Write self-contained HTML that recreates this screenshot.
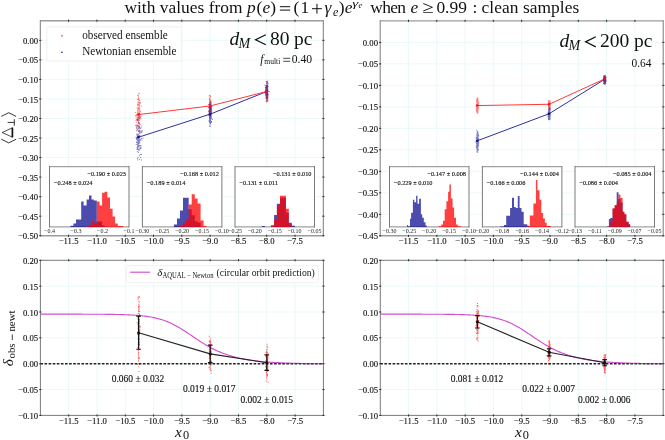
<!DOCTYPE html>
<html><head><meta charset="utf-8"><style>
html,body{margin:0;padding:0;background:#fff;}
body{width:665px;height:440px;overflow:hidden;font-family:"Liberation Serif", serif;}
svg{display:block;will-change:transform;}
</style></head><body>
<svg width="665" height="440" viewBox="0 0 665 440" font-family='"Liberation Serif", serif' fill="#111">
<style>text.s{stroke:#111;stroke-width:0.14px;}</style>
<rect width="665" height="440" fill="#fff"/>
<line x1="68.6" y1="20.8" x2="68.6" y2="235.7" stroke="#e9f8f8" stroke-width="0.9"/>
<line x1="96.9" y1="20.8" x2="96.9" y2="235.7" stroke="#e9f8f8" stroke-width="0.9"/>
<line x1="125.2" y1="20.8" x2="125.2" y2="235.7" stroke="#e9f8f8" stroke-width="0.9"/>
<line x1="153.5" y1="20.8" x2="153.5" y2="235.7" stroke="#e9f8f8" stroke-width="0.9"/>
<line x1="181.8" y1="20.8" x2="181.8" y2="235.7" stroke="#e9f8f8" stroke-width="0.9"/>
<line x1="210.1" y1="20.8" x2="210.1" y2="235.7" stroke="#e9f8f8" stroke-width="0.9"/>
<line x1="238.4" y1="20.8" x2="238.4" y2="235.7" stroke="#e9f8f8" stroke-width="0.9"/>
<line x1="266.7" y1="20.8" x2="266.7" y2="235.7" stroke="#e9f8f8" stroke-width="0.9"/>
<line x1="295" y1="20.8" x2="295" y2="235.7" stroke="#e9f8f8" stroke-width="0.9"/>
<line x1="40.3" y1="40.34" x2="323.3" y2="40.34" stroke="#e9f8f8" stroke-width="0.9"/>
<line x1="40.3" y1="59.87" x2="323.3" y2="59.87" stroke="#e9f8f8" stroke-width="0.9"/>
<line x1="40.3" y1="79.41" x2="323.3" y2="79.41" stroke="#e9f8f8" stroke-width="0.9"/>
<line x1="40.3" y1="98.95" x2="323.3" y2="98.95" stroke="#e9f8f8" stroke-width="0.9"/>
<line x1="40.3" y1="118.48" x2="323.3" y2="118.48" stroke="#e9f8f8" stroke-width="0.9"/>
<line x1="40.3" y1="138.02" x2="323.3" y2="138.02" stroke="#e9f8f8" stroke-width="0.9"/>
<line x1="40.3" y1="157.55" x2="323.3" y2="157.55" stroke="#e9f8f8" stroke-width="0.9"/>
<line x1="40.3" y1="177.09" x2="323.3" y2="177.09" stroke="#e9f8f8" stroke-width="0.9"/>
<line x1="40.3" y1="196.63" x2="323.3" y2="196.63" stroke="#e9f8f8" stroke-width="0.9"/>
<line x1="40.3" y1="216.16" x2="323.3" y2="216.16" stroke="#e9f8f8" stroke-width="0.9"/>
<line x1="40.3" y1="235.7" x2="323.3" y2="235.7" stroke="#e9f8f8" stroke-width="0.9"/>
<text x="68.6" y="244.2" font-size="9.13" text-anchor="middle" class="s" textLength="19.81" lengthAdjust="spacingAndGlyphs">−11.5</text>
<text x="96.9" y="244.2" font-size="9.13" text-anchor="middle" class="s" textLength="19.81" lengthAdjust="spacingAndGlyphs">−11.0</text>
<text x="125.2" y="244.2" font-size="9.13" text-anchor="middle" class="s" textLength="20.13" lengthAdjust="spacingAndGlyphs">−10.5</text>
<text x="153.5" y="244.2" font-size="9.13" text-anchor="middle" class="s" textLength="20.13" lengthAdjust="spacingAndGlyphs">−10.0</text>
<text x="181.8" y="244.2" font-size="9.13" text-anchor="middle" class="s" textLength="15.78" lengthAdjust="spacingAndGlyphs">−9.5</text>
<text x="210.1" y="244.2" font-size="9.13" text-anchor="middle" class="s" textLength="15.78" lengthAdjust="spacingAndGlyphs">−9.0</text>
<text x="238.4" y="244.2" font-size="9.13" text-anchor="middle" class="s" textLength="15.78" lengthAdjust="spacingAndGlyphs">−8.5</text>
<text x="266.7" y="244.2" font-size="9.13" text-anchor="middle" class="s" textLength="15.78" lengthAdjust="spacingAndGlyphs">−8.0</text>
<text x="295" y="244.2" font-size="9.13" text-anchor="middle" class="s" textLength="15.78" lengthAdjust="spacingAndGlyphs">−7.5</text>
<text x="38.1" y="43.89" font-size="9.13" text-anchor="end" class="s" textLength="15.22" lengthAdjust="spacingAndGlyphs">0.00</text>
<text x="38.1" y="63.42" font-size="9.13" text-anchor="end" class="s" textLength="20.13" lengthAdjust="spacingAndGlyphs">−0.05</text>
<text x="38.1" y="82.96" font-size="9.13" text-anchor="end" class="s" textLength="20.13" lengthAdjust="spacingAndGlyphs">−0.10</text>
<text x="38.1" y="102.5" font-size="9.13" text-anchor="end" class="s" textLength="20.13" lengthAdjust="spacingAndGlyphs">−0.15</text>
<text x="38.1" y="122.03" font-size="9.13" text-anchor="end" class="s" textLength="20.13" lengthAdjust="spacingAndGlyphs">−0.20</text>
<text x="38.1" y="141.57" font-size="9.13" text-anchor="end" class="s" textLength="20.13" lengthAdjust="spacingAndGlyphs">−0.25</text>
<text x="38.1" y="161.1" font-size="9.13" text-anchor="end" class="s" textLength="20.13" lengthAdjust="spacingAndGlyphs">−0.30</text>
<text x="38.1" y="180.64" font-size="9.13" text-anchor="end" class="s" textLength="20.13" lengthAdjust="spacingAndGlyphs">−0.35</text>
<text x="38.1" y="200.18" font-size="9.13" text-anchor="end" class="s" textLength="20.13" lengthAdjust="spacingAndGlyphs">−0.40</text>
<text x="38.1" y="219.71" font-size="9.13" text-anchor="end" class="s" textLength="20.13" lengthAdjust="spacingAndGlyphs">−0.45</text>
<text x="38.1" y="239.25" font-size="9.13" text-anchor="end" class="s" textLength="20.13" lengthAdjust="spacingAndGlyphs">−0.50</text>
<line x1="408.5" y1="20.9" x2="408.5" y2="235.8" stroke="#e9f8f8" stroke-width="0.9"/>
<line x1="436.8" y1="20.9" x2="436.8" y2="235.8" stroke="#e9f8f8" stroke-width="0.9"/>
<line x1="465.1" y1="20.9" x2="465.1" y2="235.8" stroke="#e9f8f8" stroke-width="0.9"/>
<line x1="493.4" y1="20.9" x2="493.4" y2="235.8" stroke="#e9f8f8" stroke-width="0.9"/>
<line x1="521.7" y1="20.9" x2="521.7" y2="235.8" stroke="#e9f8f8" stroke-width="0.9"/>
<line x1="550" y1="20.9" x2="550" y2="235.8" stroke="#e9f8f8" stroke-width="0.9"/>
<line x1="578.3" y1="20.9" x2="578.3" y2="235.8" stroke="#e9f8f8" stroke-width="0.9"/>
<line x1="606.6" y1="20.9" x2="606.6" y2="235.8" stroke="#e9f8f8" stroke-width="0.9"/>
<line x1="634.9" y1="20.9" x2="634.9" y2="235.8" stroke="#e9f8f8" stroke-width="0.9"/>
<line x1="380.2" y1="42.39" x2="663.2" y2="42.39" stroke="#e9f8f8" stroke-width="0.9"/>
<line x1="380.2" y1="63.88" x2="663.2" y2="63.88" stroke="#e9f8f8" stroke-width="0.9"/>
<line x1="380.2" y1="85.37" x2="663.2" y2="85.37" stroke="#e9f8f8" stroke-width="0.9"/>
<line x1="380.2" y1="106.86" x2="663.2" y2="106.86" stroke="#e9f8f8" stroke-width="0.9"/>
<line x1="380.2" y1="128.35" x2="663.2" y2="128.35" stroke="#e9f8f8" stroke-width="0.9"/>
<line x1="380.2" y1="149.84" x2="663.2" y2="149.84" stroke="#e9f8f8" stroke-width="0.9"/>
<line x1="380.2" y1="171.33" x2="663.2" y2="171.33" stroke="#e9f8f8" stroke-width="0.9"/>
<line x1="380.2" y1="192.82" x2="663.2" y2="192.82" stroke="#e9f8f8" stroke-width="0.9"/>
<line x1="380.2" y1="214.31" x2="663.2" y2="214.31" stroke="#e9f8f8" stroke-width="0.9"/>
<line x1="380.2" y1="235.8" x2="663.2" y2="235.8" stroke="#e9f8f8" stroke-width="0.9"/>
<text x="408.5" y="244.4" font-size="9.13" text-anchor="middle" class="s" textLength="19.81" lengthAdjust="spacingAndGlyphs">−11.5</text>
<text x="436.8" y="244.4" font-size="9.13" text-anchor="middle" class="s" textLength="19.81" lengthAdjust="spacingAndGlyphs">−11.0</text>
<text x="465.1" y="244.4" font-size="9.13" text-anchor="middle" class="s" textLength="20.13" lengthAdjust="spacingAndGlyphs">−10.5</text>
<text x="493.4" y="244.4" font-size="9.13" text-anchor="middle" class="s" textLength="20.13" lengthAdjust="spacingAndGlyphs">−10.0</text>
<text x="521.7" y="244.4" font-size="9.13" text-anchor="middle" class="s" textLength="15.78" lengthAdjust="spacingAndGlyphs">−9.5</text>
<text x="550" y="244.4" font-size="9.13" text-anchor="middle" class="s" textLength="15.78" lengthAdjust="spacingAndGlyphs">−9.0</text>
<text x="578.3" y="244.4" font-size="9.13" text-anchor="middle" class="s" textLength="15.78" lengthAdjust="spacingAndGlyphs">−8.5</text>
<text x="606.6" y="244.4" font-size="9.13" text-anchor="middle" class="s" textLength="15.78" lengthAdjust="spacingAndGlyphs">−8.0</text>
<text x="634.9" y="244.4" font-size="9.13" text-anchor="middle" class="s" textLength="15.78" lengthAdjust="spacingAndGlyphs">−7.5</text>
<text x="378" y="45.94" font-size="9.13" text-anchor="end" class="s" textLength="15.22" lengthAdjust="spacingAndGlyphs">0.00</text>
<text x="378" y="67.43" font-size="9.13" text-anchor="end" class="s" textLength="20.13" lengthAdjust="spacingAndGlyphs">−0.05</text>
<text x="378" y="88.92" font-size="9.13" text-anchor="end" class="s" textLength="20.13" lengthAdjust="spacingAndGlyphs">−0.10</text>
<text x="378" y="110.41" font-size="9.13" text-anchor="end" class="s" textLength="20.13" lengthAdjust="spacingAndGlyphs">−0.15</text>
<text x="378" y="131.9" font-size="9.13" text-anchor="end" class="s" textLength="20.13" lengthAdjust="spacingAndGlyphs">−0.20</text>
<text x="378" y="153.39" font-size="9.13" text-anchor="end" class="s" textLength="20.13" lengthAdjust="spacingAndGlyphs">−0.25</text>
<text x="378" y="174.88" font-size="9.13" text-anchor="end" class="s" textLength="20.13" lengthAdjust="spacingAndGlyphs">−0.30</text>
<text x="378" y="196.37" font-size="9.13" text-anchor="end" class="s" textLength="20.13" lengthAdjust="spacingAndGlyphs">−0.35</text>
<text x="378" y="217.86" font-size="9.13" text-anchor="end" class="s" textLength="20.13" lengthAdjust="spacingAndGlyphs">−0.40</text>
<text x="378" y="239.35" font-size="9.13" text-anchor="end" class="s" textLength="20.13" lengthAdjust="spacingAndGlyphs">−0.45</text>
<line x1="68.7" y1="260.3" x2="68.7" y2="415.4" stroke="#e9f8f8" stroke-width="0.9"/>
<line x1="97" y1="260.3" x2="97" y2="415.4" stroke="#e9f8f8" stroke-width="0.9"/>
<line x1="125.3" y1="260.3" x2="125.3" y2="415.4" stroke="#e9f8f8" stroke-width="0.9"/>
<line x1="153.6" y1="260.3" x2="153.6" y2="415.4" stroke="#e9f8f8" stroke-width="0.9"/>
<line x1="181.9" y1="260.3" x2="181.9" y2="415.4" stroke="#e9f8f8" stroke-width="0.9"/>
<line x1="210.2" y1="260.3" x2="210.2" y2="415.4" stroke="#e9f8f8" stroke-width="0.9"/>
<line x1="238.5" y1="260.3" x2="238.5" y2="415.4" stroke="#e9f8f8" stroke-width="0.9"/>
<line x1="266.8" y1="260.3" x2="266.8" y2="415.4" stroke="#e9f8f8" stroke-width="0.9"/>
<line x1="295.1" y1="260.3" x2="295.1" y2="415.4" stroke="#e9f8f8" stroke-width="0.9"/>
<line x1="40.4" y1="260.3" x2="323.4" y2="260.3" stroke="#e9f8f8" stroke-width="0.9"/>
<line x1="40.4" y1="286.15" x2="323.4" y2="286.15" stroke="#e9f8f8" stroke-width="0.9"/>
<line x1="40.4" y1="312" x2="323.4" y2="312" stroke="#e9f8f8" stroke-width="0.9"/>
<line x1="40.4" y1="337.85" x2="323.4" y2="337.85" stroke="#e9f8f8" stroke-width="0.9"/>
<line x1="40.4" y1="363.7" x2="323.4" y2="363.7" stroke="#e9f8f8" stroke-width="0.9"/>
<line x1="40.4" y1="389.55" x2="323.4" y2="389.55" stroke="#e9f8f8" stroke-width="0.9"/>
<line x1="40.4" y1="415.4" x2="323.4" y2="415.4" stroke="#e9f8f8" stroke-width="0.9"/>
<text x="68.7" y="424.2" font-size="9.13" text-anchor="middle" class="s" textLength="19.81" lengthAdjust="spacingAndGlyphs">−11.5</text>
<text x="97" y="424.2" font-size="9.13" text-anchor="middle" class="s" textLength="19.81" lengthAdjust="spacingAndGlyphs">−11.0</text>
<text x="125.3" y="424.2" font-size="9.13" text-anchor="middle" class="s" textLength="20.13" lengthAdjust="spacingAndGlyphs">−10.5</text>
<text x="153.6" y="424.2" font-size="9.13" text-anchor="middle" class="s" textLength="20.13" lengthAdjust="spacingAndGlyphs">−10.0</text>
<text x="181.9" y="424.2" font-size="9.13" text-anchor="middle" class="s" textLength="15.78" lengthAdjust="spacingAndGlyphs">−9.5</text>
<text x="210.2" y="424.2" font-size="9.13" text-anchor="middle" class="s" textLength="15.78" lengthAdjust="spacingAndGlyphs">−9.0</text>
<text x="238.5" y="424.2" font-size="9.13" text-anchor="middle" class="s" textLength="15.78" lengthAdjust="spacingAndGlyphs">−8.5</text>
<text x="266.8" y="424.2" font-size="9.13" text-anchor="middle" class="s" textLength="15.78" lengthAdjust="spacingAndGlyphs">−8.0</text>
<text x="295.1" y="424.2" font-size="9.13" text-anchor="middle" class="s" textLength="15.78" lengthAdjust="spacingAndGlyphs">−7.5</text>
<text x="38.2" y="263.85" font-size="9.13" text-anchor="end" class="s" textLength="15.22" lengthAdjust="spacingAndGlyphs">0.20</text>
<text x="38.2" y="289.7" font-size="9.13" text-anchor="end" class="s" textLength="15.22" lengthAdjust="spacingAndGlyphs">0.15</text>
<text x="38.2" y="315.55" font-size="9.13" text-anchor="end" class="s" textLength="15.22" lengthAdjust="spacingAndGlyphs">0.10</text>
<text x="38.2" y="341.4" font-size="9.13" text-anchor="end" class="s" textLength="15.22" lengthAdjust="spacingAndGlyphs">0.05</text>
<text x="38.2" y="367.25" font-size="9.13" text-anchor="end" class="s" textLength="15.22" lengthAdjust="spacingAndGlyphs">0.00</text>
<text x="38.2" y="393.1" font-size="9.13" text-anchor="end" class="s" textLength="20.13" lengthAdjust="spacingAndGlyphs">−0.05</text>
<text x="38.2" y="418.95" font-size="9.13" text-anchor="end" class="s" textLength="20.13" lengthAdjust="spacingAndGlyphs">−0.10</text>
<line x1="408.59" y1="260.3" x2="408.59" y2="415.4" stroke="#e9f8f8" stroke-width="0.9"/>
<line x1="436.88" y1="260.3" x2="436.88" y2="415.4" stroke="#e9f8f8" stroke-width="0.9"/>
<line x1="465.17" y1="260.3" x2="465.17" y2="415.4" stroke="#e9f8f8" stroke-width="0.9"/>
<line x1="493.46" y1="260.3" x2="493.46" y2="415.4" stroke="#e9f8f8" stroke-width="0.9"/>
<line x1="521.75" y1="260.3" x2="521.75" y2="415.4" stroke="#e9f8f8" stroke-width="0.9"/>
<line x1="550.04" y1="260.3" x2="550.04" y2="415.4" stroke="#e9f8f8" stroke-width="0.9"/>
<line x1="578.33" y1="260.3" x2="578.33" y2="415.4" stroke="#e9f8f8" stroke-width="0.9"/>
<line x1="606.62" y1="260.3" x2="606.62" y2="415.4" stroke="#e9f8f8" stroke-width="0.9"/>
<line x1="634.91" y1="260.3" x2="634.91" y2="415.4" stroke="#e9f8f8" stroke-width="0.9"/>
<line x1="380.3" y1="260.3" x2="663.2" y2="260.3" stroke="#e9f8f8" stroke-width="0.9"/>
<line x1="380.3" y1="286.15" x2="663.2" y2="286.15" stroke="#e9f8f8" stroke-width="0.9"/>
<line x1="380.3" y1="312" x2="663.2" y2="312" stroke="#e9f8f8" stroke-width="0.9"/>
<line x1="380.3" y1="337.85" x2="663.2" y2="337.85" stroke="#e9f8f8" stroke-width="0.9"/>
<line x1="380.3" y1="363.7" x2="663.2" y2="363.7" stroke="#e9f8f8" stroke-width="0.9"/>
<line x1="380.3" y1="389.55" x2="663.2" y2="389.55" stroke="#e9f8f8" stroke-width="0.9"/>
<line x1="380.3" y1="415.4" x2="663.2" y2="415.4" stroke="#e9f8f8" stroke-width="0.9"/>
<text x="408.59" y="424.2" font-size="9.13" text-anchor="middle" class="s" textLength="19.81" lengthAdjust="spacingAndGlyphs">−11.5</text>
<text x="436.88" y="424.2" font-size="9.13" text-anchor="middle" class="s" textLength="19.81" lengthAdjust="spacingAndGlyphs">−11.0</text>
<text x="465.17" y="424.2" font-size="9.13" text-anchor="middle" class="s" textLength="20.13" lengthAdjust="spacingAndGlyphs">−10.5</text>
<text x="493.46" y="424.2" font-size="9.13" text-anchor="middle" class="s" textLength="20.13" lengthAdjust="spacingAndGlyphs">−10.0</text>
<text x="521.75" y="424.2" font-size="9.13" text-anchor="middle" class="s" textLength="15.78" lengthAdjust="spacingAndGlyphs">−9.5</text>
<text x="550.04" y="424.2" font-size="9.13" text-anchor="middle" class="s" textLength="15.78" lengthAdjust="spacingAndGlyphs">−9.0</text>
<text x="578.33" y="424.2" font-size="9.13" text-anchor="middle" class="s" textLength="15.78" lengthAdjust="spacingAndGlyphs">−8.5</text>
<text x="606.62" y="424.2" font-size="9.13" text-anchor="middle" class="s" textLength="15.78" lengthAdjust="spacingAndGlyphs">−8.0</text>
<text x="634.91" y="424.2" font-size="9.13" text-anchor="middle" class="s" textLength="15.78" lengthAdjust="spacingAndGlyphs">−7.5</text>
<text x="378.1" y="263.85" font-size="9.13" text-anchor="end" class="s" textLength="15.22" lengthAdjust="spacingAndGlyphs">0.20</text>
<text x="378.1" y="289.7" font-size="9.13" text-anchor="end" class="s" textLength="15.22" lengthAdjust="spacingAndGlyphs">0.15</text>
<text x="378.1" y="315.55" font-size="9.13" text-anchor="end" class="s" textLength="15.22" lengthAdjust="spacingAndGlyphs">0.10</text>
<text x="378.1" y="341.4" font-size="9.13" text-anchor="end" class="s" textLength="15.22" lengthAdjust="spacingAndGlyphs">0.05</text>
<text x="378.1" y="367.25" font-size="9.13" text-anchor="end" class="s" textLength="15.22" lengthAdjust="spacingAndGlyphs">0.00</text>
<text x="378.1" y="393.1" font-size="9.13" text-anchor="end" class="s" textLength="20.13" lengthAdjust="spacingAndGlyphs">−0.05</text>
<text x="378.1" y="418.95" font-size="9.13" text-anchor="end" class="s" textLength="20.13" lengthAdjust="spacingAndGlyphs">−0.10</text>
<path d="M139.62 101.55h1.0v1.0h-1.0zM138.11 104.07h1.0v1.0h-1.0zM136.99 136.53h1.0v1.0h-1.0zM140.28 111.55h1.0v1.0h-1.0zM138.16 115.16h1.0v1.0h-1.0zM138 120.95h1.0v1.0h-1.0zM138.38 116.79h1.0v1.0h-1.0zM135.54 120.05h1.0v1.0h-1.0zM138.4 98.93h1.0v1.0h-1.0zM138.37 105.08h1.0v1.0h-1.0zM138.24 108.1h1.0v1.0h-1.0zM137.24 111.4h1.0v1.0h-1.0zM138.91 124.34h1.0v1.0h-1.0zM138.89 109.01h1.0v1.0h-1.0zM137.5 135.05h1.0v1.0h-1.0zM138.97 126.3h1.0v1.0h-1.0zM136.14 124.3h1.0v1.0h-1.0zM136.63 115.25h1.0v1.0h-1.0zM138.24 98.53h1.0v1.0h-1.0zM138.82 104.54h1.0v1.0h-1.0zM137.65 122.32h1.0v1.0h-1.0zM136.17 115.4h1.0v1.0h-1.0zM137.12 103.56h1.0v1.0h-1.0zM139.86 110.79h1.0v1.0h-1.0zM137.2 119.54h1.0v1.0h-1.0zM134.92 114.93h1.0v1.0h-1.0zM135.96 118.97h1.0v1.0h-1.0zM135.35 116.49h1.0v1.0h-1.0zM137.28 112.77h1.0v1.0h-1.0zM138.27 114.83h1.0v1.0h-1.0zM139.17 131.5h1.0v1.0h-1.0zM138.65 124.7h1.0v1.0h-1.0zM137.8 113.21h1.0v1.0h-1.0zM137.46 117.13h1.0v1.0h-1.0zM137.08 113.78h1.0v1.0h-1.0zM136.6 117.58h1.0v1.0h-1.0zM137.89 114.02h1.0v1.0h-1.0zM138.82 103.89h1.0v1.0h-1.0zM138.76 129.89h1.0v1.0h-1.0zM138.08 97.33h1.0v1.0h-1.0zM138.33 113.17h1.0v1.0h-1.0zM138.18 126.14h1.0v1.0h-1.0zM137.41 124.49h1.0v1.0h-1.0zM138.9 105.3h1.0v1.0h-1.0zM137.89 100.55h1.0v1.0h-1.0zM137.59 99h1.0v1.0h-1.0zM137.25 108.43h1.0v1.0h-1.0zM140.05 102.4h1.0v1.0h-1.0zM138.55 102.72h1.0v1.0h-1.0zM138.37 114.2h1.0v1.0h-1.0zM138.02 119.78h1.0v1.0h-1.0zM137.53 124.72h1.0v1.0h-1.0zM140.17 117.03h1.0v1.0h-1.0zM138.43 101.76h1.0v1.0h-1.0zM137.26 118.2h1.0v1.0h-1.0zM139.05 111.84h1.0v1.0h-1.0zM138.84 119.99h1.0v1.0h-1.0zM137.15 94.81h1.0v1.0h-1.0zM137.4 108.72h1.0v1.0h-1.0zM138.38 116.3h1.0v1.0h-1.0zM139.59 117.32h1.0v1.0h-1.0zM140.23 132.48h1.0v1.0h-1.0zM137.04 115.06h1.0v1.0h-1.0zM138.62 101.63h1.0v1.0h-1.0zM138.34 110.61h1.0v1.0h-1.0zM137.77 104.44h1.0v1.0h-1.0zM138.46 106.94h1.0v1.0h-1.0zM138.36 122.58h1.0v1.0h-1.0zM137.16 129.82h1.0v1.0h-1.0zM136.84 99.12h1.0v1.0h-1.0zM134.85 112.03h1.0v1.0h-1.0zM138.08 118.31h1.0v1.0h-1.0zM138.82 117.87h1.0v1.0h-1.0zM136.38 124.73h1.0v1.0h-1.0zM137.64 108.29h1.0v1.0h-1.0zM135.9 128.14h1.0v1.0h-1.0zM139.1 100.04h1.0v1.0h-1.0zM138.58 113.72h1.0v1.0h-1.0zM138.66 130.97h1.0v1.0h-1.0zM136.66 124.96h1.0v1.0h-1.0zM137.42 119.25h1.0v1.0h-1.0zM137.9 95.77h1.0v1.0h-1.0zM139.28 119.08h1.0v1.0h-1.0zM137.91 120.45h1.0v1.0h-1.0zM138.4 116.27h1.0v1.0h-1.0zM139.34 115.76h1.0v1.0h-1.0zM138.57 108.77h1.0v1.0h-1.0zM140.15 102.68h1.0v1.0h-1.0zM140.6 118.23h1.0v1.0h-1.0zM138.12 97.18h1.0v1.0h-1.0zM137.96 118.12h1.0v1.0h-1.0zM139.1 115.4h1.0v1.0h-1.0zM137.21 110.47h1.0v1.0h-1.0zM140.73 126.88h1.0v1.0h-1.0zM138.76 110.55h1.0v1.0h-1.0zM139.57 115.99h1.0v1.0h-1.0zM137.69 120.49h1.0v1.0h-1.0zM137.85 103.82h1.0v1.0h-1.0zM137.21 125.11h1.0v1.0h-1.0zM137.4 109.69h1.0v1.0h-1.0zM137.25 98.67h1.0v1.0h-1.0zM137.82 106.91h1.0v1.0h-1.0zM136.8 120.34h1.0v1.0h-1.0zM139 113.12h1.0v1.0h-1.0zM137.74 116.43h1.0v1.0h-1.0zM137.53 120.17h1.0v1.0h-1.0zM135.88 113.82h1.0v1.0h-1.0zM136.12 114.82h1.0v1.0h-1.0zM138.82 116.31h1.0v1.0h-1.0zM140.26 116.16h1.0v1.0h-1.0zM139.22 107.85h1.0v1.0h-1.0zM138.4 115.79h1.0v1.0h-1.0zM139.84 123.85h1.0v1.0h-1.0zM139.17 127.1h1.0v1.0h-1.0zM138.68 105.97h1.0v1.0h-1.0zM137.78 127.59h1.0v1.0h-1.0zM140.85 105.47h1.0v1.0h-1.0zM136.8 117.99h1.0v1.0h-1.0zM137.06 111.97h1.0v1.0h-1.0zM138.14 112.58h1.0v1.0h-1.0zM136.87 104.64h1.0v1.0h-1.0zM137.77 107.99h1.0v1.0h-1.0zM138.03 97.71h1.0v1.0h-1.0zM136.87 107.37h1.0v1.0h-1.0zM139.55 114.06h1.0v1.0h-1.0zM137.42 122.34h1.0v1.0h-1.0zM138.05 121.16h1.0v1.0h-1.0zM137.34 113.72h1.0v1.0h-1.0zM135.84 121.83h1.0v1.0h-1.0zM137.89 92.82h1.0v1.0h-1.0zM139.38 109.9h1.0v1.0h-1.0zM139.2 101.67h1.0v1.0h-1.0zM137.49 101.8h1.0v1.0h-1.0zM136.92 104.49h1.0v1.0h-1.0zM136.29 124.49h1.0v1.0h-1.0zM139.59 117.48h1.0v1.0h-1.0zM138.15 108.28h1.0v1.0h-1.0zM138.17 117.51h1.0v1.0h-1.0zM137.93 122.71h1.0v1.0h-1.0zM139.09 93.31h1.0v1.0h-1.0zM140.21 116.5h1.0v1.0h-1.0zM137.87 94.84h1.0v1.0h-1.0zM139.42 102.66h1.0v1.0h-1.0zM137.2 126.34h1.0v1.0h-1.0zM140.85 125.53h1.0v1.0h-1.0z" fill="#ff0000" fill-opacity="0.5"/>
<path d="M136.52 133.7h1.0v1.0h-1.0zM136.6 134.85h1.0v1.0h-1.0zM138.79 126.94h1.0v1.0h-1.0zM138.31 141.26h1.0v1.0h-1.0zM140.19 128.02h1.0v1.0h-1.0zM141.8 130.31h1.0v1.0h-1.0zM137.11 147.91h1.0v1.0h-1.0zM139.77 135.4h1.0v1.0h-1.0zM138.51 126.2h1.0v1.0h-1.0zM136.75 134.97h1.0v1.0h-1.0zM136.26 138.84h1.0v1.0h-1.0zM137.38 146.08h1.0v1.0h-1.0zM142.54 137.69h1.0v1.0h-1.0zM137.85 145.11h1.0v1.0h-1.0zM138.03 133.77h1.0v1.0h-1.0zM136.06 126.6h1.0v1.0h-1.0zM140.64 145.29h1.0v1.0h-1.0zM138.88 117.3h1.0v1.0h-1.0zM139.48 139.21h1.0v1.0h-1.0zM136.56 149.07h1.0v1.0h-1.0zM139.17 132.85h1.0v1.0h-1.0zM138.18 141.93h1.0v1.0h-1.0zM138.53 135.28h1.0v1.0h-1.0zM138.9 126.45h1.0v1.0h-1.0zM138.94 113.15h1.0v1.0h-1.0zM137.74 140.9h1.0v1.0h-1.0zM138.39 130h1.0v1.0h-1.0zM138.52 144.78h1.0v1.0h-1.0zM138.48 128.13h1.0v1.0h-1.0zM137.77 140.59h1.0v1.0h-1.0zM138.39 130.18h1.0v1.0h-1.0zM137.62 125.48h1.0v1.0h-1.0zM139.64 130.59h1.0v1.0h-1.0zM137.12 142.61h1.0v1.0h-1.0zM139.63 139.98h1.0v1.0h-1.0zM138.72 141.67h1.0v1.0h-1.0zM140.21 146.65h1.0v1.0h-1.0zM138.96 122.94h1.0v1.0h-1.0zM139.22 115.55h1.0v1.0h-1.0zM137.04 147.34h1.0v1.0h-1.0zM141.46 131.45h1.0v1.0h-1.0zM137.86 144.17h1.0v1.0h-1.0zM137.24 141.69h1.0v1.0h-1.0zM138.06 140.72h1.0v1.0h-1.0zM135.73 143.92h1.0v1.0h-1.0zM137.59 116.67h1.0v1.0h-1.0zM139.2 136.46h1.0v1.0h-1.0zM138.92 135.07h1.0v1.0h-1.0zM137.52 139.42h1.0v1.0h-1.0zM141.04 153.89h1.0v1.0h-1.0zM137.51 156.94h1.0v1.0h-1.0zM138.4 136.85h1.0v1.0h-1.0zM137.15 145.36h1.0v1.0h-1.0zM136.07 141.61h1.0v1.0h-1.0zM137.98 151.81h1.0v1.0h-1.0zM139.22 141.68h1.0v1.0h-1.0zM140.34 148.31h1.0v1.0h-1.0zM138.82 155.35h1.0v1.0h-1.0zM137.23 143.74h1.0v1.0h-1.0zM137.73 139.66h1.0v1.0h-1.0zM140.89 138.05h1.0v1.0h-1.0zM136.49 127.38h1.0v1.0h-1.0zM135.79 126.13h1.0v1.0h-1.0zM138.15 139.54h1.0v1.0h-1.0zM137.2 136.43h1.0v1.0h-1.0zM136.31 137.01h1.0v1.0h-1.0zM138.14 135.82h1.0v1.0h-1.0zM137.76 142.91h1.0v1.0h-1.0zM139.77 144.93h1.0v1.0h-1.0zM139.07 142.49h1.0v1.0h-1.0zM138.6 127.8h1.0v1.0h-1.0zM140.5 147.15h1.0v1.0h-1.0zM137.15 144.17h1.0v1.0h-1.0zM135.62 136.84h1.0v1.0h-1.0zM137.37 159.51h1.0v1.0h-1.0zM138.86 128.27h1.0v1.0h-1.0zM138.46 127.79h1.0v1.0h-1.0zM136.99 136.92h1.0v1.0h-1.0zM139.6 139.21h1.0v1.0h-1.0zM140.8 130.87h1.0v1.0h-1.0zM137.71 149.02h1.0v1.0h-1.0zM138.22 140.26h1.0v1.0h-1.0zM137.87 136.65h1.0v1.0h-1.0zM138.21 128.48h1.0v1.0h-1.0zM137.16 144.64h1.0v1.0h-1.0zM136.79 151.32h1.0v1.0h-1.0zM137.8 142.97h1.0v1.0h-1.0zM138.24 135.99h1.0v1.0h-1.0zM137.96 142.98h1.0v1.0h-1.0zM136.99 125.28h1.0v1.0h-1.0zM136.47 147.61h1.0v1.0h-1.0zM140.09 147.72h1.0v1.0h-1.0zM136.37 133.45h1.0v1.0h-1.0zM136.92 128.73h1.0v1.0h-1.0zM139.08 158.8h1.0v1.0h-1.0zM137.63 142.4h1.0v1.0h-1.0zM138.94 149.45h1.0v1.0h-1.0zM138.8 117.65h1.0v1.0h-1.0zM139.78 138.89h1.0v1.0h-1.0zM136.9 118.64h1.0v1.0h-1.0zM137.83 134.06h1.0v1.0h-1.0zM135.99 142.22h1.0v1.0h-1.0zM140.53 132.08h1.0v1.0h-1.0zM138.4 142.73h1.0v1.0h-1.0zM138.32 145.76h1.0v1.0h-1.0zM136.03 138.8h1.0v1.0h-1.0zM136.96 158.25h1.0v1.0h-1.0zM138.69 138.49h1.0v1.0h-1.0zM137.07 138.53h1.0v1.0h-1.0zM137.11 145.97h1.0v1.0h-1.0zM137.08 140.22h1.0v1.0h-1.0zM139.76 153.88h1.0v1.0h-1.0zM140.22 157.11h1.0v1.0h-1.0zM137.35 140.02h1.0v1.0h-1.0zM136.34 137.67h1.0v1.0h-1.0zM139.72 139.4h1.0v1.0h-1.0zM138.69 148.68h1.0v1.0h-1.0zM137.97 140.46h1.0v1.0h-1.0zM135.29 125.11h1.0v1.0h-1.0zM137.97 119.32h1.0v1.0h-1.0zM135.91 130.26h1.0v1.0h-1.0zM137 136.03h1.0v1.0h-1.0zM138.2 139.22h1.0v1.0h-1.0zM138.44 123.09h1.0v1.0h-1.0zM137.01 119.75h1.0v1.0h-1.0zM138.07 142h1.0v1.0h-1.0zM138.15 131.01h1.0v1.0h-1.0zM136.96 133.71h1.0v1.0h-1.0zM137.38 138.25h1.0v1.0h-1.0zM136.86 147.06h1.0v1.0h-1.0zM139.24 147.61h1.0v1.0h-1.0zM138.39 121.92h1.0v1.0h-1.0zM139.1 141.93h1.0v1.0h-1.0zM138.98 140.31h1.0v1.0h-1.0zM138.69 140.5h1.0v1.0h-1.0zM138 149.46h1.0v1.0h-1.0zM138.84 145.77h1.0v1.0h-1.0zM139.1 130.46h1.0v1.0h-1.0zM139.04 136.54h1.0v1.0h-1.0zM141.12 159.38h1.0v1.0h-1.0zM135.91 137.8h1.0v1.0h-1.0zM137.81 146.72h1.0v1.0h-1.0zM138.44 135.63h1.0v1.0h-1.0zM136.43 139.16h1.0v1.0h-1.0zM138.51 131.43h1.0v1.0h-1.0zM141.19 139.46h1.0v1.0h-1.0z" fill="#00008b" fill-opacity="0.5"/>
<path d="M211.15 111.26h1.0v1.0h-1.0zM210.73 101.45h1.0v1.0h-1.0zM209.5 109.5h1.0v1.0h-1.0zM209.13 109.83h1.0v1.0h-1.0zM209.21 104h1.0v1.0h-1.0zM211.21 106.35h1.0v1.0h-1.0zM209.3 103.84h1.0v1.0h-1.0zM210.41 105.08h1.0v1.0h-1.0zM208.83 99.21h1.0v1.0h-1.0zM209.34 108.15h1.0v1.0h-1.0zM209.6 103.71h1.0v1.0h-1.0zM210.65 106.04h1.0v1.0h-1.0zM210.59 111.17h1.0v1.0h-1.0zM210.6 110.38h1.0v1.0h-1.0zM208.73 95.49h1.0v1.0h-1.0zM210.28 99.32h1.0v1.0h-1.0zM209.03 104.59h1.0v1.0h-1.0zM210.38 108.49h1.0v1.0h-1.0zM209 98.27h1.0v1.0h-1.0zM209 104.51h1.0v1.0h-1.0zM209.64 111.32h1.0v1.0h-1.0zM209.33 99.49h1.0v1.0h-1.0zM210.15 108h1.0v1.0h-1.0zM209.2 95.02h1.0v1.0h-1.0zM209.03 106.13h1.0v1.0h-1.0zM209.31 108.11h1.0v1.0h-1.0zM208.35 106.79h1.0v1.0h-1.0zM210.74 102.02h1.0v1.0h-1.0zM210.08 107.65h1.0v1.0h-1.0zM210.56 103.52h1.0v1.0h-1.0zM208.58 107.27h1.0v1.0h-1.0zM210.05 96.61h1.0v1.0h-1.0zM209.72 107.15h1.0v1.0h-1.0zM210.17 95.47h1.0v1.0h-1.0zM209.88 106.28h1.0v1.0h-1.0zM210.21 105.5h1.0v1.0h-1.0zM209.96 103.49h1.0v1.0h-1.0zM209.62 105.06h1.0v1.0h-1.0zM209.84 104.94h1.0v1.0h-1.0zM209.01 114.68h1.0v1.0h-1.0zM209.67 104.98h1.0v1.0h-1.0zM209.85 113.64h1.0v1.0h-1.0zM209.79 115.31h1.0v1.0h-1.0zM209.33 105.41h1.0v1.0h-1.0zM209.64 103.99h1.0v1.0h-1.0zM209.97 107.71h1.0v1.0h-1.0zM209.19 100.01h1.0v1.0h-1.0zM210.2 106.89h1.0v1.0h-1.0zM209.65 105.55h1.0v1.0h-1.0zM209.88 103.87h1.0v1.0h-1.0zM209.89 104.19h1.0v1.0h-1.0zM208.03 106.68h1.0v1.0h-1.0zM210.19 106.1h1.0v1.0h-1.0zM209.75 99.71h1.0v1.0h-1.0zM210.04 112.99h1.0v1.0h-1.0zM209.1 101.45h1.0v1.0h-1.0zM210.35 104.17h1.0v1.0h-1.0zM209.68 111.82h1.0v1.0h-1.0zM209.93 102.88h1.0v1.0h-1.0zM209.09 106.66h1.0v1.0h-1.0zM209.49 108.5h1.0v1.0h-1.0zM210.69 107.72h1.0v1.0h-1.0zM208.96 106.74h1.0v1.0h-1.0zM209.11 103.16h1.0v1.0h-1.0zM210.65 101.28h1.0v1.0h-1.0zM208.41 107.25h1.0v1.0h-1.0zM210.66 104.53h1.0v1.0h-1.0zM209.35 97.54h1.0v1.0h-1.0zM210.4 105.47h1.0v1.0h-1.0zM209.34 105.69h1.0v1.0h-1.0zM210.19 104.26h1.0v1.0h-1.0zM209.97 106.72h1.0v1.0h-1.0zM210.03 100.27h1.0v1.0h-1.0zM208.77 104.18h1.0v1.0h-1.0zM209.97 103.17h1.0v1.0h-1.0zM210.26 111.41h1.0v1.0h-1.0zM209.7 106.96h1.0v1.0h-1.0zM209.91 113.39h1.0v1.0h-1.0zM209.34 101.94h1.0v1.0h-1.0zM209.66 100.29h1.0v1.0h-1.0zM210.79 108.36h1.0v1.0h-1.0zM210.01 109.35h1.0v1.0h-1.0zM209.29 105.72h1.0v1.0h-1.0zM209.17 115.46h1.0v1.0h-1.0zM209.86 107.9h1.0v1.0h-1.0zM210.09 106.02h1.0v1.0h-1.0zM209.98 105.17h1.0v1.0h-1.0zM210.61 106.8h1.0v1.0h-1.0zM209.62 102.72h1.0v1.0h-1.0zM209.48 110.55h1.0v1.0h-1.0zM210.32 102.19h1.0v1.0h-1.0zM209.76 108.09h1.0v1.0h-1.0zM209.65 109.51h1.0v1.0h-1.0zM208.84 104.2h1.0v1.0h-1.0zM210.8 106.23h1.0v1.0h-1.0zM210.15 99.19h1.0v1.0h-1.0zM208.73 111.43h1.0v1.0h-1.0zM209.06 106.32h1.0v1.0h-1.0zM209.4 116.66h1.0v1.0h-1.0zM208.24 103.92h1.0v1.0h-1.0zM209.73 112.85h1.0v1.0h-1.0zM210.01 108.66h1.0v1.0h-1.0zM209.02 101.99h1.0v1.0h-1.0zM209.69 106.52h1.0v1.0h-1.0zM209.45 115.41h1.0v1.0h-1.0zM209.79 106.78h1.0v1.0h-1.0zM209.64 112.33h1.0v1.0h-1.0zM209.96 107.41h1.0v1.0h-1.0zM209.79 109.09h1.0v1.0h-1.0zM209.41 107.56h1.0v1.0h-1.0zM210.28 101.06h1.0v1.0h-1.0zM209.73 99.92h1.0v1.0h-1.0zM210.44 105.88h1.0v1.0h-1.0zM209.2 112.57h1.0v1.0h-1.0zM209.5 109.75h1.0v1.0h-1.0zM209.61 106.01h1.0v1.0h-1.0zM209.76 108.87h1.0v1.0h-1.0zM209.88 110.64h1.0v1.0h-1.0zM210.06 102.06h1.0v1.0h-1.0zM209.73 105.33h1.0v1.0h-1.0zM210.31 106.9h1.0v1.0h-1.0zM209.27 102.56h1.0v1.0h-1.0zM209.44 99.65h1.0v1.0h-1.0zM208.46 110.22h1.0v1.0h-1.0zM209.98 109.54h1.0v1.0h-1.0zM210 112.52h1.0v1.0h-1.0zM209.89 107.72h1.0v1.0h-1.0zM209.18 102.34h1.0v1.0h-1.0zM210 112.28h1.0v1.0h-1.0zM209.82 100.82h1.0v1.0h-1.0zM209.99 110.14h1.0v1.0h-1.0zM209.65 104.27h1.0v1.0h-1.0zM210.07 101.6h1.0v1.0h-1.0zM210.82 112.49h1.0v1.0h-1.0zM208.87 114.29h1.0v1.0h-1.0zM210.11 103.96h1.0v1.0h-1.0zM209.5 110.06h1.0v1.0h-1.0zM209.87 109.26h1.0v1.0h-1.0zM209.34 109.49h1.0v1.0h-1.0zM209.08 97.92h1.0v1.0h-1.0zM208.83 106.1h1.0v1.0h-1.0zM209.7 113.79h1.0v1.0h-1.0zM210.67 109.07h1.0v1.0h-1.0zM209.53 99.66h1.0v1.0h-1.0zM209.35 102.5h1.0v1.0h-1.0z" fill="#ff0000" fill-opacity="0.55"/>
<path d="M208.74 112.91h1.0v1.0h-1.0zM209.81 113.55h1.0v1.0h-1.0zM209.56 104.32h1.0v1.0h-1.0zM209.03 118.35h1.0v1.0h-1.0zM210.21 109.52h1.0v1.0h-1.0zM209.95 115.24h1.0v1.0h-1.0zM210.7 110.42h1.0v1.0h-1.0zM208.64 104.1h1.0v1.0h-1.0zM211.19 109.66h1.0v1.0h-1.0zM211.49 105.45h1.0v1.0h-1.0zM210.31 107.85h1.0v1.0h-1.0zM209.38 107.14h1.0v1.0h-1.0zM209.68 115.86h1.0v1.0h-1.0zM210.03 119.25h1.0v1.0h-1.0zM209.09 117.71h1.0v1.0h-1.0zM210.86 112.51h1.0v1.0h-1.0zM210.77 115.38h1.0v1.0h-1.0zM209.05 107.84h1.0v1.0h-1.0zM210.14 111.56h1.0v1.0h-1.0zM208.48 114.89h1.0v1.0h-1.0zM211.03 112.39h1.0v1.0h-1.0zM209.26 114.65h1.0v1.0h-1.0zM208.83 103.86h1.0v1.0h-1.0zM209.33 115.24h1.0v1.0h-1.0zM210.3 113.17h1.0v1.0h-1.0zM209.6 115.54h1.0v1.0h-1.0zM209.9 109.88h1.0v1.0h-1.0zM210.52 115.79h1.0v1.0h-1.0zM210.54 103.39h1.0v1.0h-1.0zM210.18 105.75h1.0v1.0h-1.0zM210.3 114h1.0v1.0h-1.0zM209.47 108.39h1.0v1.0h-1.0zM210.69 112.29h1.0v1.0h-1.0zM210.58 114.29h1.0v1.0h-1.0zM209.21 105.54h1.0v1.0h-1.0zM209.43 117.22h1.0v1.0h-1.0zM208.78 113.1h1.0v1.0h-1.0zM211.15 118h1.0v1.0h-1.0zM209.38 103.44h1.0v1.0h-1.0zM210.54 116.46h1.0v1.0h-1.0zM209.61 117.83h1.0v1.0h-1.0zM209.72 105.89h1.0v1.0h-1.0zM210.74 105.78h1.0v1.0h-1.0zM209.79 108.34h1.0v1.0h-1.0zM208.84 117h1.0v1.0h-1.0zM210.9 116.37h1.0v1.0h-1.0zM208.47 120.39h1.0v1.0h-1.0zM209.18 116.62h1.0v1.0h-1.0zM209.67 126.11h1.0v1.0h-1.0zM209.37 125.65h1.0v1.0h-1.0zM210.98 121.4h1.0v1.0h-1.0zM209.92 123h1.0v1.0h-1.0zM209.38 110.41h1.0v1.0h-1.0zM209.42 120.52h1.0v1.0h-1.0zM210.36 109.41h1.0v1.0h-1.0zM209.34 111.65h1.0v1.0h-1.0zM209.28 101.53h1.0v1.0h-1.0zM210.26 111.63h1.0v1.0h-1.0zM209.81 122.2h1.0v1.0h-1.0zM209.64 113.18h1.0v1.0h-1.0zM209.34 112.99h1.0v1.0h-1.0zM209.47 110.79h1.0v1.0h-1.0zM209.83 114.42h1.0v1.0h-1.0zM209.66 110.58h1.0v1.0h-1.0zM210.04 102.14h1.0v1.0h-1.0zM209.62 117.27h1.0v1.0h-1.0zM208.69 120.71h1.0v1.0h-1.0zM208.42 111.49h1.0v1.0h-1.0zM209.87 107.45h1.0v1.0h-1.0zM208.92 109.18h1.0v1.0h-1.0zM210.63 115.38h1.0v1.0h-1.0zM209.08 107.01h1.0v1.0h-1.0zM209.09 114.18h1.0v1.0h-1.0zM210.08 111.23h1.0v1.0h-1.0zM209.75 112.51h1.0v1.0h-1.0zM209.39 101.67h1.0v1.0h-1.0zM208.66 107.05h1.0v1.0h-1.0zM209.59 111.62h1.0v1.0h-1.0zM210.28 120.44h1.0v1.0h-1.0zM208.92 110.22h1.0v1.0h-1.0zM209.18 111.23h1.0v1.0h-1.0zM208.72 108.33h1.0v1.0h-1.0zM209.9 110.16h1.0v1.0h-1.0zM209.52 114.44h1.0v1.0h-1.0zM210.66 121.43h1.0v1.0h-1.0zM209.69 122.09h1.0v1.0h-1.0zM210.63 121.94h1.0v1.0h-1.0zM209.86 115.02h1.0v1.0h-1.0zM210.18 113.91h1.0v1.0h-1.0zM209.62 118.67h1.0v1.0h-1.0zM209.99 109.85h1.0v1.0h-1.0zM209.5 115.77h1.0v1.0h-1.0zM209.01 115.53h1.0v1.0h-1.0zM209.02 122.19h1.0v1.0h-1.0zM209.23 118.8h1.0v1.0h-1.0zM209.2 110.53h1.0v1.0h-1.0zM209.63 118.5h1.0v1.0h-1.0zM208.38 113.61h1.0v1.0h-1.0zM210.77 116.43h1.0v1.0h-1.0zM208.96 110.01h1.0v1.0h-1.0zM209.95 118.33h1.0v1.0h-1.0zM209.98 111.73h1.0v1.0h-1.0zM210.28 113.81h1.0v1.0h-1.0zM209.37 121.13h1.0v1.0h-1.0zM210.87 116.41h1.0v1.0h-1.0zM210.25 113.49h1.0v1.0h-1.0zM209.28 113.61h1.0v1.0h-1.0zM208.97 111.02h1.0v1.0h-1.0zM209.77 111.85h1.0v1.0h-1.0zM211.72 118.89h1.0v1.0h-1.0zM210.36 116.29h1.0v1.0h-1.0zM210.59 117.61h1.0v1.0h-1.0zM210.25 113.87h1.0v1.0h-1.0zM209.59 124.34h1.0v1.0h-1.0zM209.38 109.65h1.0v1.0h-1.0zM210.55 114.6h1.0v1.0h-1.0zM209.13 118.96h1.0v1.0h-1.0zM209.83 108.83h1.0v1.0h-1.0zM210.36 109.3h1.0v1.0h-1.0zM209.73 118.35h1.0v1.0h-1.0zM210.67 108.82h1.0v1.0h-1.0zM210.16 108.08h1.0v1.0h-1.0zM209.15 116.67h1.0v1.0h-1.0zM208.97 114.28h1.0v1.0h-1.0zM209.37 112h1.0v1.0h-1.0zM209.31 110.42h1.0v1.0h-1.0zM209.57 109.48h1.0v1.0h-1.0zM209.08 110.22h1.0v1.0h-1.0zM210.68 107.99h1.0v1.0h-1.0zM209.75 104.22h1.0v1.0h-1.0zM209.55 117.16h1.0v1.0h-1.0zM209.48 103.91h1.0v1.0h-1.0zM210.08 106.83h1.0v1.0h-1.0zM209.07 117.52h1.0v1.0h-1.0zM208.16 110.86h1.0v1.0h-1.0zM209.1 113.07h1.0v1.0h-1.0zM209.75 118.23h1.0v1.0h-1.0zM209.63 120.57h1.0v1.0h-1.0zM208.92 119.96h1.0v1.0h-1.0zM209.7 113.04h1.0v1.0h-1.0zM209.92 119.46h1.0v1.0h-1.0zM210.08 115.99h1.0v1.0h-1.0zM209.22 111.92h1.0v1.0h-1.0zM209.55 112.62h1.0v1.0h-1.0zM210.2 111.04h1.0v1.0h-1.0zM210.7 107.03h1.0v1.0h-1.0zM208.8 113.73h1.0v1.0h-1.0zM210.06 111.06h1.0v1.0h-1.0zM211.12 121h1.0v1.0h-1.0z" fill="#00008b" fill-opacity="0.55"/>
<path d="M266.41 86.64h1.0v1.0h-1.0zM265.68 97.18h1.0v1.0h-1.0zM267.49 90.91h1.0v1.0h-1.0zM266.7 95.33h1.0v1.0h-1.0zM266.85 87.02h1.0v1.0h-1.0zM265.37 92.45h1.0v1.0h-1.0zM267.28 88.94h1.0v1.0h-1.0zM266.3 90.59h1.0v1.0h-1.0zM265.41 90.46h1.0v1.0h-1.0zM266.05 100.1h1.0v1.0h-1.0zM266.55 95.54h1.0v1.0h-1.0zM266.55 93.6h1.0v1.0h-1.0zM266.67 81.6h1.0v1.0h-1.0zM265.99 93.88h1.0v1.0h-1.0zM265.93 89.13h1.0v1.0h-1.0zM265.23 95.8h1.0v1.0h-1.0zM267.42 94.85h1.0v1.0h-1.0zM266.18 93.57h1.0v1.0h-1.0zM267.62 93.39h1.0v1.0h-1.0zM266.26 94.14h1.0v1.0h-1.0zM265.91 93.95h1.0v1.0h-1.0zM266.54 95.34h1.0v1.0h-1.0zM266.07 85.09h1.0v1.0h-1.0zM267.15 89.01h1.0v1.0h-1.0zM266.24 94.96h1.0v1.0h-1.0zM267.06 92.08h1.0v1.0h-1.0zM266.26 90.07h1.0v1.0h-1.0zM266.74 91.01h1.0v1.0h-1.0zM266.08 94h1.0v1.0h-1.0zM266.7 94.03h1.0v1.0h-1.0zM266.82 93.82h1.0v1.0h-1.0zM265.49 92.23h1.0v1.0h-1.0zM265.57 93.5h1.0v1.0h-1.0zM265.71 91.7h1.0v1.0h-1.0zM266.39 88.22h1.0v1.0h-1.0zM265.6 92.63h1.0v1.0h-1.0zM265.67 87.08h1.0v1.0h-1.0zM265.72 97.77h1.0v1.0h-1.0zM265.88 94.66h1.0v1.0h-1.0zM265.79 86.63h1.0v1.0h-1.0zM266.56 91.33h1.0v1.0h-1.0zM266.79 92.2h1.0v1.0h-1.0zM265.91 93.41h1.0v1.0h-1.0zM266.13 88.06h1.0v1.0h-1.0zM266.17 87.91h1.0v1.0h-1.0zM267.12 90.67h1.0v1.0h-1.0zM266.19 88.94h1.0v1.0h-1.0zM266.38 89.01h1.0v1.0h-1.0zM266.26 93.24h1.0v1.0h-1.0zM265.78 85.12h1.0v1.0h-1.0zM266.57 93.4h1.0v1.0h-1.0zM265.62 98.1h1.0v1.0h-1.0zM266.4 89.56h1.0v1.0h-1.0zM266.75 84.92h1.0v1.0h-1.0zM266.55 88.63h1.0v1.0h-1.0zM265.67 97.03h1.0v1.0h-1.0zM266.69 89.16h1.0v1.0h-1.0zM266.28 87.95h1.0v1.0h-1.0zM265.81 89.58h1.0v1.0h-1.0zM266.38 91.21h1.0v1.0h-1.0zM267.64 99.4h1.0v1.0h-1.0zM267.66 94.28h1.0v1.0h-1.0zM266.32 98.96h1.0v1.0h-1.0zM265.86 91.91h1.0v1.0h-1.0zM266.38 90.07h1.0v1.0h-1.0zM267.11 94.94h1.0v1.0h-1.0zM267.37 96.59h1.0v1.0h-1.0zM267.34 90.99h1.0v1.0h-1.0zM266.08 86.04h1.0v1.0h-1.0zM265.13 86.75h1.0v1.0h-1.0zM266.1 89.02h1.0v1.0h-1.0zM265.31 90.55h1.0v1.0h-1.0zM266.59 86.95h1.0v1.0h-1.0zM266.85 85.43h1.0v1.0h-1.0zM265.52 101.09h1.0v1.0h-1.0zM266.29 88.46h1.0v1.0h-1.0zM265.75 89.46h1.0v1.0h-1.0zM266.55 91.5h1.0v1.0h-1.0zM266.51 90.48h1.0v1.0h-1.0zM266.51 92.84h1.0v1.0h-1.0zM266.14 88.41h1.0v1.0h-1.0zM265.87 95.66h1.0v1.0h-1.0zM266.54 85.99h1.0v1.0h-1.0zM265.46 93.64h1.0v1.0h-1.0zM266.68 90.34h1.0v1.0h-1.0zM265.52 95.69h1.0v1.0h-1.0zM266.61 96.7h1.0v1.0h-1.0zM265.86 88.23h1.0v1.0h-1.0zM265.54 88.64h1.0v1.0h-1.0zM266.37 86.68h1.0v1.0h-1.0zM266.92 89.73h1.0v1.0h-1.0zM267.37 97.82h1.0v1.0h-1.0zM267.2 95.66h1.0v1.0h-1.0zM266.05 91.07h1.0v1.0h-1.0zM265.69 98.48h1.0v1.0h-1.0zM265.87 97.04h1.0v1.0h-1.0zM266.99 86.18h1.0v1.0h-1.0zM266.99 82.53h1.0v1.0h-1.0zM266.58 90.55h1.0v1.0h-1.0zM266.41 90.75h1.0v1.0h-1.0zM267.19 86.32h1.0v1.0h-1.0zM267.11 99.78h1.0v1.0h-1.0zM266.4 92.53h1.0v1.0h-1.0zM265.4 92.27h1.0v1.0h-1.0zM266 87.03h1.0v1.0h-1.0zM266.37 89.06h1.0v1.0h-1.0zM265.6 95.88h1.0v1.0h-1.0zM265.94 88.62h1.0v1.0h-1.0zM266.13 90.72h1.0v1.0h-1.0zM266.96 92.2h1.0v1.0h-1.0zM266.84 86.45h1.0v1.0h-1.0zM266.02 95.71h1.0v1.0h-1.0zM267.17 87.85h1.0v1.0h-1.0zM265.7 91.98h1.0v1.0h-1.0zM266.53 88.68h1.0v1.0h-1.0zM265.9 93.26h1.0v1.0h-1.0zM265.81 100.54h1.0v1.0h-1.0zM266.18 95.4h1.0v1.0h-1.0zM265.94 93.08h1.0v1.0h-1.0zM267.03 90.88h1.0v1.0h-1.0zM266.62 88.26h1.0v1.0h-1.0zM266.4 93.67h1.0v1.0h-1.0zM265.55 90.85h1.0v1.0h-1.0zM266.91 97.78h1.0v1.0h-1.0zM265.4 90.79h1.0v1.0h-1.0zM265.56 87.79h1.0v1.0h-1.0zM265.93 90.95h1.0v1.0h-1.0zM266.17 97.26h1.0v1.0h-1.0zM266.62 93.83h1.0v1.0h-1.0zM266.33 89.01h1.0v1.0h-1.0zM267.16 98.03h1.0v1.0h-1.0zM266.69 94.06h1.0v1.0h-1.0zM266.32 94.31h1.0v1.0h-1.0zM266.6 94.33h1.0v1.0h-1.0zM265.56 96.34h1.0v1.0h-1.0zM266.02 87.92h1.0v1.0h-1.0zM266.55 86.5h1.0v1.0h-1.0zM265.77 86.25h1.0v1.0h-1.0zM266.21 81.81h1.0v1.0h-1.0zM267.35 100.98h1.0v1.0h-1.0zM266.89 92.89h1.0v1.0h-1.0zM266.37 94.79h1.0v1.0h-1.0zM265.73 97.35h1.0v1.0h-1.0zM266.39 101.48h1.0v1.0h-1.0z" fill="#ff0000" fill-opacity="0.55"/>
<path d="M266.29 85h1.0v1.0h-1.0zM266.61 93.76h1.0v1.0h-1.0zM266.65 89.07h1.0v1.0h-1.0zM266.94 87.66h1.0v1.0h-1.0zM266.14 87.13h1.0v1.0h-1.0zM266.26 91.98h1.0v1.0h-1.0zM267.21 84.59h1.0v1.0h-1.0zM266.8 99.07h1.0v1.0h-1.0zM267.53 93.91h1.0v1.0h-1.0zM266.82 95.54h1.0v1.0h-1.0zM265.67 93.31h1.0v1.0h-1.0zM265.8 88.82h1.0v1.0h-1.0zM266.88 98.49h1.0v1.0h-1.0zM266.03 96.61h1.0v1.0h-1.0zM267.05 86.68h1.0v1.0h-1.0zM266.56 88.93h1.0v1.0h-1.0zM266.33 86.76h1.0v1.0h-1.0zM266.06 90.14h1.0v1.0h-1.0zM266.4 88.38h1.0v1.0h-1.0zM266.17 90.27h1.0v1.0h-1.0zM267.02 92.75h1.0v1.0h-1.0zM266.54 92.41h1.0v1.0h-1.0zM266.81 99.22h1.0v1.0h-1.0zM266.74 87.78h1.0v1.0h-1.0zM267.3 96.6h1.0v1.0h-1.0zM266.76 94.83h1.0v1.0h-1.0zM267.57 82.84h1.0v1.0h-1.0zM266.27 94.44h1.0v1.0h-1.0zM265.53 94.32h1.0v1.0h-1.0zM266.26 95.41h1.0v1.0h-1.0zM266.89 81.99h1.0v1.0h-1.0zM266.39 89.91h1.0v1.0h-1.0zM265.53 94.68h1.0v1.0h-1.0zM265.75 89.04h1.0v1.0h-1.0zM268.81 91.04h1.0v1.0h-1.0zM266.17 88.3h1.0v1.0h-1.0zM267.05 89.26h1.0v1.0h-1.0zM266.39 91.92h1.0v1.0h-1.0zM264.5 91.28h1.0v1.0h-1.0zM265.32 90.49h1.0v1.0h-1.0zM267.16 90.52h1.0v1.0h-1.0zM266.31 94.84h1.0v1.0h-1.0zM266.67 94.22h1.0v1.0h-1.0zM266.03 88.99h1.0v1.0h-1.0zM266.54 85.01h1.0v1.0h-1.0zM266.11 90.42h1.0v1.0h-1.0zM266.3 91.75h1.0v1.0h-1.0zM266.64 86.94h1.0v1.0h-1.0zM266.06 88.44h1.0v1.0h-1.0zM267.26 80.46h1.0v1.0h-1.0zM266.57 94.22h1.0v1.0h-1.0zM266.21 90.29h1.0v1.0h-1.0zM265.86 87.96h1.0v1.0h-1.0zM266.56 91.6h1.0v1.0h-1.0zM267.22 85.89h1.0v1.0h-1.0zM267.04 97.24h1.0v1.0h-1.0zM266.88 91.42h1.0v1.0h-1.0zM266.82 87.56h1.0v1.0h-1.0zM265.64 85.13h1.0v1.0h-1.0zM266.15 97.77h1.0v1.0h-1.0zM264.79 92.73h1.0v1.0h-1.0zM265.48 94.18h1.0v1.0h-1.0zM266.63 93.69h1.0v1.0h-1.0zM265.1 93.18h1.0v1.0h-1.0zM265.8 81.06h1.0v1.0h-1.0zM266.55 90.28h1.0v1.0h-1.0zM266.3 93.55h1.0v1.0h-1.0zM265.48 88.78h1.0v1.0h-1.0zM266.23 95h1.0v1.0h-1.0zM266.81 89.18h1.0v1.0h-1.0zM265.81 90.91h1.0v1.0h-1.0zM266.29 91.33h1.0v1.0h-1.0zM266.31 87.67h1.0v1.0h-1.0zM266.37 83.15h1.0v1.0h-1.0zM264.44 84.69h1.0v1.0h-1.0zM265.81 91.19h1.0v1.0h-1.0zM267.06 94.6h1.0v1.0h-1.0zM265.79 88.08h1.0v1.0h-1.0zM266.18 92.02h1.0v1.0h-1.0zM266.49 89.72h1.0v1.0h-1.0zM265.84 83.15h1.0v1.0h-1.0zM265.03 92.61h1.0v1.0h-1.0zM266.32 97.74h1.0v1.0h-1.0zM266.49 91.75h1.0v1.0h-1.0zM267.18 85.07h1.0v1.0h-1.0zM267.13 89.85h1.0v1.0h-1.0zM266.31 86.56h1.0v1.0h-1.0zM266.38 82.55h1.0v1.0h-1.0zM265.23 89.25h1.0v1.0h-1.0zM266.39 90.16h1.0v1.0h-1.0zM264.96 87.32h1.0v1.0h-1.0zM267.6 85.9h1.0v1.0h-1.0zM266.89 98.92h1.0v1.0h-1.0zM266.16 97.79h1.0v1.0h-1.0zM266.33 89.22h1.0v1.0h-1.0zM266.15 92.36h1.0v1.0h-1.0zM265.7 94.8h1.0v1.0h-1.0zM266.84 94.47h1.0v1.0h-1.0zM265.44 91.5h1.0v1.0h-1.0zM267.04 93.43h1.0v1.0h-1.0zM265.8 86.06h1.0v1.0h-1.0zM266.08 98h1.0v1.0h-1.0zM265.63 90.92h1.0v1.0h-1.0zM265.59 88.57h1.0v1.0h-1.0zM266.78 89.07h1.0v1.0h-1.0zM266.08 88.28h1.0v1.0h-1.0zM266.78 81.87h1.0v1.0h-1.0zM266.63 89.03h1.0v1.0h-1.0zM265.98 89.58h1.0v1.0h-1.0zM267.43 90.41h1.0v1.0h-1.0zM266.46 86.01h1.0v1.0h-1.0zM265.76 97.21h1.0v1.0h-1.0zM266.75 99.57h1.0v1.0h-1.0zM267.27 89.53h1.0v1.0h-1.0zM265.14 92.51h1.0v1.0h-1.0zM266.15 95.88h1.0v1.0h-1.0zM266.37 88.03h1.0v1.0h-1.0zM264.91 94.64h1.0v1.0h-1.0zM266.28 93.42h1.0v1.0h-1.0zM267.09 84.34h1.0v1.0h-1.0zM266.31 83.71h1.0v1.0h-1.0zM266.24 89.64h1.0v1.0h-1.0zM267.22 87.43h1.0v1.0h-1.0zM265.38 88.27h1.0v1.0h-1.0zM266.02 85.47h1.0v1.0h-1.0zM266.58 93.57h1.0v1.0h-1.0zM266.73 99.1h1.0v1.0h-1.0zM266.01 89.62h1.0v1.0h-1.0zM265.83 91.93h1.0v1.0h-1.0zM266.46 92h1.0v1.0h-1.0zM266.31 97.05h1.0v1.0h-1.0zM267.52 94.2h1.0v1.0h-1.0zM266.45 96.48h1.0v1.0h-1.0zM266.75 96.97h1.0v1.0h-1.0zM267.58 90.55h1.0v1.0h-1.0zM265.83 90h1.0v1.0h-1.0zM265.27 86.77h1.0v1.0h-1.0zM265.21 94.22h1.0v1.0h-1.0zM265.21 93.15h1.0v1.0h-1.0zM266.29 100.56h1.0v1.0h-1.0zM265.92 92.47h1.0v1.0h-1.0zM265.6 89.5h1.0v1.0h-1.0zM266.98 90.47h1.0v1.0h-1.0zM265.04 89.39h1.0v1.0h-1.0zM266.45 96.05h1.0v1.0h-1.0zM267.02 89.99h1.0v1.0h-1.0z" fill="#00008b" fill-opacity="0.55"/>
<polyline points="138.5,137.24 210.1,114.18 266.7,91.52" fill="none" stroke="#30309a" stroke-width="1.0"/>
<polyline points="138.5,114.57 210.1,105.98 266.7,91.52" fill="none" stroke="#ff3838" stroke-width="1.0"/>
<circle cx="138.5" cy="137.24" r="1.25" fill="#141488"/>
<circle cx="210.1" cy="114.18" r="1.25" fill="#141488"/>
<circle cx="266.7" cy="91.52" r="1.25" fill="#141488"/>
<circle cx="138.5" cy="114.57" r="1.25" fill="#ff1010"/>
<circle cx="210.1" cy="105.98" r="1.25" fill="#ff1010"/>
<circle cx="266.7" cy="91.52" r="1.25" fill="#ff1010"/>
<path d="M477.22 102.57h1.0v1.0h-1.0zM476.72 110.93h1.0v1.0h-1.0zM477.09 112.43h1.0v1.0h-1.0zM476.78 105.28h1.0v1.0h-1.0zM477.3 106.59h1.0v1.0h-1.0zM476.95 107.88h1.0v1.0h-1.0zM477.08 102.63h1.0v1.0h-1.0zM477.22 106.11h1.0v1.0h-1.0zM476.01 108.09h1.0v1.0h-1.0zM477.27 98.42h1.0v1.0h-1.0zM477.37 105.45h1.0v1.0h-1.0zM476.65 106.48h1.0v1.0h-1.0zM477.2 106.88h1.0v1.0h-1.0zM475.8 108.58h1.0v1.0h-1.0zM476.76 111.38h1.0v1.0h-1.0zM476.77 101.12h1.0v1.0h-1.0zM476.43 99.95h1.0v1.0h-1.0zM476.16 104.97h1.0v1.0h-1.0zM477.42 108.74h1.0v1.0h-1.0zM477.49 111.74h1.0v1.0h-1.0zM476.98 109.68h1.0v1.0h-1.0zM476.7 106.53h1.0v1.0h-1.0zM477.09 107.15h1.0v1.0h-1.0zM476.86 108.43h1.0v1.0h-1.0zM476.66 106.93h1.0v1.0h-1.0zM476.45 109.01h1.0v1.0h-1.0zM476.55 107.76h1.0v1.0h-1.0zM477.14 104.09h1.0v1.0h-1.0zM476.86 107.88h1.0v1.0h-1.0zM477.34 106.92h1.0v1.0h-1.0zM476.43 108.99h1.0v1.0h-1.0zM476.25 107.06h1.0v1.0h-1.0zM477.03 101.38h1.0v1.0h-1.0zM477.33 99.12h1.0v1.0h-1.0zM477.91 102.19h1.0v1.0h-1.0zM476.43 106.55h1.0v1.0h-1.0zM476.64 104.93h1.0v1.0h-1.0zM476.92 103.64h1.0v1.0h-1.0zM476.03 101.43h1.0v1.0h-1.0zM477.37 105.99h1.0v1.0h-1.0zM476.85 107.74h1.0v1.0h-1.0zM476.64 103.83h1.0v1.0h-1.0zM476.56 97.96h1.0v1.0h-1.0zM476.61 107.09h1.0v1.0h-1.0zM477.25 104.18h1.0v1.0h-1.0zM476.3 110.38h1.0v1.0h-1.0zM476.51 101.46h1.0v1.0h-1.0zM476.88 107.74h1.0v1.0h-1.0zM477.54 104.89h1.0v1.0h-1.0zM477 107.39h1.0v1.0h-1.0zM477.65 105.46h1.0v1.0h-1.0zM476.64 105.67h1.0v1.0h-1.0zM476.63 104.79h1.0v1.0h-1.0zM477.23 109.2h1.0v1.0h-1.0zM476.47 111.44h1.0v1.0h-1.0zM476.4 109.5h1.0v1.0h-1.0zM476.64 99.06h1.0v1.0h-1.0zM476.99 102.18h1.0v1.0h-1.0zM477.38 103.75h1.0v1.0h-1.0zM477.04 103.29h1.0v1.0h-1.0zM476.78 106.66h1.0v1.0h-1.0zM477.16 105.97h1.0v1.0h-1.0zM476.68 106.63h1.0v1.0h-1.0zM476.88 108.92h1.0v1.0h-1.0zM477.6 101.61h1.0v1.0h-1.0zM477.66 100.48h1.0v1.0h-1.0zM477.23 107h1.0v1.0h-1.0zM477 110.89h1.0v1.0h-1.0zM477.45 105.21h1.0v1.0h-1.0zM477.37 99.73h1.0v1.0h-1.0zM476.39 105.01h1.0v1.0h-1.0zM477.85 103.39h1.0v1.0h-1.0zM476.83 106.01h1.0v1.0h-1.0zM477.67 106.92h1.0v1.0h-1.0zM477.49 104.46h1.0v1.0h-1.0zM476.99 105.61h1.0v1.0h-1.0zM477.08 106.76h1.0v1.0h-1.0zM476.6 98.91h1.0v1.0h-1.0zM477.19 107.11h1.0v1.0h-1.0zM476.49 100.69h1.0v1.0h-1.0zM477.57 109.23h1.0v1.0h-1.0zM476.8 103.44h1.0v1.0h-1.0zM476.67 108.79h1.0v1.0h-1.0zM477.9 104.82h1.0v1.0h-1.0zM475.74 109.75h1.0v1.0h-1.0zM476.45 105.51h1.0v1.0h-1.0zM477.02 103.53h1.0v1.0h-1.0zM477 102.76h1.0v1.0h-1.0zM477.25 107h1.0v1.0h-1.0zM476.83 98.83h1.0v1.0h-1.0zM476.81 106.86h1.0v1.0h-1.0zM477.22 101.41h1.0v1.0h-1.0zM477 109.68h1.0v1.0h-1.0zM477.77 104.07h1.0v1.0h-1.0zM475.58 105.5h1.0v1.0h-1.0zM476.28 99.32h1.0v1.0h-1.0zM476.41 107.78h1.0v1.0h-1.0zM476.81 102.21h1.0v1.0h-1.0zM477.56 108.32h1.0v1.0h-1.0zM477.01 110.29h1.0v1.0h-1.0zM476.72 105.56h1.0v1.0h-1.0zM477.08 104.91h1.0v1.0h-1.0zM477.33 111.29h1.0v1.0h-1.0zM477.3 106.57h1.0v1.0h-1.0zM476.5 107.78h1.0v1.0h-1.0zM477.46 108.93h1.0v1.0h-1.0zM477.4 109.92h1.0v1.0h-1.0zM477.37 106.35h1.0v1.0h-1.0zM477.97 107.43h1.0v1.0h-1.0zM477.1 110.21h1.0v1.0h-1.0zM476.56 105.21h1.0v1.0h-1.0zM476.06 109.45h1.0v1.0h-1.0zM476.52 112.48h1.0v1.0h-1.0zM477.36 103.41h1.0v1.0h-1.0zM476.54 108.67h1.0v1.0h-1.0zM475.98 100.04h1.0v1.0h-1.0zM476.12 108.09h1.0v1.0h-1.0zM476.91 110.77h1.0v1.0h-1.0zM476.94 105.61h1.0v1.0h-1.0zM476.24 103.9h1.0v1.0h-1.0zM477.08 102.02h1.0v1.0h-1.0zM476.02 106.83h1.0v1.0h-1.0zM477.1 100.84h1.0v1.0h-1.0zM477.37 104.64h1.0v1.0h-1.0zM476.3 111.28h1.0v1.0h-1.0zM477.16 106.08h1.0v1.0h-1.0zM476.95 108.11h1.0v1.0h-1.0zM477.1 102.95h1.0v1.0h-1.0zM476.58 103.37h1.0v1.0h-1.0zM476.82 107.1h1.0v1.0h-1.0zM476.94 106.44h1.0v1.0h-1.0zM477.39 105.11h1.0v1.0h-1.0zM477.09 105.4h1.0v1.0h-1.0zM476.86 101.43h1.0v1.0h-1.0zM476.13 110.91h1.0v1.0h-1.0zM476.16 99.14h1.0v1.0h-1.0zM476.84 102.03h1.0v1.0h-1.0zM476.64 103.71h1.0v1.0h-1.0zM476.42 109.95h1.0v1.0h-1.0zM476.7 108.7h1.0v1.0h-1.0zM477.44 106.04h1.0v1.0h-1.0zM476.88 105.17h1.0v1.0h-1.0zM476.47 106.05h1.0v1.0h-1.0zM476.99 104.64h1.0v1.0h-1.0zM476.1 106.66h1.0v1.0h-1.0zM476.93 111.68h1.0v1.0h-1.0zM477.63 108.85h1.0v1.0h-1.0zM477.26 111.75h1.0v1.0h-1.0zM476.43 107.44h1.0v1.0h-1.0zM476.77 100.76h1.0v1.0h-1.0zM476.89 103.57h1.0v1.0h-1.0zM476.42 104.11h1.0v1.0h-1.0zM476.93 103.64h1.0v1.0h-1.0zM477.18 103.08h1.0v1.0h-1.0zM476.5 109.12h1.0v1.0h-1.0zM477.29 105.58h1.0v1.0h-1.0zM476.74 101.37h1.0v1.0h-1.0zM476.56 107.05h1.0v1.0h-1.0zM476.51 108.65h1.0v1.0h-1.0zM476.82 102.13h1.0v1.0h-1.0zM477.32 105.73h1.0v1.0h-1.0zM477.39 105.64h1.0v1.0h-1.0zM477.08 107.79h1.0v1.0h-1.0zM476.62 104.76h1.0v1.0h-1.0zM476.79 109.8h1.0v1.0h-1.0zM476.67 107.82h1.0v1.0h-1.0zM476.59 101.32h1.0v1.0h-1.0zM476.42 107.62h1.0v1.0h-1.0zM477.67 103.89h1.0v1.0h-1.0zM477.59 103.17h1.0v1.0h-1.0zM476.91 106.62h1.0v1.0h-1.0zM476.37 107.64h1.0v1.0h-1.0zM476.95 107.11h1.0v1.0h-1.0zM477.13 110.85h1.0v1.0h-1.0zM476.76 97.81h1.0v1.0h-1.0zM476.92 109.27h1.0v1.0h-1.0zM476.93 106.79h1.0v1.0h-1.0zM477.46 106.64h1.0v1.0h-1.0zM476.97 111.23h1.0v1.0h-1.0zM478.15 102.39h1.0v1.0h-1.0zM476.26 104.87h1.0v1.0h-1.0zM476.93 104.61h1.0v1.0h-1.0zM476.73 106.21h1.0v1.0h-1.0zM476.91 105.52h1.0v1.0h-1.0zM477.44 99.21h1.0v1.0h-1.0zM476.85 104.34h1.0v1.0h-1.0zM477.3 104.45h1.0v1.0h-1.0zM477.26 110.33h1.0v1.0h-1.0zM476.37 109.43h1.0v1.0h-1.0zM477.7 101.34h1.0v1.0h-1.0zM476.57 108.18h1.0v1.0h-1.0zM476.85 104.8h1.0v1.0h-1.0zM476.32 108.7h1.0v1.0h-1.0zM476.62 100.32h1.0v1.0h-1.0zM476.77 106.01h1.0v1.0h-1.0zM476.44 106.77h1.0v1.0h-1.0zM477.01 104.97h1.0v1.0h-1.0zM476.8 109.7h1.0v1.0h-1.0zM477.03 111.93h1.0v1.0h-1.0zM476.86 109.65h1.0v1.0h-1.0zM476.96 106.59h1.0v1.0h-1.0zM476.53 106.99h1.0v1.0h-1.0zM476.76 101.77h1.0v1.0h-1.0zM477.15 108.29h1.0v1.0h-1.0zM476.87 111.93h1.0v1.0h-1.0zM477.04 105.78h1.0v1.0h-1.0zM477.18 102.52h1.0v1.0h-1.0zM476.38 103.49h1.0v1.0h-1.0zM476.85 106.71h1.0v1.0h-1.0zM477.36 97.19h1.0v1.0h-1.0zM477.23 105.72h1.0v1.0h-1.0zM476.52 105.97h1.0v1.0h-1.0z" fill="#ff0000" fill-opacity="0.5"/>
<path d="M477.37 142.52h1.0v1.0h-1.0zM476.93 135.88h1.0v1.0h-1.0zM476.73 141.26h1.0v1.0h-1.0zM476.86 139.69h1.0v1.0h-1.0zM477.16 142.1h1.0v1.0h-1.0zM476.4 141.62h1.0v1.0h-1.0zM476.71 143.75h1.0v1.0h-1.0zM475.33 141.44h1.0v1.0h-1.0zM477.01 145.5h1.0v1.0h-1.0zM477.95 141.99h1.0v1.0h-1.0zM476.61 139.17h1.0v1.0h-1.0zM477.28 144.8h1.0v1.0h-1.0zM477.06 138.78h1.0v1.0h-1.0zM477.92 145.37h1.0v1.0h-1.0zM476.89 138.46h1.0v1.0h-1.0zM477.09 136.07h1.0v1.0h-1.0zM476.51 144.61h1.0v1.0h-1.0zM478.07 137.95h1.0v1.0h-1.0zM477.22 145.52h1.0v1.0h-1.0zM477.5 141.09h1.0v1.0h-1.0zM478.04 144.64h1.0v1.0h-1.0zM477.17 141.99h1.0v1.0h-1.0zM477.53 133.75h1.0v1.0h-1.0zM476.19 143.1h1.0v1.0h-1.0zM477.11 140.16h1.0v1.0h-1.0zM476.75 142.28h1.0v1.0h-1.0zM476.94 139.79h1.0v1.0h-1.0zM477.08 139.17h1.0v1.0h-1.0zM477.36 149.59h1.0v1.0h-1.0zM477.33 139.14h1.0v1.0h-1.0zM476.32 139.3h1.0v1.0h-1.0zM476.67 143.25h1.0v1.0h-1.0zM477.53 141.04h1.0v1.0h-1.0zM477.74 144.23h1.0v1.0h-1.0zM476.89 144.36h1.0v1.0h-1.0zM476.67 139.05h1.0v1.0h-1.0zM477.16 137.88h1.0v1.0h-1.0zM477.45 131.83h1.0v1.0h-1.0zM476.71 147.31h1.0v1.0h-1.0zM476.25 139.98h1.0v1.0h-1.0zM476.71 143.34h1.0v1.0h-1.0zM477.04 138.73h1.0v1.0h-1.0zM477.05 142.5h1.0v1.0h-1.0zM477.21 142.55h1.0v1.0h-1.0zM476.97 136.32h1.0v1.0h-1.0zM477.1 135.96h1.0v1.0h-1.0zM477.78 148.89h1.0v1.0h-1.0zM476.54 138.52h1.0v1.0h-1.0zM477.5 146.78h1.0v1.0h-1.0zM477.18 141.44h1.0v1.0h-1.0zM476.95 144.24h1.0v1.0h-1.0zM476.32 143.72h1.0v1.0h-1.0zM477.54 142.94h1.0v1.0h-1.0zM476.67 136.08h1.0v1.0h-1.0zM475.99 147.53h1.0v1.0h-1.0zM477.43 139.21h1.0v1.0h-1.0zM475.97 142.92h1.0v1.0h-1.0zM477.39 145.95h1.0v1.0h-1.0zM476.71 141.66h1.0v1.0h-1.0zM476.97 136.77h1.0v1.0h-1.0zM476.43 150.68h1.0v1.0h-1.0zM477.04 143.08h1.0v1.0h-1.0zM476.52 135.52h1.0v1.0h-1.0zM475.69 137.89h1.0v1.0h-1.0zM477.03 142.52h1.0v1.0h-1.0zM476.54 138.58h1.0v1.0h-1.0zM476.75 137.84h1.0v1.0h-1.0zM476.44 143.28h1.0v1.0h-1.0zM477.12 139.42h1.0v1.0h-1.0zM476.65 132.33h1.0v1.0h-1.0zM475.85 141.22h1.0v1.0h-1.0zM476.59 138.53h1.0v1.0h-1.0zM476.22 129.81h1.0v1.0h-1.0zM475.83 137.04h1.0v1.0h-1.0zM476.98 132.07h1.0v1.0h-1.0zM476.95 140.91h1.0v1.0h-1.0zM477.26 140.22h1.0v1.0h-1.0zM477.41 134.71h1.0v1.0h-1.0zM478.13 134.96h1.0v1.0h-1.0zM477.52 150.18h1.0v1.0h-1.0zM476.56 137.93h1.0v1.0h-1.0zM476.72 143.95h1.0v1.0h-1.0zM477.03 138.33h1.0v1.0h-1.0zM476.65 140.72h1.0v1.0h-1.0zM476.52 144.08h1.0v1.0h-1.0zM477.23 140.33h1.0v1.0h-1.0zM476.46 139.39h1.0v1.0h-1.0zM475.79 146.6h1.0v1.0h-1.0zM477.6 143.64h1.0v1.0h-1.0zM476.45 144.52h1.0v1.0h-1.0zM477.13 151.8h1.0v1.0h-1.0zM476.14 138.09h1.0v1.0h-1.0zM476.74 141.71h1.0v1.0h-1.0zM477.01 140.33h1.0v1.0h-1.0zM476.63 139.26h1.0v1.0h-1.0zM477.54 137.92h1.0v1.0h-1.0zM477.23 149.15h1.0v1.0h-1.0zM477.42 142.85h1.0v1.0h-1.0zM476.95 140.27h1.0v1.0h-1.0zM477.14 139.12h1.0v1.0h-1.0zM476.6 136.18h1.0v1.0h-1.0zM476.96 144.1h1.0v1.0h-1.0zM476.98 140.41h1.0v1.0h-1.0zM475.95 140.12h1.0v1.0h-1.0zM476.81 144.02h1.0v1.0h-1.0zM477.8 135.12h1.0v1.0h-1.0zM476.75 142.4h1.0v1.0h-1.0zM476.67 140.21h1.0v1.0h-1.0zM477.43 143.05h1.0v1.0h-1.0zM475.38 141.4h1.0v1.0h-1.0zM476.89 148.84h1.0v1.0h-1.0zM476.75 136.52h1.0v1.0h-1.0zM476.65 137.44h1.0v1.0h-1.0zM477.8 144.05h1.0v1.0h-1.0zM476.92 145.25h1.0v1.0h-1.0zM477.54 136.12h1.0v1.0h-1.0zM477.15 142.26h1.0v1.0h-1.0zM476.33 136.83h1.0v1.0h-1.0zM477.16 133.73h1.0v1.0h-1.0zM476.48 142.27h1.0v1.0h-1.0zM478.2 142.14h1.0v1.0h-1.0zM476.41 142.13h1.0v1.0h-1.0zM477.14 144.6h1.0v1.0h-1.0zM477.63 140.61h1.0v1.0h-1.0zM477.75 133.29h1.0v1.0h-1.0zM475.98 140.77h1.0v1.0h-1.0zM476.83 140.86h1.0v1.0h-1.0zM476.31 140.42h1.0v1.0h-1.0zM476.86 147.47h1.0v1.0h-1.0zM477.43 140.88h1.0v1.0h-1.0zM477.74 136.2h1.0v1.0h-1.0zM476.54 140.34h1.0v1.0h-1.0zM476.5 135.1h1.0v1.0h-1.0zM476.62 149.13h1.0v1.0h-1.0zM476.85 142.81h1.0v1.0h-1.0zM478.3 139.02h1.0v1.0h-1.0zM476.57 139.91h1.0v1.0h-1.0zM476.95 143.65h1.0v1.0h-1.0zM477.18 146.95h1.0v1.0h-1.0zM476.5 133.81h1.0v1.0h-1.0zM478.04 140.9h1.0v1.0h-1.0zM477.05 141.37h1.0v1.0h-1.0zM477.23 141.35h1.0v1.0h-1.0zM476.81 140.12h1.0v1.0h-1.0zM477.15 147.79h1.0v1.0h-1.0zM476.84 136h1.0v1.0h-1.0zM477.47 137.39h1.0v1.0h-1.0zM475.69 141.47h1.0v1.0h-1.0zM477.69 138.44h1.0v1.0h-1.0zM475.73 140.44h1.0v1.0h-1.0zM477.58 138.6h1.0v1.0h-1.0zM477.17 133.14h1.0v1.0h-1.0zM476.92 144.01h1.0v1.0h-1.0zM475.98 141.55h1.0v1.0h-1.0zM477.41 139.3h1.0v1.0h-1.0zM476.65 140.51h1.0v1.0h-1.0zM477.02 136.04h1.0v1.0h-1.0zM477.74 140.96h1.0v1.0h-1.0zM476.35 134.53h1.0v1.0h-1.0zM476.22 139.79h1.0v1.0h-1.0zM477.55 140.68h1.0v1.0h-1.0zM476.65 133.49h1.0v1.0h-1.0zM476.41 138.19h1.0v1.0h-1.0zM476.57 139.84h1.0v1.0h-1.0zM476.8 143.64h1.0v1.0h-1.0zM477.28 140.92h1.0v1.0h-1.0zM476.43 138.78h1.0v1.0h-1.0zM477.1 138.25h1.0v1.0h-1.0zM476.35 144.38h1.0v1.0h-1.0zM476.85 146.32h1.0v1.0h-1.0zM476.55 151.49h1.0v1.0h-1.0zM476.74 138.96h1.0v1.0h-1.0zM477.35 144.22h1.0v1.0h-1.0zM477.49 137.79h1.0v1.0h-1.0zM477.45 142.86h1.0v1.0h-1.0zM477.33 138.71h1.0v1.0h-1.0zM476.99 130.97h1.0v1.0h-1.0zM477.21 140.35h1.0v1.0h-1.0zM477.42 134.86h1.0v1.0h-1.0zM476.62 145.79h1.0v1.0h-1.0zM477.56 145.39h1.0v1.0h-1.0zM477.42 146.32h1.0v1.0h-1.0zM477.3 148.78h1.0v1.0h-1.0zM475.78 145.15h1.0v1.0h-1.0zM477.3 138.74h1.0v1.0h-1.0zM476.86 137.06h1.0v1.0h-1.0zM477.1 135.84h1.0v1.0h-1.0zM476.77 135.72h1.0v1.0h-1.0zM476.86 140.31h1.0v1.0h-1.0zM476.84 143.82h1.0v1.0h-1.0zM476.98 131h1.0v1.0h-1.0zM476.51 137.83h1.0v1.0h-1.0zM477.32 137.57h1.0v1.0h-1.0zM477.02 145.25h1.0v1.0h-1.0zM476.2 143.12h1.0v1.0h-1.0zM477.62 135.5h1.0v1.0h-1.0zM476.6 141.31h1.0v1.0h-1.0zM476.9 140.59h1.0v1.0h-1.0zM477.32 134.51h1.0v1.0h-1.0zM476.93 146.31h1.0v1.0h-1.0zM478.05 138.78h1.0v1.0h-1.0zM476.26 146.45h1.0v1.0h-1.0zM476.96 138.7h1.0v1.0h-1.0zM476.05 141.13h1.0v1.0h-1.0zM477.06 131.44h1.0v1.0h-1.0zM476.7 144.56h1.0v1.0h-1.0zM478.11 142.83h1.0v1.0h-1.0zM476.33 140.67h1.0v1.0h-1.0zM477.22 150.27h1.0v1.0h-1.0zM476.74 139.46h1.0v1.0h-1.0zM476.58 138.34h1.0v1.0h-1.0zM476.63 148.41h1.0v1.0h-1.0zM476.92 144.64h1.0v1.0h-1.0zM477.58 146.68h1.0v1.0h-1.0zM476.48 141.57h1.0v1.0h-1.0z" fill="#00008b" fill-opacity="0.5"/>
<path d="M548.49 104.83h1.0v1.0h-1.0zM549.19 105.17h1.0v1.0h-1.0zM548.81 103.09h1.0v1.0h-1.0zM548.63 105.39h1.0v1.0h-1.0zM549.01 103.46h1.0v1.0h-1.0zM548.8 105.91h1.0v1.0h-1.0zM548.45 102.11h1.0v1.0h-1.0zM548.87 102.52h1.0v1.0h-1.0zM549.39 102.23h1.0v1.0h-1.0zM548.27 107.34h1.0v1.0h-1.0zM548.4 103.04h1.0v1.0h-1.0zM548.72 104.45h1.0v1.0h-1.0zM548.34 104.87h1.0v1.0h-1.0zM548.73 104.51h1.0v1.0h-1.0zM548.81 103.91h1.0v1.0h-1.0zM548.98 103.89h1.0v1.0h-1.0zM548.69 105.9h1.0v1.0h-1.0zM548.22 103.97h1.0v1.0h-1.0zM548.4 101.06h1.0v1.0h-1.0zM548.72 104.57h1.0v1.0h-1.0zM549.15 103.96h1.0v1.0h-1.0zM549.35 108.21h1.0v1.0h-1.0zM548.53 107.13h1.0v1.0h-1.0zM548.81 105.19h1.0v1.0h-1.0zM548.94 107h1.0v1.0h-1.0zM547.85 102.26h1.0v1.0h-1.0zM549.65 105.23h1.0v1.0h-1.0zM549.26 103.39h1.0v1.0h-1.0zM548.65 103.8h1.0v1.0h-1.0zM548.83 104.95h1.0v1.0h-1.0zM548.74 102.3h1.0v1.0h-1.0zM549.71 104.72h1.0v1.0h-1.0zM549.28 102.87h1.0v1.0h-1.0zM549.38 104.1h1.0v1.0h-1.0zM548.18 103.71h1.0v1.0h-1.0zM548.77 102.91h1.0v1.0h-1.0zM548.22 104.97h1.0v1.0h-1.0zM549.09 104.83h1.0v1.0h-1.0zM549.1 106.11h1.0v1.0h-1.0zM548.78 103.22h1.0v1.0h-1.0zM549.04 103.2h1.0v1.0h-1.0zM548.11 103.46h1.0v1.0h-1.0zM548.58 105.79h1.0v1.0h-1.0zM548.52 104.56h1.0v1.0h-1.0zM548.46 101.93h1.0v1.0h-1.0zM548.77 102.45h1.0v1.0h-1.0zM548.71 103.48h1.0v1.0h-1.0zM549.48 104.41h1.0v1.0h-1.0zM548.57 105.46h1.0v1.0h-1.0zM549.48 105.18h1.0v1.0h-1.0zM549.76 104.96h1.0v1.0h-1.0zM548.32 103.29h1.0v1.0h-1.0zM548.56 104.92h1.0v1.0h-1.0zM548.84 104.76h1.0v1.0h-1.0zM548.68 101.84h1.0v1.0h-1.0zM549.54 104.73h1.0v1.0h-1.0zM548.71 105.24h1.0v1.0h-1.0zM548.44 103.61h1.0v1.0h-1.0zM548.78 103.16h1.0v1.0h-1.0zM548.67 106.55h1.0v1.0h-1.0zM549.14 106.15h1.0v1.0h-1.0zM548.95 102.36h1.0v1.0h-1.0zM549.21 105.29h1.0v1.0h-1.0zM547.87 106.49h1.0v1.0h-1.0zM549.63 105.84h1.0v1.0h-1.0zM548.51 104.1h1.0v1.0h-1.0zM549.34 103.68h1.0v1.0h-1.0zM549.36 104.38h1.0v1.0h-1.0zM548.55 103.38h1.0v1.0h-1.0zM548.61 102.23h1.0v1.0h-1.0zM548.65 103.08h1.0v1.0h-1.0zM548.3 102.86h1.0v1.0h-1.0zM549.35 107.36h1.0v1.0h-1.0zM549.12 105.31h1.0v1.0h-1.0zM548.42 100.83h1.0v1.0h-1.0zM548.82 103.34h1.0v1.0h-1.0zM547.79 102.82h1.0v1.0h-1.0zM548.78 107.17h1.0v1.0h-1.0zM548.8 105.49h1.0v1.0h-1.0zM549.67 102.99h1.0v1.0h-1.0zM548.19 105.67h1.0v1.0h-1.0zM548.57 105.78h1.0v1.0h-1.0zM549.32 105.18h1.0v1.0h-1.0zM548.83 104.75h1.0v1.0h-1.0zM549.3 102.91h1.0v1.0h-1.0zM548.83 104.69h1.0v1.0h-1.0zM548.89 104.01h1.0v1.0h-1.0zM549.67 100.71h1.0v1.0h-1.0zM548.99 104.83h1.0v1.0h-1.0zM548.95 106.94h1.0v1.0h-1.0zM549.46 104.79h1.0v1.0h-1.0zM548.65 102.59h1.0v1.0h-1.0zM548.23 104.48h1.0v1.0h-1.0zM547.96 101.51h1.0v1.0h-1.0zM548.05 105.16h1.0v1.0h-1.0zM548.62 105.61h1.0v1.0h-1.0zM548.57 104.93h1.0v1.0h-1.0zM548.76 103.35h1.0v1.0h-1.0zM548.94 103.97h1.0v1.0h-1.0zM549.2 103.05h1.0v1.0h-1.0zM547.95 103.38h1.0v1.0h-1.0zM548.84 103.69h1.0v1.0h-1.0zM549.33 106.79h1.0v1.0h-1.0zM547.61 104.55h1.0v1.0h-1.0zM548.71 108.15h1.0v1.0h-1.0zM548.72 101.55h1.0v1.0h-1.0zM548.4 104.82h1.0v1.0h-1.0zM549.66 107.6h1.0v1.0h-1.0zM548.72 105.52h1.0v1.0h-1.0zM547.96 106.28h1.0v1.0h-1.0zM549.06 102.66h1.0v1.0h-1.0zM548.91 103.5h1.0v1.0h-1.0zM548.82 105.3h1.0v1.0h-1.0zM549.05 103.69h1.0v1.0h-1.0zM549.14 104.21h1.0v1.0h-1.0zM548.86 100.72h1.0v1.0h-1.0zM548.56 107.99h1.0v1.0h-1.0zM549 105.43h1.0v1.0h-1.0zM548.38 105.06h1.0v1.0h-1.0zM548.61 105.7h1.0v1.0h-1.0zM548.64 102.93h1.0v1.0h-1.0zM549.01 104.44h1.0v1.0h-1.0zM548.73 104.71h1.0v1.0h-1.0zM547.88 102.87h1.0v1.0h-1.0zM548.74 102.41h1.0v1.0h-1.0zM548.8 103.5h1.0v1.0h-1.0zM548.36 107.45h1.0v1.0h-1.0zM549.02 104.15h1.0v1.0h-1.0zM548.37 105.27h1.0v1.0h-1.0zM548.28 105.86h1.0v1.0h-1.0zM549.01 100.78h1.0v1.0h-1.0zM549.09 106.98h1.0v1.0h-1.0zM549.15 103.74h1.0v1.0h-1.0zM549.02 100.98h1.0v1.0h-1.0zM548.57 106.15h1.0v1.0h-1.0zM548.85 105.27h1.0v1.0h-1.0zM548.78 106.72h1.0v1.0h-1.0zM549.03 105.32h1.0v1.0h-1.0zM548.1 102.57h1.0v1.0h-1.0zM548.41 105.8h1.0v1.0h-1.0zM548.35 102.61h1.0v1.0h-1.0zM549.49 103.19h1.0v1.0h-1.0zM548.63 102.97h1.0v1.0h-1.0zM548.91 105.24h1.0v1.0h-1.0zM548.38 104.43h1.0v1.0h-1.0zM547.93 107.25h1.0v1.0h-1.0zM548.71 104.66h1.0v1.0h-1.0zM548.41 103.52h1.0v1.0h-1.0zM548.07 105.48h1.0v1.0h-1.0zM547.96 104.44h1.0v1.0h-1.0zM548.84 104.29h1.0v1.0h-1.0zM548.89 105.4h1.0v1.0h-1.0zM549.33 100.19h1.0v1.0h-1.0zM549.23 103.24h1.0v1.0h-1.0zM549.06 104.14h1.0v1.0h-1.0zM548.38 104.53h1.0v1.0h-1.0zM549.1 102.96h1.0v1.0h-1.0zM548.94 105.79h1.0v1.0h-1.0zM548.51 102.75h1.0v1.0h-1.0zM548.71 102.12h1.0v1.0h-1.0zM549.01 103.41h1.0v1.0h-1.0zM548.53 104.22h1.0v1.0h-1.0zM549.04 102.5h1.0v1.0h-1.0zM548.74 107.44h1.0v1.0h-1.0zM547.82 103.46h1.0v1.0h-1.0zM548.1 100.15h1.0v1.0h-1.0zM549.16 101.88h1.0v1.0h-1.0zM548.22 106.09h1.0v1.0h-1.0zM549.11 106.66h1.0v1.0h-1.0zM549.46 105.29h1.0v1.0h-1.0zM549.01 104.07h1.0v1.0h-1.0zM548.57 108.2h1.0v1.0h-1.0zM548.83 102.44h1.0v1.0h-1.0zM548.38 103.13h1.0v1.0h-1.0zM549.01 106.42h1.0v1.0h-1.0zM549.24 106.51h1.0v1.0h-1.0zM548.27 103.13h1.0v1.0h-1.0zM548.31 107.21h1.0v1.0h-1.0zM548.73 102.07h1.0v1.0h-1.0zM548.9 103.71h1.0v1.0h-1.0zM549.4 105.93h1.0v1.0h-1.0zM549.37 105.66h1.0v1.0h-1.0zM549.13 104.22h1.0v1.0h-1.0zM548.52 104.18h1.0v1.0h-1.0zM548.25 105.87h1.0v1.0h-1.0zM548.54 104.58h1.0v1.0h-1.0zM549.34 106.75h1.0v1.0h-1.0zM548.76 101.85h1.0v1.0h-1.0zM548.94 107.6h1.0v1.0h-1.0zM548.09 106.1h1.0v1.0h-1.0zM548.87 103.84h1.0v1.0h-1.0zM549.45 104.78h1.0v1.0h-1.0zM548.04 102.21h1.0v1.0h-1.0zM549.51 102.52h1.0v1.0h-1.0zM548.61 108.42h1.0v1.0h-1.0zM548.41 103.75h1.0v1.0h-1.0zM548.81 105.8h1.0v1.0h-1.0zM548.48 102.73h1.0v1.0h-1.0zM549.12 105.11h1.0v1.0h-1.0zM548.41 105.57h1.0v1.0h-1.0zM548.45 106.12h1.0v1.0h-1.0zM549.01 101.45h1.0v1.0h-1.0zM548.18 104h1.0v1.0h-1.0zM549.12 103.05h1.0v1.0h-1.0zM548.67 102.51h1.0v1.0h-1.0zM548.93 101.76h1.0v1.0h-1.0zM549.01 104.63h1.0v1.0h-1.0zM548.24 103.01h1.0v1.0h-1.0zM548.3 105.35h1.0v1.0h-1.0zM549.53 105.03h1.0v1.0h-1.0zM548.76 104.74h1.0v1.0h-1.0zM548.44 108.02h1.0v1.0h-1.0zM548.66 105.55h1.0v1.0h-1.0zM548.77 104.07h1.0v1.0h-1.0zM548.46 106.12h1.0v1.0h-1.0zM548.43 107.02h1.0v1.0h-1.0zM548.94 103.95h1.0v1.0h-1.0zM549.12 102.66h1.0v1.0h-1.0z" fill="#ff0000" fill-opacity="0.55"/>
<path d="M548.91 115.31h1.0v1.0h-1.0zM548.24 113.64h1.0v1.0h-1.0zM548.9 112.26h1.0v1.0h-1.0zM548.84 109.93h1.0v1.0h-1.0zM548.44 112.35h1.0v1.0h-1.0zM548.52 119.18h1.0v1.0h-1.0zM548.89 115.84h1.0v1.0h-1.0zM548.79 110.4h1.0v1.0h-1.0zM549.33 119.12h1.0v1.0h-1.0zM549.19 112.06h1.0v1.0h-1.0zM548.84 107.42h1.0v1.0h-1.0zM548.85 113.68h1.0v1.0h-1.0zM549.74 115.48h1.0v1.0h-1.0zM548.71 116.69h1.0v1.0h-1.0zM548.89 114.7h1.0v1.0h-1.0zM548.69 115.21h1.0v1.0h-1.0zM549.39 107.84h1.0v1.0h-1.0zM548.11 112.8h1.0v1.0h-1.0zM548.52 112.44h1.0v1.0h-1.0zM548.98 114.6h1.0v1.0h-1.0zM548.16 111.21h1.0v1.0h-1.0zM549.37 114.77h1.0v1.0h-1.0zM549 114.05h1.0v1.0h-1.0zM548.76 115.17h1.0v1.0h-1.0zM548.72 112.38h1.0v1.0h-1.0zM547.87 116.43h1.0v1.0h-1.0zM548.61 117.13h1.0v1.0h-1.0zM547.34 112.9h1.0v1.0h-1.0zM548.8 112.46h1.0v1.0h-1.0zM549.21 117.46h1.0v1.0h-1.0zM549.06 113.19h1.0v1.0h-1.0zM548 109.8h1.0v1.0h-1.0zM549.2 113.02h1.0v1.0h-1.0zM548.94 110.19h1.0v1.0h-1.0zM548.34 114.56h1.0v1.0h-1.0zM548.67 110.49h1.0v1.0h-1.0zM547.99 119.11h1.0v1.0h-1.0zM548.56 114.37h1.0v1.0h-1.0zM548.09 114.43h1.0v1.0h-1.0zM549.51 107.78h1.0v1.0h-1.0zM548.95 110.96h1.0v1.0h-1.0zM548.41 119.02h1.0v1.0h-1.0zM548.1 114.84h1.0v1.0h-1.0zM549.12 111.52h1.0v1.0h-1.0zM549.06 113.66h1.0v1.0h-1.0zM548.12 116.55h1.0v1.0h-1.0zM547.7 113.13h1.0v1.0h-1.0zM548.72 110.12h1.0v1.0h-1.0zM549.14 113.51h1.0v1.0h-1.0zM548.93 110.97h1.0v1.0h-1.0zM548.75 115.64h1.0v1.0h-1.0zM548.73 117.85h1.0v1.0h-1.0zM549.3 113.46h1.0v1.0h-1.0zM549.04 114.97h1.0v1.0h-1.0zM547.89 114.21h1.0v1.0h-1.0zM549.42 117.86h1.0v1.0h-1.0zM548.23 118.86h1.0v1.0h-1.0zM547.87 112.02h1.0v1.0h-1.0zM548.24 112.76h1.0v1.0h-1.0zM549.08 114.45h1.0v1.0h-1.0zM549 112.24h1.0v1.0h-1.0zM548.63 115.86h1.0v1.0h-1.0zM547.97 115.49h1.0v1.0h-1.0zM548.22 113.22h1.0v1.0h-1.0zM549.32 115.8h1.0v1.0h-1.0zM548.28 112.5h1.0v1.0h-1.0zM548.47 110.5h1.0v1.0h-1.0zM547.48 115.52h1.0v1.0h-1.0zM548.74 113.24h1.0v1.0h-1.0zM548.34 118.77h1.0v1.0h-1.0zM548.78 113.1h1.0v1.0h-1.0zM548.92 113.31h1.0v1.0h-1.0zM549.07 111.3h1.0v1.0h-1.0zM548.25 113.54h1.0v1.0h-1.0zM549.02 114.54h1.0v1.0h-1.0zM548.81 107.71h1.0v1.0h-1.0zM549.07 113.21h1.0v1.0h-1.0zM548.82 109.6h1.0v1.0h-1.0zM549.37 118.16h1.0v1.0h-1.0zM548.79 112.84h1.0v1.0h-1.0zM548.73 113.19h1.0v1.0h-1.0zM549.21 118.15h1.0v1.0h-1.0zM548.21 115.14h1.0v1.0h-1.0zM548.12 110.78h1.0v1.0h-1.0zM549.39 115.04h1.0v1.0h-1.0zM549.16 116.62h1.0v1.0h-1.0zM548.91 111.21h1.0v1.0h-1.0zM548.48 115.67h1.0v1.0h-1.0zM548.12 117.29h1.0v1.0h-1.0zM548.79 108.33h1.0v1.0h-1.0zM548.83 117h1.0v1.0h-1.0zM548.39 116.57h1.0v1.0h-1.0zM549.39 112.42h1.0v1.0h-1.0zM548.14 113.45h1.0v1.0h-1.0zM548.49 111.63h1.0v1.0h-1.0zM549.14 114.47h1.0v1.0h-1.0zM548.46 114.57h1.0v1.0h-1.0zM548.86 111.47h1.0v1.0h-1.0zM549.62 112.53h1.0v1.0h-1.0zM548.88 115.82h1.0v1.0h-1.0zM549.24 114.26h1.0v1.0h-1.0zM548.56 113.01h1.0v1.0h-1.0zM548.32 115.93h1.0v1.0h-1.0zM549.29 111.5h1.0v1.0h-1.0zM548.48 115.01h1.0v1.0h-1.0zM548.85 115.97h1.0v1.0h-1.0zM548.15 112.28h1.0v1.0h-1.0zM548.75 114.11h1.0v1.0h-1.0zM547.76 116.86h1.0v1.0h-1.0zM548.91 115.11h1.0v1.0h-1.0zM548.66 112.6h1.0v1.0h-1.0zM548.22 116.64h1.0v1.0h-1.0zM548.7 114.37h1.0v1.0h-1.0zM548.4 114.25h1.0v1.0h-1.0zM548.86 115.21h1.0v1.0h-1.0zM549.49 117.51h1.0v1.0h-1.0zM548.07 110.59h1.0v1.0h-1.0zM548.3 112.75h1.0v1.0h-1.0zM548.37 113.21h1.0v1.0h-1.0zM548.29 114.32h1.0v1.0h-1.0zM548.87 111.99h1.0v1.0h-1.0zM549.25 112.79h1.0v1.0h-1.0zM548.73 117.15h1.0v1.0h-1.0zM548.9 112.6h1.0v1.0h-1.0zM548.4 116.05h1.0v1.0h-1.0zM547.31 113.25h1.0v1.0h-1.0zM549.34 111.43h1.0v1.0h-1.0zM548.7 112.6h1.0v1.0h-1.0zM549.38 112.84h1.0v1.0h-1.0zM549.03 115.32h1.0v1.0h-1.0zM548.39 116.65h1.0v1.0h-1.0zM548.87 112.93h1.0v1.0h-1.0zM548.99 113.4h1.0v1.0h-1.0zM548.77 114.93h1.0v1.0h-1.0zM549.62 113.25h1.0v1.0h-1.0zM548.33 112.32h1.0v1.0h-1.0zM549 114.71h1.0v1.0h-1.0zM548.65 114.33h1.0v1.0h-1.0zM548.46 111.85h1.0v1.0h-1.0zM549.29 116.05h1.0v1.0h-1.0zM547.99 117.88h1.0v1.0h-1.0zM548.12 111.23h1.0v1.0h-1.0zM548.22 110.79h1.0v1.0h-1.0zM549.04 112.08h1.0v1.0h-1.0zM547.71 113.72h1.0v1.0h-1.0zM548.59 114.1h1.0v1.0h-1.0zM549.35 115.76h1.0v1.0h-1.0zM548.79 112.44h1.0v1.0h-1.0zM548.67 111.31h1.0v1.0h-1.0zM548.38 109.24h1.0v1.0h-1.0zM548.65 114.35h1.0v1.0h-1.0zM548.28 113.79h1.0v1.0h-1.0zM549.1 114.66h1.0v1.0h-1.0zM548.48 115.43h1.0v1.0h-1.0zM548.92 112.23h1.0v1.0h-1.0zM548.62 116.1h1.0v1.0h-1.0zM548.42 109.55h1.0v1.0h-1.0zM549.69 109.14h1.0v1.0h-1.0zM549.14 115.15h1.0v1.0h-1.0zM549.2 113.69h1.0v1.0h-1.0zM549.44 116.13h1.0v1.0h-1.0zM548.53 114.18h1.0v1.0h-1.0zM548.64 115.05h1.0v1.0h-1.0zM548.62 115.84h1.0v1.0h-1.0zM549.6 115.28h1.0v1.0h-1.0zM548.87 118.61h1.0v1.0h-1.0zM548.36 113.35h1.0v1.0h-1.0zM548.74 113.94h1.0v1.0h-1.0zM548.68 114.3h1.0v1.0h-1.0zM549.56 113.06h1.0v1.0h-1.0zM548.44 114.14h1.0v1.0h-1.0zM548.25 114.74h1.0v1.0h-1.0zM548.05 113.08h1.0v1.0h-1.0zM548.06 118.79h1.0v1.0h-1.0zM549.65 113.35h1.0v1.0h-1.0zM547.76 113.07h1.0v1.0h-1.0zM548.86 110.68h1.0v1.0h-1.0zM548.54 112.33h1.0v1.0h-1.0zM548.09 113.65h1.0v1.0h-1.0zM548.75 116.03h1.0v1.0h-1.0zM549.45 107.52h1.0v1.0h-1.0zM549.54 113.86h1.0v1.0h-1.0zM549.63 109.28h1.0v1.0h-1.0zM548.3 113.77h1.0v1.0h-1.0zM548 116.07h1.0v1.0h-1.0zM549.54 115.79h1.0v1.0h-1.0zM548.92 116.95h1.0v1.0h-1.0zM548.84 112.44h1.0v1.0h-1.0zM549.19 112.07h1.0v1.0h-1.0zM548.89 115.46h1.0v1.0h-1.0zM549.3 112.3h1.0v1.0h-1.0zM548.71 112.82h1.0v1.0h-1.0zM548.1 108.93h1.0v1.0h-1.0zM548.99 110.66h1.0v1.0h-1.0zM548.14 112.89h1.0v1.0h-1.0zM549.01 114.09h1.0v1.0h-1.0zM549.28 111.1h1.0v1.0h-1.0zM549.63 111.79h1.0v1.0h-1.0zM548.79 110.42h1.0v1.0h-1.0zM548.31 110.92h1.0v1.0h-1.0zM549.47 112.02h1.0v1.0h-1.0zM549.55 113.91h1.0v1.0h-1.0zM548.93 116.26h1.0v1.0h-1.0zM548.6 110.99h1.0v1.0h-1.0zM548.82 116.63h1.0v1.0h-1.0zM548.16 108.77h1.0v1.0h-1.0zM549.84 115.19h1.0v1.0h-1.0zM548.91 115.96h1.0v1.0h-1.0zM549.79 113.21h1.0v1.0h-1.0zM549.44 110.1h1.0v1.0h-1.0zM547.93 117.37h1.0v1.0h-1.0zM548.65 110.41h1.0v1.0h-1.0zM547.9 111.71h1.0v1.0h-1.0zM549.36 108.56h1.0v1.0h-1.0z" fill="#00008b" fill-opacity="0.55"/>
<path d="M604.64 77.01h1.0v1.0h-1.0zM604.13 81.21h1.0v1.0h-1.0zM603.84 81.47h1.0v1.0h-1.0zM603.65 79.37h1.0v1.0h-1.0zM604.8 80.85h1.0v1.0h-1.0zM604.3 78.03h1.0v1.0h-1.0zM604.04 81.11h1.0v1.0h-1.0zM603.95 78.93h1.0v1.0h-1.0zM604.65 77.03h1.0v1.0h-1.0zM604.11 80.85h1.0v1.0h-1.0zM603.93 76.65h1.0v1.0h-1.0zM604.26 80.75h1.0v1.0h-1.0zM604.5 79.49h1.0v1.0h-1.0zM603.73 80.21h1.0v1.0h-1.0zM603.82 79.58h1.0v1.0h-1.0zM604.91 80.99h1.0v1.0h-1.0zM603.2 78.14h1.0v1.0h-1.0zM603.63 81.38h1.0v1.0h-1.0zM603.7 77.13h1.0v1.0h-1.0zM604.81 80.15h1.0v1.0h-1.0zM604.81 79.27h1.0v1.0h-1.0zM605.27 80.5h1.0v1.0h-1.0zM605.07 77.43h1.0v1.0h-1.0zM604.01 78.05h1.0v1.0h-1.0zM604.56 79.36h1.0v1.0h-1.0zM604.1 79.96h1.0v1.0h-1.0zM604.59 77.39h1.0v1.0h-1.0zM604.66 78.09h1.0v1.0h-1.0zM604.46 78.26h1.0v1.0h-1.0zM603.97 76.4h1.0v1.0h-1.0zM604.28 77.81h1.0v1.0h-1.0zM604.26 80.08h1.0v1.0h-1.0zM604.56 81.96h1.0v1.0h-1.0zM604.62 80.98h1.0v1.0h-1.0zM604.5 78.34h1.0v1.0h-1.0zM603.61 76.83h1.0v1.0h-1.0zM604.71 80.52h1.0v1.0h-1.0zM604.22 77.73h1.0v1.0h-1.0zM603.97 82.63h1.0v1.0h-1.0zM604.89 79.54h1.0v1.0h-1.0zM604.46 80.1h1.0v1.0h-1.0zM603.69 78.22h1.0v1.0h-1.0zM605.08 81.87h1.0v1.0h-1.0zM604.93 76.07h1.0v1.0h-1.0zM604.27 77.33h1.0v1.0h-1.0zM603.95 79.62h1.0v1.0h-1.0zM604.73 79.83h1.0v1.0h-1.0zM604.96 77.74h1.0v1.0h-1.0zM604.38 79.03h1.0v1.0h-1.0zM603.7 79.73h1.0v1.0h-1.0zM604.13 75.25h1.0v1.0h-1.0zM603.93 83.07h1.0v1.0h-1.0zM604.88 76.77h1.0v1.0h-1.0zM604.27 81.41h1.0v1.0h-1.0zM604.37 78.4h1.0v1.0h-1.0zM604.59 79.09h1.0v1.0h-1.0zM604.54 77.75h1.0v1.0h-1.0zM603.54 75.47h1.0v1.0h-1.0zM603.97 78.72h1.0v1.0h-1.0zM604.12 80.38h1.0v1.0h-1.0zM604.2 80.1h1.0v1.0h-1.0zM602.88 77.28h1.0v1.0h-1.0zM604.82 79.06h1.0v1.0h-1.0zM604.75 78.25h1.0v1.0h-1.0zM603.89 77.75h1.0v1.0h-1.0zM603.67 76.76h1.0v1.0h-1.0zM604.32 77.42h1.0v1.0h-1.0zM604.24 82.08h1.0v1.0h-1.0zM605.02 80.61h1.0v1.0h-1.0zM604.23 78.21h1.0v1.0h-1.0zM604.86 81.74h1.0v1.0h-1.0zM604.19 82.88h1.0v1.0h-1.0zM604.54 78.77h1.0v1.0h-1.0zM603.91 81.81h1.0v1.0h-1.0zM603.8 83.34h1.0v1.0h-1.0zM603.33 77.48h1.0v1.0h-1.0zM604.29 76.64h1.0v1.0h-1.0zM603.6 75.77h1.0v1.0h-1.0zM603.8 79.34h1.0v1.0h-1.0zM604.77 78.1h1.0v1.0h-1.0zM604.64 77.92h1.0v1.0h-1.0zM604.96 76.46h1.0v1.0h-1.0zM603.85 78.62h1.0v1.0h-1.0zM604.84 80.68h1.0v1.0h-1.0zM603.89 76.06h1.0v1.0h-1.0zM603.79 80.99h1.0v1.0h-1.0zM603.43 76.09h1.0v1.0h-1.0zM604.42 80.3h1.0v1.0h-1.0zM603.9 78.94h1.0v1.0h-1.0zM604.28 79.4h1.0v1.0h-1.0zM603.58 76.26h1.0v1.0h-1.0zM604.82 80.8h1.0v1.0h-1.0zM603.86 80.39h1.0v1.0h-1.0zM604.11 76.51h1.0v1.0h-1.0zM604.29 77.31h1.0v1.0h-1.0zM603.97 76.75h1.0v1.0h-1.0zM604.02 80.17h1.0v1.0h-1.0zM604.3 76.13h1.0v1.0h-1.0zM604.48 77.48h1.0v1.0h-1.0zM603.94 78.05h1.0v1.0h-1.0zM604.46 80.26h1.0v1.0h-1.0zM604 79.31h1.0v1.0h-1.0zM604.88 80.59h1.0v1.0h-1.0zM604.3 83.1h1.0v1.0h-1.0zM604.31 76.01h1.0v1.0h-1.0zM605.12 79.23h1.0v1.0h-1.0zM604.6 76.93h1.0v1.0h-1.0zM603.58 80.37h1.0v1.0h-1.0zM604.74 80.37h1.0v1.0h-1.0zM604.39 79.87h1.0v1.0h-1.0zM604.54 79.43h1.0v1.0h-1.0zM604.12 80.74h1.0v1.0h-1.0zM604.27 81.57h1.0v1.0h-1.0zM603.39 80.03h1.0v1.0h-1.0zM604.85 77.16h1.0v1.0h-1.0zM604.71 79.45h1.0v1.0h-1.0zM604.01 77.11h1.0v1.0h-1.0zM604.32 80.45h1.0v1.0h-1.0zM604.33 76.94h1.0v1.0h-1.0zM604.37 77.55h1.0v1.0h-1.0zM603.94 77.94h1.0v1.0h-1.0zM603.94 82.13h1.0v1.0h-1.0zM604.85 81.81h1.0v1.0h-1.0zM604.87 80.21h1.0v1.0h-1.0zM604.11 78.4h1.0v1.0h-1.0zM603.92 78.12h1.0v1.0h-1.0zM604.49 82.92h1.0v1.0h-1.0zM604.82 79.72h1.0v1.0h-1.0zM603.53 80.73h1.0v1.0h-1.0zM604.11 78.3h1.0v1.0h-1.0zM605.17 80.34h1.0v1.0h-1.0zM604.05 78.64h1.0v1.0h-1.0zM604.24 77.45h1.0v1.0h-1.0zM604.69 79.67h1.0v1.0h-1.0zM604.74 78.08h1.0v1.0h-1.0zM604.31 80.03h1.0v1.0h-1.0zM603.46 80.81h1.0v1.0h-1.0zM604.35 80.33h1.0v1.0h-1.0zM605.07 78.65h1.0v1.0h-1.0zM604.72 75.21h1.0v1.0h-1.0zM604.98 77.94h1.0v1.0h-1.0zM604.14 80.25h1.0v1.0h-1.0zM604.22 81.28h1.0v1.0h-1.0zM604.09 81.56h1.0v1.0h-1.0zM603.73 77.87h1.0v1.0h-1.0zM603.95 80.5h1.0v1.0h-1.0zM604.46 80h1.0v1.0h-1.0zM605.18 78.8h1.0v1.0h-1.0zM603.78 79.92h1.0v1.0h-1.0zM604.88 79.87h1.0v1.0h-1.0zM604.01 78.46h1.0v1.0h-1.0zM604.23 81.42h1.0v1.0h-1.0zM604.08 82.94h1.0v1.0h-1.0zM604.72 79.01h1.0v1.0h-1.0zM604.33 75.88h1.0v1.0h-1.0zM604.4 79.09h1.0v1.0h-1.0zM604.18 81.15h1.0v1.0h-1.0zM604.92 79.89h1.0v1.0h-1.0zM604.02 82.85h1.0v1.0h-1.0zM603.76 76.69h1.0v1.0h-1.0zM603.2 75.37h1.0v1.0h-1.0zM603.81 77.67h1.0v1.0h-1.0zM604.12 80.94h1.0v1.0h-1.0zM603.46 77.21h1.0v1.0h-1.0zM604.29 77.19h1.0v1.0h-1.0zM604.19 81.24h1.0v1.0h-1.0zM604.44 76.8h1.0v1.0h-1.0zM603.84 78.28h1.0v1.0h-1.0zM604.01 79.63h1.0v1.0h-1.0zM604.98 77.75h1.0v1.0h-1.0zM604.27 77.62h1.0v1.0h-1.0zM604.84 77.65h1.0v1.0h-1.0zM604.19 77.71h1.0v1.0h-1.0zM604.04 77.23h1.0v1.0h-1.0zM604.71 78.94h1.0v1.0h-1.0zM604.12 81.08h1.0v1.0h-1.0zM603.68 77.94h1.0v1.0h-1.0zM603.85 80.13h1.0v1.0h-1.0zM604.59 77.71h1.0v1.0h-1.0zM603.74 79.04h1.0v1.0h-1.0zM604.34 80.51h1.0v1.0h-1.0zM603.97 77h1.0v1.0h-1.0zM603.43 81.35h1.0v1.0h-1.0zM603.27 82.71h1.0v1.0h-1.0zM604.73 81.54h1.0v1.0h-1.0zM603.99 80.1h1.0v1.0h-1.0zM604.81 76.76h1.0v1.0h-1.0zM604.58 80.32h1.0v1.0h-1.0zM604.48 81.17h1.0v1.0h-1.0zM604.28 79.18h1.0v1.0h-1.0zM604.02 80.23h1.0v1.0h-1.0zM604.25 79.67h1.0v1.0h-1.0zM604.7 78.76h1.0v1.0h-1.0zM604.65 78.91h1.0v1.0h-1.0zM604.81 74.87h1.0v1.0h-1.0zM604.44 80.12h1.0v1.0h-1.0zM603.41 79.07h1.0v1.0h-1.0zM604.44 78.24h1.0v1.0h-1.0zM604.29 80.21h1.0v1.0h-1.0zM604.3 79.06h1.0v1.0h-1.0zM604.34 78.62h1.0v1.0h-1.0zM603.93 77.8h1.0v1.0h-1.0zM604.88 78.55h1.0v1.0h-1.0zM604.75 79.6h1.0v1.0h-1.0zM603.81 79.38h1.0v1.0h-1.0zM604.3 80.74h1.0v1.0h-1.0zM604.31 82.13h1.0v1.0h-1.0zM604.11 76.79h1.0v1.0h-1.0zM603.72 80.84h1.0v1.0h-1.0zM603.91 80.82h1.0v1.0h-1.0zM604.49 77.11h1.0v1.0h-1.0zM603.77 80.27h1.0v1.0h-1.0z" fill="#ff0000" fill-opacity="0.55"/>
<path d="M603.53 79.05h1.0v1.0h-1.0zM603.93 82.87h1.0v1.0h-1.0zM604.45 78.32h1.0v1.0h-1.0zM603.28 76.54h1.0v1.0h-1.0zM603.81 79.04h1.0v1.0h-1.0zM603.36 81.7h1.0v1.0h-1.0zM603.83 78.89h1.0v1.0h-1.0zM604.26 78.72h1.0v1.0h-1.0zM604.02 77.03h1.0v1.0h-1.0zM603.31 81.22h1.0v1.0h-1.0zM604.61 78.85h1.0v1.0h-1.0zM604.22 79.33h1.0v1.0h-1.0zM603.95 80.84h1.0v1.0h-1.0zM604.57 76.11h1.0v1.0h-1.0zM603.66 82.87h1.0v1.0h-1.0zM604.21 77.11h1.0v1.0h-1.0zM604.51 77.86h1.0v1.0h-1.0zM604.37 78.79h1.0v1.0h-1.0zM603.8 80.93h1.0v1.0h-1.0zM604.73 78.17h1.0v1.0h-1.0zM603.97 79.51h1.0v1.0h-1.0zM603.5 79.62h1.0v1.0h-1.0zM604.71 79.99h1.0v1.0h-1.0zM603.98 77.57h1.0v1.0h-1.0zM604.41 79.92h1.0v1.0h-1.0zM604.36 82.2h1.0v1.0h-1.0zM604.67 78.69h1.0v1.0h-1.0zM604.33 80.54h1.0v1.0h-1.0zM604.16 78.94h1.0v1.0h-1.0zM603.95 77.87h1.0v1.0h-1.0zM604.35 80.7h1.0v1.0h-1.0zM604.56 81.33h1.0v1.0h-1.0zM604.93 82.5h1.0v1.0h-1.0zM603.83 76.2h1.0v1.0h-1.0zM605.1 80.69h1.0v1.0h-1.0zM604.7 80.48h1.0v1.0h-1.0zM604.26 82.5h1.0v1.0h-1.0zM604.56 81.23h1.0v1.0h-1.0zM603.86 79.66h1.0v1.0h-1.0zM604.19 78.1h1.0v1.0h-1.0zM603.84 79.17h1.0v1.0h-1.0zM603.79 78.73h1.0v1.0h-1.0zM604.03 81.21h1.0v1.0h-1.0zM604.86 78.54h1.0v1.0h-1.0zM604.2 83.3h1.0v1.0h-1.0zM604.48 76.73h1.0v1.0h-1.0zM603.44 76.71h1.0v1.0h-1.0zM604.57 79.75h1.0v1.0h-1.0zM603.91 81.18h1.0v1.0h-1.0zM604.15 78.18h1.0v1.0h-1.0zM604.44 79.7h1.0v1.0h-1.0zM604.43 79.42h1.0v1.0h-1.0zM603.83 79.39h1.0v1.0h-1.0zM603.4 78.24h1.0v1.0h-1.0zM604.33 78.25h1.0v1.0h-1.0zM604.76 79.36h1.0v1.0h-1.0zM604.55 78.87h1.0v1.0h-1.0zM605.35 80.53h1.0v1.0h-1.0zM605.68 76.87h1.0v1.0h-1.0zM605.05 81.81h1.0v1.0h-1.0zM605.28 79.09h1.0v1.0h-1.0zM604.6 79.48h1.0v1.0h-1.0zM604.87 77.29h1.0v1.0h-1.0zM604.69 80.99h1.0v1.0h-1.0zM604.15 78.57h1.0v1.0h-1.0zM604.38 79.18h1.0v1.0h-1.0zM604.37 78.34h1.0v1.0h-1.0zM604.12 78.58h1.0v1.0h-1.0zM604.19 81.13h1.0v1.0h-1.0zM603.75 80.66h1.0v1.0h-1.0zM603.28 82.97h1.0v1.0h-1.0zM604.5 78.89h1.0v1.0h-1.0zM603.12 78.96h1.0v1.0h-1.0zM605.08 81.12h1.0v1.0h-1.0zM604.33 76.81h1.0v1.0h-1.0zM604.35 78.91h1.0v1.0h-1.0zM605.07 80.01h1.0v1.0h-1.0zM604.96 79.15h1.0v1.0h-1.0zM604.77 80.14h1.0v1.0h-1.0zM604.41 79.25h1.0v1.0h-1.0zM603.53 81.86h1.0v1.0h-1.0zM603.73 79.99h1.0v1.0h-1.0zM603.51 81.42h1.0v1.0h-1.0zM603.99 80.69h1.0v1.0h-1.0zM604.02 78.43h1.0v1.0h-1.0zM604.01 79.38h1.0v1.0h-1.0zM604.59 80.39h1.0v1.0h-1.0zM603.98 82.63h1.0v1.0h-1.0zM604.69 79.77h1.0v1.0h-1.0zM604.4 83.63h1.0v1.0h-1.0zM604.04 80.67h1.0v1.0h-1.0zM603.48 78.89h1.0v1.0h-1.0zM603.06 76.37h1.0v1.0h-1.0zM604.13 80.45h1.0v1.0h-1.0zM603.99 79.28h1.0v1.0h-1.0zM604.43 77.97h1.0v1.0h-1.0zM605.05 82.43h1.0v1.0h-1.0zM604.07 77.99h1.0v1.0h-1.0zM603.2 80.64h1.0v1.0h-1.0zM604 78.99h1.0v1.0h-1.0zM604.5 81.29h1.0v1.0h-1.0zM603.98 81.14h1.0v1.0h-1.0zM603.43 77.16h1.0v1.0h-1.0zM605.23 81.52h1.0v1.0h-1.0zM604.36 79.73h1.0v1.0h-1.0zM604.67 78.27h1.0v1.0h-1.0zM603.72 79.42h1.0v1.0h-1.0zM603.53 77.67h1.0v1.0h-1.0zM604.69 79.86h1.0v1.0h-1.0zM604.34 77.56h1.0v1.0h-1.0zM603.95 79.82h1.0v1.0h-1.0zM603.83 75.87h1.0v1.0h-1.0zM604.98 79.8h1.0v1.0h-1.0zM604.49 77.69h1.0v1.0h-1.0zM603.69 78.96h1.0v1.0h-1.0zM603.78 81.08h1.0v1.0h-1.0zM604.97 81.67h1.0v1.0h-1.0zM603.81 79.16h1.0v1.0h-1.0zM604.27 77.95h1.0v1.0h-1.0zM604.53 79.42h1.0v1.0h-1.0zM604.15 80.07h1.0v1.0h-1.0zM603.7 77.78h1.0v1.0h-1.0zM604.43 80.46h1.0v1.0h-1.0zM603.7 78.86h1.0v1.0h-1.0zM604.13 82.29h1.0v1.0h-1.0zM603.91 76.77h1.0v1.0h-1.0zM604.83 81.12h1.0v1.0h-1.0zM604.88 79.61h1.0v1.0h-1.0zM604.26 75.3h1.0v1.0h-1.0zM604.19 77.75h1.0v1.0h-1.0zM604.08 81.55h1.0v1.0h-1.0zM604.63 80.57h1.0v1.0h-1.0zM604.81 78.99h1.0v1.0h-1.0zM604.48 77.34h1.0v1.0h-1.0zM604.09 78.91h1.0v1.0h-1.0zM605.64 80.25h1.0v1.0h-1.0zM603.64 80.16h1.0v1.0h-1.0zM604.37 79.28h1.0v1.0h-1.0zM604.4 83.37h1.0v1.0h-1.0zM603.69 80.24h1.0v1.0h-1.0zM604.95 78.93h1.0v1.0h-1.0zM603.42 79.69h1.0v1.0h-1.0zM604.33 78.52h1.0v1.0h-1.0zM604.21 80.83h1.0v1.0h-1.0zM604.39 82.12h1.0v1.0h-1.0zM603.77 78.59h1.0v1.0h-1.0zM604.05 80.42h1.0v1.0h-1.0zM603.89 80.26h1.0v1.0h-1.0zM604.42 81.37h1.0v1.0h-1.0zM604.89 80.48h1.0v1.0h-1.0zM603.87 81.04h1.0v1.0h-1.0zM603.8 83.28h1.0v1.0h-1.0zM604.32 82.96h1.0v1.0h-1.0zM603.51 82.91h1.0v1.0h-1.0zM604.89 79.06h1.0v1.0h-1.0zM604 77.85h1.0v1.0h-1.0zM603.71 80.66h1.0v1.0h-1.0zM603.42 80h1.0v1.0h-1.0zM604.76 79.22h1.0v1.0h-1.0zM604.47 77.56h1.0v1.0h-1.0zM604.27 79.58h1.0v1.0h-1.0zM604.53 79.57h1.0v1.0h-1.0zM604.12 79.19h1.0v1.0h-1.0zM605.16 81.06h1.0v1.0h-1.0zM603.64 81.48h1.0v1.0h-1.0zM604.24 78.28h1.0v1.0h-1.0zM604.64 79.59h1.0v1.0h-1.0zM604.25 83.65h1.0v1.0h-1.0zM605.2 77.89h1.0v1.0h-1.0zM604.39 78.03h1.0v1.0h-1.0zM604.27 77.26h1.0v1.0h-1.0zM603.76 76.39h1.0v1.0h-1.0zM604.99 79.3h1.0v1.0h-1.0zM603.85 78.3h1.0v1.0h-1.0zM604.65 77.2h1.0v1.0h-1.0zM604.66 78.16h1.0v1.0h-1.0zM604.43 77.43h1.0v1.0h-1.0zM603.72 79.49h1.0v1.0h-1.0zM605.17 81.05h1.0v1.0h-1.0zM604.58 78.76h1.0v1.0h-1.0zM604.13 81.19h1.0v1.0h-1.0zM603.65 78.18h1.0v1.0h-1.0zM603.76 77.72h1.0v1.0h-1.0zM605 79.83h1.0v1.0h-1.0zM603.19 79.65h1.0v1.0h-1.0zM603.93 78.55h1.0v1.0h-1.0zM603.78 82.91h1.0v1.0h-1.0zM604.91 80.22h1.0v1.0h-1.0zM604.6 79.88h1.0v1.0h-1.0zM604.6 77.34h1.0v1.0h-1.0zM603.95 78.74h1.0v1.0h-1.0zM604.41 76.32h1.0v1.0h-1.0zM603.22 80.4h1.0v1.0h-1.0zM603.28 80.68h1.0v1.0h-1.0zM605.38 80.59h1.0v1.0h-1.0zM604 75.78h1.0v1.0h-1.0zM604.2 79.43h1.0v1.0h-1.0zM604.38 81.53h1.0v1.0h-1.0zM604.94 83.51h1.0v1.0h-1.0zM604.36 79.31h1.0v1.0h-1.0zM604.5 77.95h1.0v1.0h-1.0zM603.97 77.04h1.0v1.0h-1.0zM604.03 79.96h1.0v1.0h-1.0zM604.38 76.97h1.0v1.0h-1.0zM603.57 78.71h1.0v1.0h-1.0zM604.58 79.99h1.0v1.0h-1.0zM603.83 83.5h1.0v1.0h-1.0zM604.45 81.04h1.0v1.0h-1.0zM604.71 79.71h1.0v1.0h-1.0zM604.38 80.22h1.0v1.0h-1.0zM604.41 80.68h1.0v1.0h-1.0zM603.63 81.21h1.0v1.0h-1.0zM604.7 77.69h1.0v1.0h-1.0zM605.06 81.44h1.0v1.0h-1.0zM604.39 81.39h1.0v1.0h-1.0zM604.45 80.68h1.0v1.0h-1.0z" fill="#00008b" fill-opacity="0.55"/>
<polyline points="477.27,140.81 549.09,113.74 604.62,79.35" fill="none" stroke="#30309a" stroke-width="1.0"/>
<polyline points="477.27,105.57 549.09,104.28 604.62,78.92" fill="none" stroke="#ff3838" stroke-width="1.0"/>
<circle cx="477.27" cy="140.81" r="1.25" fill="#141488"/>
<circle cx="549.09" cy="113.74" r="1.25" fill="#141488"/>
<circle cx="604.62" cy="79.35" r="1.25" fill="#141488"/>
<circle cx="477.27" cy="105.57" r="1.25" fill="#ff1010"/>
<circle cx="549.09" cy="104.28" r="1.25" fill="#ff1010"/>
<circle cx="604.62" cy="78.92" r="1.25" fill="#ff1010"/>
<rect x="46.8" y="26.8" width="134.9" height="34.2" fill="#fff" fill-opacity="0.85" stroke="#ececec" stroke-width="0.8" rx="1.5"/>
<rect x="61.2" y="35.1" width="1.4" height="1.4" fill="#ff3030"/>
<rect x="61.2" y="51.6" width="1.4" height="1.4" fill="#2a2a9a"/>
<text x="82.2" y="38.6" font-size="11.76" textLength="85.53" lengthAdjust="spacingAndGlyphs">observed ensemble</text>
<text x="82.2" y="55.1" font-size="11.76" textLength="94.24" lengthAdjust="spacingAndGlyphs">Newtonian ensemble</text>
<text x="229.6" y="44.9" font-size="19.5" font-style="italic">d</text>
<text x="238.6" y="47.8" font-size="14" font-style="italic">M</text>
<path d="M265.8 34.7L255.6 39.75L265.8 44.8" fill="none" stroke="#111" stroke-width="1.25"/>
<text x="270" y="44.9" font-size="19.5">80</text>
<text x="294" y="44.9" font-size="19.5">pc</text>
<text x="559.5" y="47" font-size="19.5" font-style="italic">d</text>
<text x="568.5" y="49.9" font-size="14" font-style="italic">M</text>
<path d="M595.8 36.8L585.6 41.85L595.8 46.9" fill="none" stroke="#111" stroke-width="1.25"/>
<text x="600" y="47" font-size="19.5">200</text>
<text x="634.1" y="47" font-size="19.5">pc</text>
<text x="260.2" y="62.6" font-size="11.6" font-style="italic">f</text>
<text x="264.3" y="64.1" font-size="8.29" textLength="16.0" lengthAdjust="spacingAndGlyphs">multi</text>
<path d="M283.2 58.3H290.2M283.2 61.3H290.2" stroke="#111" stroke-width="0.75"/>
<text x="291.7" y="62.7" font-size="12" textLength="20.4" lengthAdjust="spacingAndGlyphs">0.40</text>
<text x="631.5" y="66.5" font-size="11.6" textLength="20.0" lengthAdjust="spacingAndGlyphs">0.64</text>
<rect x="49.5" y="166.6" width="79.5" height="60.3" fill="#fff"/>
<path d="M49.5 166.6H129M49.5 226.9H129" stroke="#a2a2a2" stroke-width="1.3" fill="none"/>
<path d="M49.5 165.95V227.55M129 165.95V227.55" stroke="#6c6c6c" stroke-width="0.9" fill="none"/>
<path d="M70.4 226.9V225.7H73.4V226.9zM73.4 226.9V223.5H76V226.9zM76 226.9V219.6H81.2V226.9zM81.2 226.9V201.5H83.6V226.9zM83.6 226.9V205.4H86.6V226.9zM86.6 226.9V199.6H89V226.9zM89 226.9V195.5H91.5V226.9zM91.5 226.9V199.6H93.9V226.9zM93.9 226.9V200.4H96.8V226.9zM96.8 226.9V221.5H102.1V226.9zM102.1 226.9V225.6H104.6V226.9z" fill="#00008b" fill-opacity="0.7"/>
<path d="M86.6 226.9V225.6H91.9V226.9zM91.9 226.9V220.4H94.3V226.9zM94.3 226.9V223.3H96.8V226.9zM96.8 226.9V201.5H99.5V226.9zM99.5 226.9V205.4H102.1V226.9zM102.1 226.9V192.7H104.6V226.9zM104.6 226.9V191.8H107.3V226.9zM107.3 226.9V197.6H110V226.9zM110 226.9V208.7H112.6V226.9zM112.6 226.9V216.5H115.1V226.9zM115.1 226.9V223.5H117.8V226.9zM117.8 226.9V226.1H123.2V226.9z" fill="#ff0000" fill-opacity="0.75"/>
<text x="49.5" y="233.4" font-size="6.3" text-anchor="middle" fill="#222" textLength="10.88" lengthAdjust="spacingAndGlyphs">−0.4</text>
<text x="76" y="233.4" font-size="6.3" text-anchor="middle" fill="#222" textLength="10.88" lengthAdjust="spacingAndGlyphs">−0.3</text>
<text x="102.5" y="233.4" font-size="6.3" text-anchor="middle" fill="#222" textLength="10.88" lengthAdjust="spacingAndGlyphs">−0.2</text>
<text x="129" y="233.4" font-size="6.3" text-anchor="middle" fill="#222" textLength="10.88" lengthAdjust="spacingAndGlyphs">−0.1</text>
<text x="126" y="175.7" font-size="6.93" class="s" text-anchor="end" textLength="38.6" lengthAdjust="spacingAndGlyphs">−0.190 ± 0.023</text>
<text x="53.9" y="184.8" font-size="6.93" class="s" textLength="38.6" lengthAdjust="spacingAndGlyphs">−0.248 ± 0.024</text>
<rect x="142.4" y="166.6" width="79.5" height="60.3" fill="#fff"/>
<path d="M142.4 166.6H221.9M142.4 226.9H221.9" stroke="#a2a2a2" stroke-width="1.3" fill="none"/>
<path d="M142.4 165.95V227.55M221.9 165.95V227.55" stroke="#6c6c6c" stroke-width="0.9" fill="none"/>
<path d="M173.9 226.9V224.5H177V226.9zM177 226.9V218.4H180V226.9zM180 226.9V210.6H183V226.9zM183 226.9V197.7H185.9V226.9zM185.9 226.9V197.7H188.7V226.9zM188.7 226.9V209.2H191.7V226.9zM191.7 226.9V215.2H194.8V226.9zM194.8 226.9V221.3H197.6V226.9zM197.6 226.9V222.6H200.6V226.9z" fill="#00008b" fill-opacity="0.7"/>
<path d="M180 226.9V226.1H183V226.9zM183 226.9V223.4H185.9V226.9zM185.9 226.9V219.1H188.7V226.9zM188.7 226.9V204.6H191.7V226.9zM191.7 226.9V194.2H194.8V226.9zM194.8 226.9V198.5H197.6V226.9zM197.6 226.9V203.6H200.6V226.9zM200.6 226.9V220.4H203.6V226.9zM203.6 226.9V225.9H206.6V226.9z" fill="#ff0000" fill-opacity="0.75"/>
<text x="142.4" y="233.4" font-size="6.3" text-anchor="middle" fill="#222" textLength="13.88" lengthAdjust="spacingAndGlyphs">−0.30</text>
<text x="162.28" y="233.4" font-size="6.3" text-anchor="middle" fill="#222" textLength="13.88" lengthAdjust="spacingAndGlyphs">−0.25</text>
<text x="182.15" y="233.4" font-size="6.3" text-anchor="middle" fill="#222" textLength="13.88" lengthAdjust="spacingAndGlyphs">−0.20</text>
<text x="202.03" y="233.4" font-size="6.3" text-anchor="middle" fill="#222" textLength="13.88" lengthAdjust="spacingAndGlyphs">−0.15</text>
<text x="221.9" y="233.4" font-size="6.3" text-anchor="middle" fill="#222" textLength="13.88" lengthAdjust="spacingAndGlyphs">−0.10</text>
<text x="218.9" y="175.7" font-size="6.93" class="s" text-anchor="end" textLength="38.6" lengthAdjust="spacingAndGlyphs">−0.168 ± 0.012</text>
<text x="146.8" y="184.8" font-size="6.93" class="s" textLength="38.6" lengthAdjust="spacingAndGlyphs">−0.189 ± 0.014</text>
<rect x="235" y="166.6" width="79.5" height="60.3" fill="#fff"/>
<path d="M235 166.6H314.5M235 226.9H314.5" stroke="#a2a2a2" stroke-width="1.3" fill="none"/>
<path d="M235 165.95V227.55M314.5 165.95V227.55" stroke="#6c6c6c" stroke-width="0.9" fill="none"/>
<path d="M261.9 226.9V225.9H264.9V226.9zM270.9 226.9V225.5H274.1V226.9zM274.1 226.9V215.1H276.9V226.9zM276.9 226.9V203.7H280V226.9zM280 226.9V197.8H283.2V226.9zM283.2 226.9V197.8H285.9V226.9zM285.9 226.9V212.8H288.8V226.9zM288.8 226.9V222.8H291.8V226.9zM291.8 226.9V225.8H295V226.9z" fill="#00008b" fill-opacity="0.7"/>
<path d="M270.9 226.9V225.5H274.1V226.9zM274.1 226.9V219.6H276.9V226.9zM276.9 226.9V205.5H280V226.9zM280 226.9V195.8H283.2V226.9zM283.2 226.9V195.8H285.9V226.9zM285.9 226.9V208.7H288.8V226.9zM288.8 226.9V224.2H291.8V226.9z" fill="#ff0000" fill-opacity="0.75"/>
<text x="235" y="233.4" font-size="6.3" text-anchor="middle" fill="#222" textLength="13.88" lengthAdjust="spacingAndGlyphs">−0.25</text>
<text x="254.88" y="233.4" font-size="6.3" text-anchor="middle" fill="#222" textLength="13.88" lengthAdjust="spacingAndGlyphs">−0.20</text>
<text x="274.75" y="233.4" font-size="6.3" text-anchor="middle" fill="#222" textLength="13.88" lengthAdjust="spacingAndGlyphs">−0.15</text>
<text x="294.62" y="233.4" font-size="6.3" text-anchor="middle" fill="#222" textLength="13.88" lengthAdjust="spacingAndGlyphs">−0.10</text>
<text x="314.5" y="233.4" font-size="6.3" text-anchor="middle" fill="#222" textLength="13.88" lengthAdjust="spacingAndGlyphs">−0.05</text>
<text x="311.5" y="175.7" font-size="6.93" class="s" text-anchor="end" textLength="38.6" lengthAdjust="spacingAndGlyphs">−0.131 ± 0.010</text>
<text x="239.4" y="184.8" font-size="6.93" class="s" textLength="38.6" lengthAdjust="spacingAndGlyphs">−0.131 ± 0.011</text>
<rect x="389.5" y="166.6" width="79.5" height="60.3" fill="#fff"/>
<path d="M389.5 166.6H469M389.5 226.9H469" stroke="#a2a2a2" stroke-width="1.3" fill="none"/>
<path d="M389.5 165.95V227.55M469 165.95V227.55" stroke="#6c6c6c" stroke-width="0.9" fill="none"/>
<path d="M407 226.9V224.9H407.9V226.9zM407.9 226.9V226.2H410V226.9zM410 226.9V218.7H411.1V226.9zM411.1 226.9V212.8H412.9V226.9zM412.9 226.9V199.8H414.3V226.9zM414.3 226.9V202.2H416.1V226.9zM416.1 226.9V195.8H417.5V226.9zM417.5 226.9V203.7H419.1V226.9zM419.1 226.9V198.7H420.9V226.9zM420.9 226.9V214.2H422.2V226.9zM422.2 226.9V217.8H423.8V226.9zM423.8 226.9V222.2H425.5V226.9zM425.5 226.9V225.5H426.7V226.9z" fill="#00008b" fill-opacity="0.7"/>
<path d="M438.4 226.9V226.3H441.25V226.9zM441.25 226.9V224.6H443V226.9zM443 226.9V220.7H444.7V226.9zM444.7 226.9V209.3H446.4V226.9zM446.4 226.9V201.3H448.1V226.9zM448.1 226.9V191.7H449.4V226.9zM449.4 226.9V184.5H450.9V226.9zM450.9 226.9V198.5H452.6V226.9zM452.6 226.9V207.6H454.1V226.9zM454.1 226.9V217.8H456V226.9zM456 226.9V224.6H457.7V226.9zM457.7 226.9V226.3H461.1V226.9z" fill="#ff0000" fill-opacity="0.75"/>
<text x="389.5" y="233.4" font-size="6.3" text-anchor="middle" fill="#222" textLength="13.88" lengthAdjust="spacingAndGlyphs">−0.30</text>
<text x="409.38" y="233.4" font-size="6.3" text-anchor="middle" fill="#222" textLength="13.88" lengthAdjust="spacingAndGlyphs">−0.25</text>
<text x="429.25" y="233.4" font-size="6.3" text-anchor="middle" fill="#222" textLength="13.88" lengthAdjust="spacingAndGlyphs">−0.20</text>
<text x="449.12" y="233.4" font-size="6.3" text-anchor="middle" fill="#222" textLength="13.88" lengthAdjust="spacingAndGlyphs">−0.15</text>
<text x="469" y="233.4" font-size="6.3" text-anchor="middle" fill="#222" textLength="13.88" lengthAdjust="spacingAndGlyphs">−0.10</text>
<text x="466" y="175.7" font-size="6.93" class="s" text-anchor="end" textLength="38.6" lengthAdjust="spacingAndGlyphs">−0.147 ± 0.008</text>
<text x="393.9" y="184.8" font-size="6.93" class="s" textLength="38.6" lengthAdjust="spacingAndGlyphs">−0.229 ± 0.010</text>
<rect x="482.4" y="166.6" width="79.5" height="60.3" fill="#fff"/>
<path d="M482.4 166.6H561.9M482.4 226.9H561.9" stroke="#a2a2a2" stroke-width="1.3" fill="none"/>
<path d="M482.4 165.95V227.55M561.9 165.95V227.55" stroke="#6c6c6c" stroke-width="0.9" fill="none"/>
<path d="M500.2 226.9V226.5H504V226.9zM504 226.9V225H506.2V226.9zM506.2 226.9V215.7H510.1V226.9zM510.1 226.9V208H512V226.9zM512 226.9V197.8H514V226.9zM514 226.9V206.9H515.7V226.9zM515.7 226.9V208H517.8V226.9zM517.8 226.9V195.9H519.6V226.9zM519.6 226.9V208H521.5V226.9zM521.5 226.9V211.8H523.7V226.9zM523.7 226.9V224.3H527.3V226.9zM527.3 226.9V225.7H529V226.9z" fill="#00008b" fill-opacity="0.7"/>
<path d="M526.8 226.9V226.1H529.8V226.9zM529.8 226.9V215.5H533.4V226.9zM533.4 226.9V203.4H535.9V226.9zM535.9 226.9V179.9H537.4V226.9zM537.4 226.9V190.2H539.5V226.9zM539.5 226.9V199.8H541.3V226.9zM541.3 226.9V213H543.1V226.9zM543.1 226.9V218.5H544.9V226.9zM544.9 226.9V222.7H546.7V226.9zM546.7 226.9V226.1H550.9V226.9z" fill="#ff0000" fill-opacity="0.75"/>
<text x="482.4" y="233.4" font-size="6.3" text-anchor="middle" fill="#222" textLength="13.88" lengthAdjust="spacingAndGlyphs">−0.20</text>
<text x="502.27" y="233.4" font-size="6.3" text-anchor="middle" fill="#222" textLength="13.88" lengthAdjust="spacingAndGlyphs">−0.18</text>
<text x="522.15" y="233.4" font-size="6.3" text-anchor="middle" fill="#222" textLength="13.88" lengthAdjust="spacingAndGlyphs">−0.16</text>
<text x="542.02" y="233.4" font-size="6.3" text-anchor="middle" fill="#222" textLength="13.88" lengthAdjust="spacingAndGlyphs">−0.14</text>
<text x="561.9" y="233.4" font-size="6.3" text-anchor="middle" fill="#222" textLength="13.88" lengthAdjust="spacingAndGlyphs">−0.12</text>
<text x="558.9" y="175.7" font-size="6.93" class="s" text-anchor="end" textLength="38.6" lengthAdjust="spacingAndGlyphs">−0.144 ± 0.004</text>
<text x="486.8" y="184.8" font-size="6.93" class="s" textLength="38.6" lengthAdjust="spacingAndGlyphs">−0.166 ± 0.006</text>
<rect x="575" y="166.6" width="79.5" height="60.3" fill="#fff"/>
<path d="M575 166.6H654.5M575 226.9H654.5" stroke="#a2a2a2" stroke-width="1.3" fill="none"/>
<path d="M575 165.95V227.55M654.5 165.95V227.55" stroke="#6c6c6c" stroke-width="0.9" fill="none"/>
<path d="M606.9 226.9V226.4H608.9V226.9zM608.9 226.9V219.1H610.3V226.9zM610.3 226.9V218.1H612.6V226.9zM612.6 226.9V208.8H614.7V226.9zM614.7 226.9V205.4H616.7V226.9zM616.7 226.9V192.2H618.5V226.9zM618.5 226.9V198.9H620.4V226.9zM620.4 226.9V202.4H622.6V226.9zM622.6 226.9V211.7H624.3V226.9zM624.3 226.9V214.7H626.3V226.9zM626.3 226.9V222H628.6V226.9zM628.6 226.9V224H630.2V226.9z" fill="#00008b" fill-opacity="0.7"/>
<path d="M610.3 226.9V221.5H612.6V226.9zM612.6 226.9V208.3H614.7V226.9zM614.7 226.9V204.9H616.7V226.9zM616.7 226.9V202.4H618.5V226.9zM618.5 226.9V194.6H620.4V226.9zM620.4 226.9V198H622.6V226.9zM622.6 226.9V211.7H624.3V226.9zM624.3 226.9V213.7H626.3V226.9zM626.3 226.9V221.5H628.6V226.9zM628.6 226.9V225.4H630.2V226.9z" fill="#ff0000" fill-opacity="0.75"/>
<text x="575" y="233.4" font-size="6.3" text-anchor="middle" fill="#222" textLength="13.88" lengthAdjust="spacingAndGlyphs">−0.13</text>
<text x="594.88" y="233.4" font-size="6.3" text-anchor="middle" fill="#222" textLength="13.66" lengthAdjust="spacingAndGlyphs">−0.11</text>
<text x="614.75" y="233.4" font-size="6.3" text-anchor="middle" fill="#222" textLength="13.88" lengthAdjust="spacingAndGlyphs">−0.09</text>
<text x="634.62" y="233.4" font-size="6.3" text-anchor="middle" fill="#222" textLength="13.88" lengthAdjust="spacingAndGlyphs">−0.07</text>
<text x="654.5" y="233.4" font-size="6.3" text-anchor="middle" fill="#222" textLength="13.88" lengthAdjust="spacingAndGlyphs">−0.05</text>
<text x="651.5" y="175.7" font-size="6.93" class="s" text-anchor="end" textLength="38.6" lengthAdjust="spacingAndGlyphs">−0.085 ± 0.004</text>
<text x="579.4" y="184.8" font-size="6.93" class="s" textLength="38.6" lengthAdjust="spacingAndGlyphs">−0.086 ± 0.004</text>
<path d="M138.57 329.68h1.0v1.0h-1.0zM138.87 308.31h1.0v1.0h-1.0zM138.79 331.46h1.0v1.0h-1.0zM138.65 331.39h1.0v1.0h-1.0zM138.59 303.87h1.0v1.0h-1.0zM138.11 356.35h1.0v1.0h-1.0zM137.55 323.13h1.0v1.0h-1.0zM138.09 343.29h1.0v1.0h-1.0zM138.65 319.34h1.0v1.0h-1.0zM137.56 299.51h1.0v1.0h-1.0zM138.37 309.45h1.0v1.0h-1.0zM138.33 341.17h1.0v1.0h-1.0zM138.32 306.61h1.0v1.0h-1.0zM137.92 358.16h1.0v1.0h-1.0zM136.67 321.95h1.0v1.0h-1.0zM138.42 337.71h1.0v1.0h-1.0zM138.76 344.76h1.0v1.0h-1.0zM138.67 358.33h1.0v1.0h-1.0zM137.91 306.09h1.0v1.0h-1.0zM137.83 335.12h1.0v1.0h-1.0zM138.79 329.09h1.0v1.0h-1.0zM137.47 296.68h1.0v1.0h-1.0zM137.96 352.73h1.0v1.0h-1.0zM138.87 328.86h1.0v1.0h-1.0zM138.22 343.48h1.0v1.0h-1.0zM138.27 327.89h1.0v1.0h-1.0zM138.07 330.8h1.0v1.0h-1.0zM138.12 306.91h1.0v1.0h-1.0zM139.46 329.42h1.0v1.0h-1.0zM138.14 338.62h1.0v1.0h-1.0zM138.3 330.88h1.0v1.0h-1.0zM138.13 331.59h1.0v1.0h-1.0zM137.67 327.91h1.0v1.0h-1.0zM138.85 296.99h1.0v1.0h-1.0zM137.5 317.34h1.0v1.0h-1.0zM139.73 326.51h1.0v1.0h-1.0zM138.51 296.02h1.0v1.0h-1.0zM138.32 339.39h1.0v1.0h-1.0zM138.37 310.97h1.0v1.0h-1.0zM138.29 305.58h1.0v1.0h-1.0zM137.53 326.55h1.0v1.0h-1.0zM138.13 346.63h1.0v1.0h-1.0zM137.87 357.56h1.0v1.0h-1.0zM139.05 341.82h1.0v1.0h-1.0zM138.79 326.04h1.0v1.0h-1.0zM138.12 346.9h1.0v1.0h-1.0zM138.89 338.71h1.0v1.0h-1.0zM138.69 322.97h1.0v1.0h-1.0zM138.73 327.27h1.0v1.0h-1.0zM139 339.45h1.0v1.0h-1.0zM138.35 336.11h1.0v1.0h-1.0zM138.17 341.22h1.0v1.0h-1.0zM137.49 318.54h1.0v1.0h-1.0zM138.31 303.68h1.0v1.0h-1.0zM138.34 347.17h1.0v1.0h-1.0zM138.1 324.59h1.0v1.0h-1.0zM137.97 345.73h1.0v1.0h-1.0zM139.11 314.09h1.0v1.0h-1.0zM138.15 351.97h1.0v1.0h-1.0zM138.42 337.26h1.0v1.0h-1.0zM138.39 344.49h1.0v1.0h-1.0zM138.75 342.4h1.0v1.0h-1.0zM137.47 347.02h1.0v1.0h-1.0zM138.83 333.96h1.0v1.0h-1.0zM138.73 312.68h1.0v1.0h-1.0zM136.97 364.04h1.0v1.0h-1.0zM138.26 354.66h1.0v1.0h-1.0zM137.81 333.47h1.0v1.0h-1.0zM138.89 334.24h1.0v1.0h-1.0zM137.83 342.98h1.0v1.0h-1.0zM137.96 344.21h1.0v1.0h-1.0zM138.87 321.57h1.0v1.0h-1.0zM138.85 305.71h1.0v1.0h-1.0zM138.83 301.6h1.0v1.0h-1.0zM138.38 332.08h1.0v1.0h-1.0zM138.77 349h1.0v1.0h-1.0zM137.82 354.34h1.0v1.0h-1.0zM137.8 323.09h1.0v1.0h-1.0zM137.71 312.94h1.0v1.0h-1.0zM137.65 324.19h1.0v1.0h-1.0zM138.85 320.43h1.0v1.0h-1.0zM137.21 323.63h1.0v1.0h-1.0zM137.87 350.53h1.0v1.0h-1.0zM138.43 321.87h1.0v1.0h-1.0zM138.46 315.05h1.0v1.0h-1.0zM138.19 366.2h1.0v1.0h-1.0zM137.87 317.44h1.0v1.0h-1.0zM138.58 335.14h1.0v1.0h-1.0zM138.49 316.17h1.0v1.0h-1.0zM138.94 344.09h1.0v1.0h-1.0zM138.68 332.99h1.0v1.0h-1.0zM137.48 338.23h1.0v1.0h-1.0zM137.75 335.87h1.0v1.0h-1.0zM138.38 301.16h1.0v1.0h-1.0zM137.83 349.47h1.0v1.0h-1.0zM138.43 370.95h1.0v1.0h-1.0zM139.45 325.38h1.0v1.0h-1.0zM138.16 336.13h1.0v1.0h-1.0zM138.39 344.99h1.0v1.0h-1.0zM138.45 334.38h1.0v1.0h-1.0zM138.74 330.82h1.0v1.0h-1.0zM138.81 320.99h1.0v1.0h-1.0zM138.67 357.67h1.0v1.0h-1.0zM137.78 363.36h1.0v1.0h-1.0zM138.24 328.82h1.0v1.0h-1.0zM137.07 333.86h1.0v1.0h-1.0zM138 310.44h1.0v1.0h-1.0zM137.84 321.37h1.0v1.0h-1.0zM139.1 363.95h1.0v1.0h-1.0zM138.22 327.58h1.0v1.0h-1.0zM138.76 332.87h1.0v1.0h-1.0zM138.51 320.7h1.0v1.0h-1.0zM137.97 360.58h1.0v1.0h-1.0zM138.11 308.6h1.0v1.0h-1.0zM138.65 357.07h1.0v1.0h-1.0zM138.05 315.02h1.0v1.0h-1.0zM137.96 360.32h1.0v1.0h-1.0zM138.84 329.33h1.0v1.0h-1.0zM138.87 318.88h1.0v1.0h-1.0zM139.09 310.93h1.0v1.0h-1.0zM138.38 337.61h1.0v1.0h-1.0zM137.82 298.14h1.0v1.0h-1.0zM138.2 344.64h1.0v1.0h-1.0zM138.82 324.87h1.0v1.0h-1.0zM138.52 332.75h1.0v1.0h-1.0zM137.6 343.84h1.0v1.0h-1.0z" fill="#ff0000" fill-opacity="0.6"/>
<path d="M210.25 348.72h1.0v1.0h-1.0zM209.68 340.22h1.0v1.0h-1.0zM209.03 351.25h1.0v1.0h-1.0zM210.3 368.52h1.0v1.0h-1.0zM209.33 357.75h1.0v1.0h-1.0zM210.02 341.31h1.0v1.0h-1.0zM209.74 347.99h1.0v1.0h-1.0zM210.2 341.21h1.0v1.0h-1.0zM210.49 350.35h1.0v1.0h-1.0zM209.53 360.58h1.0v1.0h-1.0zM209.91 368.34h1.0v1.0h-1.0zM209.79 350.29h1.0v1.0h-1.0zM208.82 357.68h1.0v1.0h-1.0zM210.05 345.94h1.0v1.0h-1.0zM208.71 335.83h1.0v1.0h-1.0zM209.03 345.59h1.0v1.0h-1.0zM209.47 354.11h1.0v1.0h-1.0zM209.53 342.17h1.0v1.0h-1.0zM210.09 343.5h1.0v1.0h-1.0zM209.18 353.17h1.0v1.0h-1.0zM209.8 354.02h1.0v1.0h-1.0zM210.27 361.01h1.0v1.0h-1.0zM209.98 354.52h1.0v1.0h-1.0zM209.82 353.84h1.0v1.0h-1.0zM209.29 353.49h1.0v1.0h-1.0zM209.31 342.27h1.0v1.0h-1.0zM211.14 361.91h1.0v1.0h-1.0zM209.95 357.6h1.0v1.0h-1.0zM210.25 363.84h1.0v1.0h-1.0zM211.32 353.14h1.0v1.0h-1.0zM210.29 355.58h1.0v1.0h-1.0zM209.79 356.31h1.0v1.0h-1.0zM210.03 349.46h1.0v1.0h-1.0zM209.27 360.92h1.0v1.0h-1.0zM209.99 354.5h1.0v1.0h-1.0zM209.19 356.21h1.0v1.0h-1.0zM209.62 350.62h1.0v1.0h-1.0zM209.58 359.44h1.0v1.0h-1.0zM209.81 357.15h1.0v1.0h-1.0zM210.2 368.28h1.0v1.0h-1.0zM209.23 355.8h1.0v1.0h-1.0zM208.71 349.13h1.0v1.0h-1.0zM210.45 362.37h1.0v1.0h-1.0zM210.07 351.08h1.0v1.0h-1.0zM209.54 368.94h1.0v1.0h-1.0zM210.31 344.17h1.0v1.0h-1.0zM209.82 352.02h1.0v1.0h-1.0zM208.99 362.09h1.0v1.0h-1.0zM209.71 346.74h1.0v1.0h-1.0zM209.83 353.69h1.0v1.0h-1.0zM209.76 337.5h1.0v1.0h-1.0zM209.54 367.07h1.0v1.0h-1.0zM209.45 350.94h1.0v1.0h-1.0zM209.58 348.37h1.0v1.0h-1.0zM210.49 349.87h1.0v1.0h-1.0zM210.27 349.09h1.0v1.0h-1.0zM209.22 353.93h1.0v1.0h-1.0zM210.23 345.03h1.0v1.0h-1.0zM209.88 344.72h1.0v1.0h-1.0zM210.27 347.99h1.0v1.0h-1.0zM210.78 370.35h1.0v1.0h-1.0zM209.45 365.82h1.0v1.0h-1.0zM209.9 341.36h1.0v1.0h-1.0zM210.23 357.61h1.0v1.0h-1.0zM209.7 361.69h1.0v1.0h-1.0zM210.5 361.7h1.0v1.0h-1.0zM210.35 346.38h1.0v1.0h-1.0zM209.57 357.81h1.0v1.0h-1.0zM209.72 361.91h1.0v1.0h-1.0zM210.62 360.61h1.0v1.0h-1.0zM210.1 346.94h1.0v1.0h-1.0zM209.4 358.18h1.0v1.0h-1.0zM209.18 355.6h1.0v1.0h-1.0zM210.01 360.98h1.0v1.0h-1.0zM208.92 351h1.0v1.0h-1.0zM209.57 355.05h1.0v1.0h-1.0zM210.34 365.16h1.0v1.0h-1.0zM210.38 351.13h1.0v1.0h-1.0zM209.49 341.39h1.0v1.0h-1.0zM208.85 361.88h1.0v1.0h-1.0zM210.13 346.81h1.0v1.0h-1.0zM210.37 354.68h1.0v1.0h-1.0zM210.6 370.53h1.0v1.0h-1.0zM209.74 341.81h1.0v1.0h-1.0zM209.78 355.33h1.0v1.0h-1.0zM210.06 361.38h1.0v1.0h-1.0zM209.98 357.48h1.0v1.0h-1.0zM210.22 361.78h1.0v1.0h-1.0zM209.85 353.29h1.0v1.0h-1.0zM210.3 354.07h1.0v1.0h-1.0zM210.3 350.34h1.0v1.0h-1.0zM209.72 353.78h1.0v1.0h-1.0zM211 351.72h1.0v1.0h-1.0zM209.95 347.06h1.0v1.0h-1.0zM209.25 353.61h1.0v1.0h-1.0zM209.75 355.5h1.0v1.0h-1.0zM210.37 350.98h1.0v1.0h-1.0zM209.66 350.26h1.0v1.0h-1.0zM209.13 340.49h1.0v1.0h-1.0zM209.86 344.13h1.0v1.0h-1.0zM210.39 346.41h1.0v1.0h-1.0zM210.6 372.7h1.0v1.0h-1.0zM209.75 342h1.0v1.0h-1.0zM210.52 351.48h1.0v1.0h-1.0zM209.94 342.17h1.0v1.0h-1.0zM210.83 361.29h1.0v1.0h-1.0zM210.16 354.62h1.0v1.0h-1.0zM210.2 358.44h1.0v1.0h-1.0zM209.5 353.4h1.0v1.0h-1.0zM208.99 353.97h1.0v1.0h-1.0zM208.54 340.87h1.0v1.0h-1.0zM209.71 364.24h1.0v1.0h-1.0zM210.04 350.6h1.0v1.0h-1.0zM210.43 361.94h1.0v1.0h-1.0zM210.77 363.68h1.0v1.0h-1.0zM209.73 352.36h1.0v1.0h-1.0zM210.28 370.33h1.0v1.0h-1.0zM209.89 339.53h1.0v1.0h-1.0zM209.7 363.34h1.0v1.0h-1.0zM209.88 362.83h1.0v1.0h-1.0zM208.46 367.37h1.0v1.0h-1.0zM209.96 349.85h1.0v1.0h-1.0zM209.66 354.23h1.0v1.0h-1.0zM209.23 353.65h1.0v1.0h-1.0zM209.28 343.86h1.0v1.0h-1.0zM211.25 363.38h1.0v1.0h-1.0zM209.66 352.33h1.0v1.0h-1.0zM209.36 356.68h1.0v1.0h-1.0z" fill="#ff0000" fill-opacity="0.6"/>
<path d="M266.51 373.23h1.0v1.0h-1.0zM266.69 352.18h1.0v1.0h-1.0zM265.57 351.95h1.0v1.0h-1.0zM266.12 363.52h1.0v1.0h-1.0zM265.7 372h1.0v1.0h-1.0zM266.75 370.84h1.0v1.0h-1.0zM265.68 360.11h1.0v1.0h-1.0zM266.82 361.39h1.0v1.0h-1.0zM265.47 360.06h1.0v1.0h-1.0zM267.47 358.19h1.0v1.0h-1.0zM266.47 364.72h1.0v1.0h-1.0zM266.7 358.93h1.0v1.0h-1.0zM266.26 366.56h1.0v1.0h-1.0zM267.6 381.79h1.0v1.0h-1.0zM266.35 360.61h1.0v1.0h-1.0zM266 356.71h1.0v1.0h-1.0zM266.28 359.16h1.0v1.0h-1.0zM266.18 357.15h1.0v1.0h-1.0zM266.38 363.34h1.0v1.0h-1.0zM266.94 364.05h1.0v1.0h-1.0zM267.33 352.55h1.0v1.0h-1.0zM266.94 371.02h1.0v1.0h-1.0zM266.22 352.51h1.0v1.0h-1.0zM266.67 359.25h1.0v1.0h-1.0zM266.56 359.54h1.0v1.0h-1.0zM266.04 353.91h1.0v1.0h-1.0zM266.36 364.43h1.0v1.0h-1.0zM266.18 365.59h1.0v1.0h-1.0zM267.12 358.63h1.0v1.0h-1.0zM266.39 362.65h1.0v1.0h-1.0zM266.08 374.54h1.0v1.0h-1.0zM266.32 362.26h1.0v1.0h-1.0zM266.47 371.33h1.0v1.0h-1.0zM266.52 351.81h1.0v1.0h-1.0zM266.3 364.4h1.0v1.0h-1.0zM266.18 366.35h1.0v1.0h-1.0zM266.97 361.72h1.0v1.0h-1.0zM266.09 369.65h1.0v1.0h-1.0zM266.24 370.91h1.0v1.0h-1.0zM266.9 369.43h1.0v1.0h-1.0zM266.25 359.6h1.0v1.0h-1.0zM265.95 368.16h1.0v1.0h-1.0zM265.98 360.38h1.0v1.0h-1.0zM266.44 343.86h1.0v1.0h-1.0zM266.27 354.53h1.0v1.0h-1.0zM267.19 366.14h1.0v1.0h-1.0zM266.62 369.27h1.0v1.0h-1.0zM266.29 362.14h1.0v1.0h-1.0zM265.62 366.85h1.0v1.0h-1.0zM267.26 364.39h1.0v1.0h-1.0zM266.61 345.66h1.0v1.0h-1.0zM266.23 366.27h1.0v1.0h-1.0zM266.82 347.11h1.0v1.0h-1.0zM266.22 373.44h1.0v1.0h-1.0zM266.37 357.87h1.0v1.0h-1.0zM266.87 361.83h1.0v1.0h-1.0zM266.22 358.82h1.0v1.0h-1.0zM267.07 359.74h1.0v1.0h-1.0zM266.34 366.1h1.0v1.0h-1.0zM266.03 364.82h1.0v1.0h-1.0zM266.39 350.41h1.0v1.0h-1.0zM265.78 356.66h1.0v1.0h-1.0zM267.17 368.47h1.0v1.0h-1.0zM266.86 371.03h1.0v1.0h-1.0zM266.17 378.48h1.0v1.0h-1.0zM265.99 352.71h1.0v1.0h-1.0zM265.67 364.49h1.0v1.0h-1.0zM266.28 358.39h1.0v1.0h-1.0zM266.72 355.71h1.0v1.0h-1.0zM266.06 357.33h1.0v1.0h-1.0zM265.92 367.61h1.0v1.0h-1.0zM266.45 369.73h1.0v1.0h-1.0zM267.35 366.66h1.0v1.0h-1.0zM267.12 367.4h1.0v1.0h-1.0zM266.81 361.16h1.0v1.0h-1.0zM266.4 362.6h1.0v1.0h-1.0zM267.32 356.96h1.0v1.0h-1.0zM266.73 375.46h1.0v1.0h-1.0zM266.02 356.47h1.0v1.0h-1.0zM266.44 361.1h1.0v1.0h-1.0zM267.1 374.24h1.0v1.0h-1.0zM266.16 356.07h1.0v1.0h-1.0zM265.5 363.56h1.0v1.0h-1.0zM265.99 376.64h1.0v1.0h-1.0zM266.6 359.65h1.0v1.0h-1.0zM267.1 374.49h1.0v1.0h-1.0zM265.79 365.72h1.0v1.0h-1.0zM266.28 348.91h1.0v1.0h-1.0zM266.22 356.54h1.0v1.0h-1.0zM266.6 348.63h1.0v1.0h-1.0zM267.01 359.34h1.0v1.0h-1.0zM264.98 366.01h1.0v1.0h-1.0zM265.73 380.87h1.0v1.0h-1.0zM266.48 366.56h1.0v1.0h-1.0zM266.5 375.48h1.0v1.0h-1.0zM266.65 361.81h1.0v1.0h-1.0zM267.46 356.2h1.0v1.0h-1.0zM266.75 367.93h1.0v1.0h-1.0zM266.55 365.12h1.0v1.0h-1.0zM265.88 354.8h1.0v1.0h-1.0zM266.15 360.29h1.0v1.0h-1.0zM265.82 353.82h1.0v1.0h-1.0zM265.33 369.01h1.0v1.0h-1.0zM265.94 363.15h1.0v1.0h-1.0zM266.02 351.11h1.0v1.0h-1.0zM266.45 352.81h1.0v1.0h-1.0zM266.89 345.76h1.0v1.0h-1.0zM266.44 358.92h1.0v1.0h-1.0zM266.01 372.3h1.0v1.0h-1.0zM266.19 365.51h1.0v1.0h-1.0zM266.74 368.57h1.0v1.0h-1.0zM265.34 356.01h1.0v1.0h-1.0zM266.47 364.98h1.0v1.0h-1.0zM267.12 360.82h1.0v1.0h-1.0zM266.79 356.02h1.0v1.0h-1.0zM265.77 359.67h1.0v1.0h-1.0zM265.94 361.17h1.0v1.0h-1.0zM266.82 364.89h1.0v1.0h-1.0zM266.03 360.97h1.0v1.0h-1.0zM266.65 366.2h1.0v1.0h-1.0zM266.98 375.15h1.0v1.0h-1.0zM267.22 361.54h1.0v1.0h-1.0zM266.4 366.24h1.0v1.0h-1.0zM267.01 357.24h1.0v1.0h-1.0z" fill="#ff0000" fill-opacity="0.6"/>
<line x1="40.4" y1="363.7" x2="323.4" y2="363.7" stroke="#222" stroke-width="1.35" stroke-dasharray="2.6 1.5"/>
<polyline points="40.4,314.17 41.82,314.17 43.23,314.17 44.64,314.17 46.06,314.17 47.48,314.17 48.89,314.17 50.31,314.17 51.72,314.17 53.13,314.17 54.55,314.17 55.97,314.17 57.38,314.17 58.79,314.17 60.21,314.17 61.62,314.17 63.04,314.17 64.46,314.17 65.87,314.17 67.28,314.17 68.7,314.18 70.12,314.18 71.53,314.18 72.94,314.18 74.36,314.18 75.78,314.18 77.19,314.19 78.61,314.19 80.02,314.19 81.43,314.19 82.85,314.2 84.27,314.2 85.68,314.2 87.09,314.21 88.51,314.21 89.92,314.22 91.34,314.22 92.76,314.23 94.17,314.23 95.58,314.24 97,314.25 98.42,314.26 99.83,314.27 101.24,314.28 102.66,314.29 104.08,314.3 105.49,314.31 106.91,314.33 108.32,314.35 109.73,314.36 111.15,314.38 112.57,314.4 113.98,314.43 115.39,314.45 116.81,314.48 118.22,314.51 119.64,314.55 121.06,314.59 122.47,314.63 123.88,314.67 125.3,314.72 126.72,314.78 128.13,314.84 129.54,314.9 130.96,314.98 132.38,315.05 133.79,315.14 135.21,315.24 136.62,315.34 138.03,315.45 139.45,315.57 140.87,315.71 142.28,315.85 143.69,316.01 145.11,316.19 146.53,316.37 147.94,316.58 149.36,316.8 150.77,317.04 152.18,317.3 153.6,317.59 155.02,317.89 156.43,318.22 157.84,318.58 159.26,318.96 160.67,319.37 162.09,319.8 163.51,320.27 164.92,320.77 166.33,321.3 167.75,321.87 169.17,322.46 170.58,323.09 171.99,323.75 173.41,324.45 174.82,325.18 176.24,325.93 177.66,326.72 179.07,327.54 180.48,328.38 181.9,329.25 183.32,330.14 184.73,331.05 186.14,331.98 187.56,332.92 188.98,333.87 190.39,334.82 191.81,335.78 193.22,336.75 194.63,337.71 196.05,338.66 197.47,339.61 198.88,340.54 200.29,341.47 201.71,342.37 203.12,343.26 204.54,344.13 205.96,344.98 207.37,345.81 208.78,346.62 210.2,347.4 211.62,348.15 213.03,348.88 214.44,349.59 215.86,350.27 217.28,350.92 218.69,351.55 220.11,352.15 221.52,352.73 222.93,353.28 224.35,353.81 225.77,354.32 227.18,354.8 228.59,355.27 230.01,355.71 231.43,356.13 232.84,356.53 234.26,356.91 235.67,357.28 237.08,357.62 238.5,357.95 239.92,358.27 241.33,358.56 242.74,358.85 244.16,359.11 245.57,359.37 246.99,359.61 248.41,359.84 249.82,360.06 251.23,360.27 252.65,360.47 254.07,360.65 255.48,360.83 256.89,361 258.31,361.16 259.73,361.31 261.14,361.45 262.56,361.59 263.97,361.72 265.38,361.84 266.8,361.95 268.22,362.06 269.63,362.17 271.05,362.27 272.46,362.36 273.88,362.45 275.29,362.53 276.7,362.61 278.12,362.69 279.53,362.76 280.95,362.83 282.37,362.89 283.78,362.95 285.19,363.01 286.61,363.06 288.02,363.12 289.44,363.17 290.86,363.21 292.27,363.26 293.68,363.3 295.1,363.34 296.51,363.37 297.93,363.41 299.34,363.44 300.76,363.48 302.18,363.51 303.59,363.53 305,363.56 306.42,363.59 307.83,363.61 309.25,363.63 310.67,363.66 312.08,363.68 313.5,363.7 314.91,363.72 316.32,363.73 317.74,363.75 319.15,363.77 320.57,363.78 321.98,363.79 323.4,363.81" fill="none" stroke="#bf00bf" stroke-opacity="0.7" stroke-width="1.15"/>
<polyline points="138.6,332.68 210.2,353.88 266.8,362.67" fill="none" stroke="#222" stroke-width="1.1"/>
<path d="M138.6 316.14V349.22M136.3 316.14H140.9M136.3 349.22H140.9" stroke="#111" stroke-width="1.15" fill="none"/>
<circle cx="138.6" cy="332.68" r="1.5" fill="#111"/>
<path d="M210.2 345.09V362.67M207.9 345.09H212.5M207.9 362.67H212.5" stroke="#111" stroke-width="1.15" fill="none"/>
<circle cx="210.2" cy="353.88" r="1.5" fill="#111"/>
<path d="M266.8 354.91V370.42M264.5 354.91H269.1M264.5 370.42H269.1" stroke="#111" stroke-width="1.15" fill="none"/>
<circle cx="266.8" cy="362.67" r="1.5" fill="#111"/>
<text x="111.7" y="382.3" font-size="10.5" class="s" textLength="52.6" lengthAdjust="spacingAndGlyphs">0.060 ± 0.032</text>
<text x="183" y="392.4" font-size="10.5" class="s" textLength="52.6" lengthAdjust="spacingAndGlyphs">0.019 ± 0.017</text>
<text x="240.5" y="402.5" font-size="10.5" class="s" textLength="52.6" lengthAdjust="spacingAndGlyphs">0.002 ± 0.015</text>
<path d="M476.61 329.36h1.0v1.0h-1.0zM476.45 309.01h1.0v1.0h-1.0zM476.72 324.21h1.0v1.0h-1.0zM476.8 318.45h1.0v1.0h-1.0zM477.82 312.4h1.0v1.0h-1.0zM476.13 323.2h1.0v1.0h-1.0zM476.68 305.1h1.0v1.0h-1.0zM477.37 323.61h1.0v1.0h-1.0zM477.81 315.7h1.0v1.0h-1.0zM477.16 329.4h1.0v1.0h-1.0zM477.54 340.48h1.0v1.0h-1.0zM476.33 317.84h1.0v1.0h-1.0zM477.33 305.12h1.0v1.0h-1.0zM477.25 326.16h1.0v1.0h-1.0zM477.1 325.98h1.0v1.0h-1.0zM476.63 320.07h1.0v1.0h-1.0zM476.71 328.95h1.0v1.0h-1.0zM477.2 322.34h1.0v1.0h-1.0zM476.92 312.98h1.0v1.0h-1.0zM477.6 315.88h1.0v1.0h-1.0zM476.03 333.1h1.0v1.0h-1.0zM477.13 316.9h1.0v1.0h-1.0zM475.39 324.71h1.0v1.0h-1.0zM476.53 328.42h1.0v1.0h-1.0zM476.39 321.4h1.0v1.0h-1.0zM477.77 322.43h1.0v1.0h-1.0zM477.2 321.71h1.0v1.0h-1.0zM477.11 319.79h1.0v1.0h-1.0zM476.81 314.43h1.0v1.0h-1.0zM476.55 319.34h1.0v1.0h-1.0zM476.61 324.93h1.0v1.0h-1.0zM477.18 317.12h1.0v1.0h-1.0zM476.76 315.71h1.0v1.0h-1.0zM476.75 339.33h1.0v1.0h-1.0zM477.31 321.56h1.0v1.0h-1.0zM477.25 336.82h1.0v1.0h-1.0zM477.32 337.69h1.0v1.0h-1.0zM476.57 324.92h1.0v1.0h-1.0zM476.95 314.07h1.0v1.0h-1.0zM476.99 302.97h1.0v1.0h-1.0zM477.52 314.65h1.0v1.0h-1.0zM476.43 316.59h1.0v1.0h-1.0zM477.24 310.07h1.0v1.0h-1.0zM477.18 318.18h1.0v1.0h-1.0zM477.11 320.2h1.0v1.0h-1.0zM476.58 322.18h1.0v1.0h-1.0zM476.59 318.02h1.0v1.0h-1.0zM477.36 316.91h1.0v1.0h-1.0zM477.38 315.94h1.0v1.0h-1.0zM476.91 325.37h1.0v1.0h-1.0zM477.12 319.29h1.0v1.0h-1.0zM477.2 306.34h1.0v1.0h-1.0zM477.43 321.08h1.0v1.0h-1.0zM477.18 318.78h1.0v1.0h-1.0zM477.15 326.19h1.0v1.0h-1.0zM476.58 322.07h1.0v1.0h-1.0zM475.85 311.45h1.0v1.0h-1.0zM476.96 327.36h1.0v1.0h-1.0zM476.84 321.5h1.0v1.0h-1.0zM476.69 331.62h1.0v1.0h-1.0zM476.84 324.45h1.0v1.0h-1.0zM476.8 337.27h1.0v1.0h-1.0zM478.24 311.24h1.0v1.0h-1.0zM477.72 328.82h1.0v1.0h-1.0zM476.79 324.14h1.0v1.0h-1.0zM477.18 326.83h1.0v1.0h-1.0zM477.04 313.4h1.0v1.0h-1.0zM476.8 312.92h1.0v1.0h-1.0zM477.65 331.27h1.0v1.0h-1.0zM476.91 310.66h1.0v1.0h-1.0zM477.12 322.63h1.0v1.0h-1.0zM476.62 330.24h1.0v1.0h-1.0zM476.22 329.4h1.0v1.0h-1.0zM476.81 328.86h1.0v1.0h-1.0zM476.22 333.03h1.0v1.0h-1.0zM477.41 327.92h1.0v1.0h-1.0zM477.07 325.72h1.0v1.0h-1.0zM476.68 318.21h1.0v1.0h-1.0zM478.32 313.45h1.0v1.0h-1.0zM477.59 330.82h1.0v1.0h-1.0zM476.7 306.61h1.0v1.0h-1.0zM477.32 314.6h1.0v1.0h-1.0zM477.69 321.81h1.0v1.0h-1.0zM476.14 325.98h1.0v1.0h-1.0zM476.97 306.62h1.0v1.0h-1.0zM476.48 315.63h1.0v1.0h-1.0zM475.79 321.3h1.0v1.0h-1.0zM476.9 318.89h1.0v1.0h-1.0zM477.61 319.93h1.0v1.0h-1.0zM477.71 326.64h1.0v1.0h-1.0zM476.46 324.28h1.0v1.0h-1.0zM477.08 322.2h1.0v1.0h-1.0zM477.15 313.3h1.0v1.0h-1.0zM477.17 318.79h1.0v1.0h-1.0zM477.23 322.57h1.0v1.0h-1.0zM476.49 324.7h1.0v1.0h-1.0zM476.71 332.5h1.0v1.0h-1.0zM476.52 324.01h1.0v1.0h-1.0zM476.88 317.95h1.0v1.0h-1.0zM477.59 319.93h1.0v1.0h-1.0zM476.71 324.2h1.0v1.0h-1.0zM477.02 331.41h1.0v1.0h-1.0zM476.94 314.77h1.0v1.0h-1.0zM476.32 314.3h1.0v1.0h-1.0zM478.37 320.13h1.0v1.0h-1.0zM477.22 311.96h1.0v1.0h-1.0zM477.03 318.22h1.0v1.0h-1.0zM477.62 320.77h1.0v1.0h-1.0zM477.59 310.65h1.0v1.0h-1.0zM478.2 320.21h1.0v1.0h-1.0zM476.28 313.11h1.0v1.0h-1.0zM476.63 317.94h1.0v1.0h-1.0zM477.83 332.63h1.0v1.0h-1.0zM476.68 310.68h1.0v1.0h-1.0zM475.96 338.41h1.0v1.0h-1.0zM476.8 327.69h1.0v1.0h-1.0zM476.86 323.69h1.0v1.0h-1.0zM476.49 321.13h1.0v1.0h-1.0zM477.2 334.51h1.0v1.0h-1.0zM477.79 310.34h1.0v1.0h-1.0zM476.63 321.59h1.0v1.0h-1.0zM476.94 332.95h1.0v1.0h-1.0zM477.05 319.55h1.0v1.0h-1.0zM477.81 324.33h1.0v1.0h-1.0zM477.78 320.39h1.0v1.0h-1.0zM476.84 336.74h1.0v1.0h-1.0z" fill="#ff0000" fill-opacity="0.6"/>
<path d="M548.06 347.12h1.0v1.0h-1.0zM548.43 351.41h1.0v1.0h-1.0zM549 352.85h1.0v1.0h-1.0zM547.62 356.23h1.0v1.0h-1.0zM548.52 345.89h1.0v1.0h-1.0zM549.2 344.3h1.0v1.0h-1.0zM549.13 353.09h1.0v1.0h-1.0zM547.58 349.11h1.0v1.0h-1.0zM549.97 351.05h1.0v1.0h-1.0zM548.51 339.98h1.0v1.0h-1.0zM549.41 356.41h1.0v1.0h-1.0zM548.95 359.05h1.0v1.0h-1.0zM548.89 350.53h1.0v1.0h-1.0zM548.53 341.67h1.0v1.0h-1.0zM548.82 352.06h1.0v1.0h-1.0zM549.76 344.61h1.0v1.0h-1.0zM548.19 354.98h1.0v1.0h-1.0zM549.14 356.4h1.0v1.0h-1.0zM547.9 356.95h1.0v1.0h-1.0zM548.52 349.84h1.0v1.0h-1.0zM549.31 348.2h1.0v1.0h-1.0zM548.53 344.09h1.0v1.0h-1.0zM548.49 355.06h1.0v1.0h-1.0zM548.26 355.84h1.0v1.0h-1.0zM548.99 356.15h1.0v1.0h-1.0zM548.51 349h1.0v1.0h-1.0zM549.32 346.91h1.0v1.0h-1.0zM549.26 357.65h1.0v1.0h-1.0zM548.7 353.81h1.0v1.0h-1.0zM549.29 351.45h1.0v1.0h-1.0zM547.74 355.61h1.0v1.0h-1.0zM548.86 357.19h1.0v1.0h-1.0zM548.41 356.58h1.0v1.0h-1.0zM548.91 357.06h1.0v1.0h-1.0zM548.27 352.78h1.0v1.0h-1.0zM548.3 353.34h1.0v1.0h-1.0zM548.65 352.36h1.0v1.0h-1.0zM548.6 345.83h1.0v1.0h-1.0zM548.39 350.05h1.0v1.0h-1.0zM548.58 349.86h1.0v1.0h-1.0zM548.89 356.46h1.0v1.0h-1.0zM548.88 351.29h1.0v1.0h-1.0zM549.16 351.66h1.0v1.0h-1.0zM549.33 353.91h1.0v1.0h-1.0zM547.76 353.3h1.0v1.0h-1.0zM548.46 351.88h1.0v1.0h-1.0zM548.94 342.59h1.0v1.0h-1.0zM549.9 353.11h1.0v1.0h-1.0zM549.26 351.81h1.0v1.0h-1.0zM548.12 355.03h1.0v1.0h-1.0zM549.22 348.7h1.0v1.0h-1.0zM549.66 351.01h1.0v1.0h-1.0zM548.49 346.67h1.0v1.0h-1.0zM549.1 345.89h1.0v1.0h-1.0zM548.27 342.29h1.0v1.0h-1.0zM549.12 357.62h1.0v1.0h-1.0zM549.36 351.78h1.0v1.0h-1.0zM548.94 352.6h1.0v1.0h-1.0zM549.02 347.76h1.0v1.0h-1.0zM548.96 345.77h1.0v1.0h-1.0zM548.24 346.17h1.0v1.0h-1.0zM548.89 350.28h1.0v1.0h-1.0zM547.55 348.82h1.0v1.0h-1.0zM549.62 346.38h1.0v1.0h-1.0zM549.22 352.66h1.0v1.0h-1.0zM549.12 343.06h1.0v1.0h-1.0zM548.73 349.5h1.0v1.0h-1.0zM548.49 357.3h1.0v1.0h-1.0zM548.92 344.58h1.0v1.0h-1.0zM549.44 346.04h1.0v1.0h-1.0zM548.76 357.28h1.0v1.0h-1.0zM548.86 350.8h1.0v1.0h-1.0zM549.19 345.17h1.0v1.0h-1.0zM549.19 350.15h1.0v1.0h-1.0zM549.27 341.52h1.0v1.0h-1.0zM548.47 356.01h1.0v1.0h-1.0zM548.44 352.41h1.0v1.0h-1.0zM548.85 348.21h1.0v1.0h-1.0zM548.55 353.99h1.0v1.0h-1.0zM548.66 363.14h1.0v1.0h-1.0zM548.13 349.88h1.0v1.0h-1.0zM548.85 349.6h1.0v1.0h-1.0zM548.84 353.45h1.0v1.0h-1.0zM548.52 358.37h1.0v1.0h-1.0zM549.39 356.78h1.0v1.0h-1.0zM549.13 350.4h1.0v1.0h-1.0zM547.99 359.93h1.0v1.0h-1.0zM548.75 341.3h1.0v1.0h-1.0zM549.07 354.32h1.0v1.0h-1.0zM549.21 358.52h1.0v1.0h-1.0zM549.45 358.12h1.0v1.0h-1.0zM548.32 362.69h1.0v1.0h-1.0zM549.77 348.77h1.0v1.0h-1.0zM548.21 357.25h1.0v1.0h-1.0zM549 363.14h1.0v1.0h-1.0zM548.58 350.07h1.0v1.0h-1.0zM549.26 344.02h1.0v1.0h-1.0zM548.2 348.79h1.0v1.0h-1.0zM548.11 354.51h1.0v1.0h-1.0zM547.77 353.02h1.0v1.0h-1.0zM548.31 360.27h1.0v1.0h-1.0zM548.68 342.25h1.0v1.0h-1.0zM548.93 352.1h1.0v1.0h-1.0zM549.52 351.19h1.0v1.0h-1.0zM549 354.23h1.0v1.0h-1.0zM548.11 353.54h1.0v1.0h-1.0zM548.63 344.05h1.0v1.0h-1.0zM548.33 350h1.0v1.0h-1.0zM549.67 356.7h1.0v1.0h-1.0zM548.39 356.13h1.0v1.0h-1.0zM548.54 348.63h1.0v1.0h-1.0zM548.57 352.7h1.0v1.0h-1.0zM548.85 359.23h1.0v1.0h-1.0zM548.33 349.37h1.0v1.0h-1.0zM549.19 356.54h1.0v1.0h-1.0zM549.09 349.96h1.0v1.0h-1.0zM547.99 353.93h1.0v1.0h-1.0zM548.62 353.8h1.0v1.0h-1.0zM548.7 340.85h1.0v1.0h-1.0zM549.22 349.67h1.0v1.0h-1.0zM548.25 353.8h1.0v1.0h-1.0zM549.1 354.15h1.0v1.0h-1.0zM548.98 356.97h1.0v1.0h-1.0zM549.12 352.01h1.0v1.0h-1.0zM548.6 364.18h1.0v1.0h-1.0zM549.64 351.83h1.0v1.0h-1.0z" fill="#ff0000" fill-opacity="0.6"/>
<path d="M604.9 363.8h1.0v1.0h-1.0zM603.97 361.94h1.0v1.0h-1.0zM603.82 359.7h1.0v1.0h-1.0zM604.22 363.51h1.0v1.0h-1.0zM605.25 354.35h1.0v1.0h-1.0zM603.35 365.44h1.0v1.0h-1.0zM603.58 356.86h1.0v1.0h-1.0zM604.02 370.2h1.0v1.0h-1.0zM603.84 372.23h1.0v1.0h-1.0zM604.31 365.42h1.0v1.0h-1.0zM604.31 359.24h1.0v1.0h-1.0zM603.39 356.96h1.0v1.0h-1.0zM604.29 362.03h1.0v1.0h-1.0zM604.87 364.22h1.0v1.0h-1.0zM604.38 361.41h1.0v1.0h-1.0zM605.03 364.56h1.0v1.0h-1.0zM604.35 365.88h1.0v1.0h-1.0zM604.08 364.17h1.0v1.0h-1.0zM603.92 363.42h1.0v1.0h-1.0zM605.35 356.87h1.0v1.0h-1.0zM604.79 363.53h1.0v1.0h-1.0zM603.73 367.3h1.0v1.0h-1.0zM603.56 361.74h1.0v1.0h-1.0zM603.99 356.67h1.0v1.0h-1.0zM604.56 366.59h1.0v1.0h-1.0zM603.94 363.54h1.0v1.0h-1.0zM603.76 364.36h1.0v1.0h-1.0zM603.94 368.39h1.0v1.0h-1.0zM605.03 369.55h1.0v1.0h-1.0zM604.75 365.42h1.0v1.0h-1.0zM604.99 360.23h1.0v1.0h-1.0zM604.01 368.95h1.0v1.0h-1.0zM604.98 362.55h1.0v1.0h-1.0zM605.16 364.88h1.0v1.0h-1.0zM604.37 362.76h1.0v1.0h-1.0zM603.73 363.05h1.0v1.0h-1.0zM603.93 358.71h1.0v1.0h-1.0zM603.89 371.29h1.0v1.0h-1.0zM604.52 358.23h1.0v1.0h-1.0zM604.02 357.27h1.0v1.0h-1.0zM604.28 362.58h1.0v1.0h-1.0zM604.1 367.99h1.0v1.0h-1.0zM604.85 369.78h1.0v1.0h-1.0zM603.84 368.37h1.0v1.0h-1.0zM603.81 362.17h1.0v1.0h-1.0zM603.81 359.51h1.0v1.0h-1.0zM604.36 353.91h1.0v1.0h-1.0zM603.84 357.64h1.0v1.0h-1.0zM604.92 367.35h1.0v1.0h-1.0zM603.92 359.86h1.0v1.0h-1.0zM603.38 360.38h1.0v1.0h-1.0zM604.14 356.65h1.0v1.0h-1.0zM604.59 360.9h1.0v1.0h-1.0zM604.96 359.6h1.0v1.0h-1.0zM603.52 355.36h1.0v1.0h-1.0zM604.48 358.54h1.0v1.0h-1.0zM604.49 359.16h1.0v1.0h-1.0zM604.13 363.99h1.0v1.0h-1.0zM604.1 363.72h1.0v1.0h-1.0zM604.08 369.88h1.0v1.0h-1.0zM603.77 355.19h1.0v1.0h-1.0zM604.06 365.54h1.0v1.0h-1.0zM604.46 360.96h1.0v1.0h-1.0zM604.91 359.42h1.0v1.0h-1.0zM604.06 358.51h1.0v1.0h-1.0zM603.87 365.43h1.0v1.0h-1.0zM604.18 363.16h1.0v1.0h-1.0zM604.97 367.74h1.0v1.0h-1.0zM605.03 364.18h1.0v1.0h-1.0zM604.5 364.54h1.0v1.0h-1.0zM604.33 365.23h1.0v1.0h-1.0zM604.46 361.95h1.0v1.0h-1.0zM604.07 369.82h1.0v1.0h-1.0zM604.05 366.32h1.0v1.0h-1.0zM604.49 358.79h1.0v1.0h-1.0zM603.9 365.85h1.0v1.0h-1.0zM603.65 366.95h1.0v1.0h-1.0zM603.89 363.55h1.0v1.0h-1.0zM604.87 367.38h1.0v1.0h-1.0zM603.79 358.17h1.0v1.0h-1.0zM604.48 364.19h1.0v1.0h-1.0zM604.26 368.19h1.0v1.0h-1.0zM604.75 365.64h1.0v1.0h-1.0zM604.54 362.87h1.0v1.0h-1.0zM603.33 364.17h1.0v1.0h-1.0zM604.53 367.04h1.0v1.0h-1.0zM604.11 361.43h1.0v1.0h-1.0zM604.71 364.6h1.0v1.0h-1.0zM604.17 370.26h1.0v1.0h-1.0zM604.02 361.03h1.0v1.0h-1.0zM604.01 368.06h1.0v1.0h-1.0zM604.2 358.3h1.0v1.0h-1.0zM603.89 357.25h1.0v1.0h-1.0zM604.12 357.9h1.0v1.0h-1.0zM604.65 364.01h1.0v1.0h-1.0zM603.96 362.64h1.0v1.0h-1.0zM604.55 359.48h1.0v1.0h-1.0zM603.61 368.27h1.0v1.0h-1.0zM605.08 363.49h1.0v1.0h-1.0zM604.65 371.67h1.0v1.0h-1.0zM604.08 363.02h1.0v1.0h-1.0zM605.51 364.7h1.0v1.0h-1.0zM603.53 366.74h1.0v1.0h-1.0zM604.63 365.24h1.0v1.0h-1.0zM603.69 360.08h1.0v1.0h-1.0zM605.02 359.14h1.0v1.0h-1.0zM603.94 365.02h1.0v1.0h-1.0zM604.79 357.74h1.0v1.0h-1.0zM604.41 356.91h1.0v1.0h-1.0zM603.93 360.51h1.0v1.0h-1.0zM603.25 360.39h1.0v1.0h-1.0zM603.65 356.7h1.0v1.0h-1.0zM603.97 355.29h1.0v1.0h-1.0zM604.06 365.33h1.0v1.0h-1.0zM604.34 361.35h1.0v1.0h-1.0zM604.16 369.9h1.0v1.0h-1.0zM604.88 369.32h1.0v1.0h-1.0zM604.71 361.46h1.0v1.0h-1.0zM605.04 355.33h1.0v1.0h-1.0zM605.03 365.77h1.0v1.0h-1.0zM604.7 364.68h1.0v1.0h-1.0zM604.49 363.12h1.0v1.0h-1.0zM603.85 359.94h1.0v1.0h-1.0zM604.08 359.2h1.0v1.0h-1.0zM604.67 355.75h1.0v1.0h-1.0zM604.98 372.54h1.0v1.0h-1.0zM604.23 364.93h1.0v1.0h-1.0z" fill="#ff0000" fill-opacity="0.6"/>
<line x1="380.3" y1="363.7" x2="663.2" y2="363.7" stroke="#222" stroke-width="1.35" stroke-dasharray="2.6 1.5"/>
<polyline points="380.3,314.17 381.71,314.17 383.13,314.17 384.54,314.17 385.96,314.17 387.37,314.17 388.79,314.17 390.2,314.17 391.62,314.17 393.03,314.17 394.44,314.17 395.86,314.17 397.27,314.17 398.69,314.17 400.1,314.17 401.52,314.17 402.93,314.17 404.35,314.17 405.76,314.17 407.18,314.17 408.59,314.18 410,314.18 411.42,314.18 412.83,314.18 414.25,314.18 415.66,314.18 417.08,314.19 418.49,314.19 419.91,314.19 421.32,314.19 422.74,314.2 424.15,314.2 425.56,314.2 426.98,314.21 428.39,314.21 429.81,314.22 431.22,314.22 432.64,314.23 434.05,314.23 435.47,314.24 436.88,314.25 438.29,314.26 439.71,314.27 441.12,314.28 442.54,314.29 443.95,314.3 445.37,314.31 446.78,314.33 448.2,314.35 449.61,314.36 451.03,314.38 452.44,314.4 453.85,314.43 455.27,314.45 456.68,314.48 458.1,314.51 459.51,314.55 460.93,314.59 462.34,314.63 463.76,314.67 465.17,314.72 466.58,314.78 468,314.84 469.41,314.9 470.83,314.98 472.24,315.05 473.66,315.14 475.07,315.24 476.49,315.34 477.9,315.45 479.31,315.57 480.73,315.71 482.14,315.85 483.56,316.01 484.97,316.19 486.39,316.37 487.8,316.58 489.22,316.8 490.63,317.04 492.05,317.3 493.46,317.59 494.87,317.89 496.29,318.22 497.7,318.58 499.12,318.96 500.53,319.37 501.95,319.8 503.36,320.27 504.78,320.77 506.19,321.3 507.61,321.87 509.02,322.46 510.43,323.09 511.85,323.75 513.26,324.45 514.68,325.18 516.09,325.93 517.51,326.72 518.92,327.54 520.34,328.38 521.75,329.25 523.16,330.14 524.58,331.05 525.99,331.98 527.41,332.92 528.82,333.87 530.24,334.82 531.65,335.78 533.07,336.75 534.48,337.71 535.89,338.66 537.31,339.61 538.72,340.54 540.14,341.47 541.55,342.37 542.97,343.26 544.38,344.13 545.8,344.98 547.21,345.81 548.63,346.62 550.04,347.4 551.45,348.15 552.87,348.88 554.28,349.59 555.7,350.27 557.11,350.92 558.53,351.55 559.94,352.15 561.36,352.73 562.77,353.28 564.19,353.81 565.6,354.32 567.01,354.8 568.43,355.27 569.84,355.71 571.26,356.13 572.67,356.53 574.09,356.91 575.5,357.28 576.92,357.62 578.33,357.95 579.74,358.27 581.16,358.56 582.57,358.85 583.99,359.11 585.4,359.37 586.82,359.61 588.23,359.84 589.65,360.06 591.06,360.27 592.48,360.47 593.89,360.65 595.3,360.83 596.72,361 598.13,361.16 599.55,361.31 600.96,361.45 602.38,361.59 603.79,361.72 605.21,361.84 606.62,361.95 608.03,362.06 609.45,362.17 610.86,362.27 612.28,362.36 613.69,362.45 615.11,362.53 616.52,362.61 617.94,362.69 619.35,362.76 620.77,362.83 622.18,362.89 623.59,362.95 625.01,363.01 626.42,363.06 627.84,363.12 629.25,363.17 630.67,363.21 632.08,363.26 633.5,363.3 634.91,363.34 636.32,363.37 637.74,363.41 639.15,363.44 640.57,363.48 641.98,363.51 643.4,363.53 644.81,363.56 646.23,363.59 647.64,363.61 649.06,363.63 650.47,363.66 651.88,363.68 653.3,363.7 654.71,363.72 656.13,363.73 657.54,363.75 658.96,363.77 660.37,363.78 661.79,363.79 663.2,363.81" fill="none" stroke="#bf00bf" stroke-opacity="0.7" stroke-width="1.15"/>
<polyline points="477.33,321.82 549.13,352.33 604.64,362.67" fill="none" stroke="#222" stroke-width="1.1"/>
<path d="M477.33 315.62V328.03M475.03 315.62H479.63M475.03 328.03H479.63" stroke="#111" stroke-width="1.15" fill="none"/>
<circle cx="477.33" cy="321.82" r="1.5" fill="#111"/>
<path d="M549.13 348.71V355.94M546.83 348.71H551.43M546.83 355.94H551.43" stroke="#111" stroke-width="1.15" fill="none"/>
<circle cx="549.13" cy="352.33" r="1.5" fill="#111"/>
<path d="M604.64 359.56V365.77M602.34 359.56H606.94M602.34 365.77H606.94" stroke="#111" stroke-width="1.15" fill="none"/>
<circle cx="604.64" cy="362.67" r="1.5" fill="#111"/>
<text x="450.7" y="382.2" font-size="10.5" class="s" textLength="52.6" lengthAdjust="spacingAndGlyphs">0.081 ± 0.012</text>
<text x="522.3" y="392.1" font-size="10.5" class="s" textLength="52.6" lengthAdjust="spacingAndGlyphs">0.022 ± 0.007</text>
<text x="578" y="403.2" font-size="10.5" class="s" textLength="52.6" lengthAdjust="spacingAndGlyphs">0.002 ± 0.006</text>
<rect x="126.3" y="265.7" width="192.1" height="16.9" fill="#fff" fill-opacity="0.85" stroke="#ececec" stroke-width="0.8" rx="1.5"/>
<line x1="130.2" y1="272.2" x2="150.1" y2="272.2" stroke="#bf00bf" stroke-opacity="0.7" stroke-width="1.15"/>
<text x="157.2" y="276.4" font-size="11" font-style="italic">δ</text>
<text x="162.4" y="277.9" font-size="7.4" textLength="51.2" lengthAdjust="spacingAndGlyphs">AQUAL − Newton</text>
<text x="216.6" y="276.4" font-size="9.7" textLength="98.2" lengthAdjust="spacing">(circular orbit prediction)</text>
<path d="M40.3 20.8H323.3M40.3 235.7H323.3" fill="none" stroke="#9c9c9c" stroke-width="1.4"/>
<path d="M40.3 20.1V236.4M323.3 20.1V236.4" fill="none" stroke="#7a7a7a" stroke-width="1.0"/>
<line x1="68.6" y1="234.7" x2="68.6" y2="236.9" stroke="#222" stroke-width="0.9"/>
<line x1="68.6" y1="19.6" x2="68.6" y2="21.8" stroke="#222" stroke-width="0.9"/>
<line x1="96.9" y1="234.7" x2="96.9" y2="236.9" stroke="#222" stroke-width="0.9"/>
<line x1="96.9" y1="19.6" x2="96.9" y2="21.8" stroke="#222" stroke-width="0.9"/>
<line x1="125.2" y1="234.7" x2="125.2" y2="236.9" stroke="#222" stroke-width="0.9"/>
<line x1="125.2" y1="19.6" x2="125.2" y2="21.8" stroke="#222" stroke-width="0.9"/>
<line x1="153.5" y1="234.7" x2="153.5" y2="236.9" stroke="#222" stroke-width="0.9"/>
<line x1="153.5" y1="19.6" x2="153.5" y2="21.8" stroke="#222" stroke-width="0.9"/>
<line x1="181.8" y1="234.7" x2="181.8" y2="236.9" stroke="#222" stroke-width="0.9"/>
<line x1="181.8" y1="19.6" x2="181.8" y2="21.8" stroke="#222" stroke-width="0.9"/>
<line x1="210.1" y1="234.7" x2="210.1" y2="236.9" stroke="#222" stroke-width="0.9"/>
<line x1="210.1" y1="19.6" x2="210.1" y2="21.8" stroke="#222" stroke-width="0.9"/>
<line x1="238.4" y1="234.7" x2="238.4" y2="236.9" stroke="#222" stroke-width="0.9"/>
<line x1="238.4" y1="19.6" x2="238.4" y2="21.8" stroke="#222" stroke-width="0.9"/>
<line x1="266.7" y1="234.7" x2="266.7" y2="236.9" stroke="#222" stroke-width="0.9"/>
<line x1="266.7" y1="19.6" x2="266.7" y2="21.8" stroke="#222" stroke-width="0.9"/>
<line x1="295" y1="234.7" x2="295" y2="236.9" stroke="#222" stroke-width="0.9"/>
<line x1="295" y1="19.6" x2="295" y2="21.8" stroke="#222" stroke-width="0.9"/>
<line x1="39.1" y1="40.34" x2="41.3" y2="40.34" stroke="#222" stroke-width="0.9"/>
<line x1="322.3" y1="40.34" x2="324.5" y2="40.34" stroke="#222" stroke-width="0.9"/>
<line x1="39.1" y1="59.87" x2="41.3" y2="59.87" stroke="#222" stroke-width="0.9"/>
<line x1="322.3" y1="59.87" x2="324.5" y2="59.87" stroke="#222" stroke-width="0.9"/>
<line x1="39.1" y1="79.41" x2="41.3" y2="79.41" stroke="#222" stroke-width="0.9"/>
<line x1="322.3" y1="79.41" x2="324.5" y2="79.41" stroke="#222" stroke-width="0.9"/>
<line x1="39.1" y1="98.95" x2="41.3" y2="98.95" stroke="#222" stroke-width="0.9"/>
<line x1="322.3" y1="98.95" x2="324.5" y2="98.95" stroke="#222" stroke-width="0.9"/>
<line x1="39.1" y1="118.48" x2="41.3" y2="118.48" stroke="#222" stroke-width="0.9"/>
<line x1="322.3" y1="118.48" x2="324.5" y2="118.48" stroke="#222" stroke-width="0.9"/>
<line x1="39.1" y1="138.02" x2="41.3" y2="138.02" stroke="#222" stroke-width="0.9"/>
<line x1="322.3" y1="138.02" x2="324.5" y2="138.02" stroke="#222" stroke-width="0.9"/>
<line x1="39.1" y1="157.55" x2="41.3" y2="157.55" stroke="#222" stroke-width="0.9"/>
<line x1="322.3" y1="157.55" x2="324.5" y2="157.55" stroke="#222" stroke-width="0.9"/>
<line x1="39.1" y1="177.09" x2="41.3" y2="177.09" stroke="#222" stroke-width="0.9"/>
<line x1="322.3" y1="177.09" x2="324.5" y2="177.09" stroke="#222" stroke-width="0.9"/>
<line x1="39.1" y1="196.63" x2="41.3" y2="196.63" stroke="#222" stroke-width="0.9"/>
<line x1="322.3" y1="196.63" x2="324.5" y2="196.63" stroke="#222" stroke-width="0.9"/>
<line x1="39.1" y1="216.16" x2="41.3" y2="216.16" stroke="#222" stroke-width="0.9"/>
<line x1="322.3" y1="216.16" x2="324.5" y2="216.16" stroke="#222" stroke-width="0.9"/>
<line x1="39.1" y1="235.7" x2="41.3" y2="235.7" stroke="#222" stroke-width="0.9"/>
<line x1="322.3" y1="235.7" x2="324.5" y2="235.7" stroke="#222" stroke-width="0.9"/>
<path d="M380.2 20.9H663.2M380.2 235.8H663.2" fill="none" stroke="#9c9c9c" stroke-width="1.4"/>
<path d="M380.2 20.2V236.5M663.2 20.2V236.5" fill="none" stroke="#7a7a7a" stroke-width="1.0"/>
<line x1="408.5" y1="234.8" x2="408.5" y2="237" stroke="#222" stroke-width="0.9"/>
<line x1="408.5" y1="19.7" x2="408.5" y2="21.9" stroke="#222" stroke-width="0.9"/>
<line x1="436.8" y1="234.8" x2="436.8" y2="237" stroke="#222" stroke-width="0.9"/>
<line x1="436.8" y1="19.7" x2="436.8" y2="21.9" stroke="#222" stroke-width="0.9"/>
<line x1="465.1" y1="234.8" x2="465.1" y2="237" stroke="#222" stroke-width="0.9"/>
<line x1="465.1" y1="19.7" x2="465.1" y2="21.9" stroke="#222" stroke-width="0.9"/>
<line x1="493.4" y1="234.8" x2="493.4" y2="237" stroke="#222" stroke-width="0.9"/>
<line x1="493.4" y1="19.7" x2="493.4" y2="21.9" stroke="#222" stroke-width="0.9"/>
<line x1="521.7" y1="234.8" x2="521.7" y2="237" stroke="#222" stroke-width="0.9"/>
<line x1="521.7" y1="19.7" x2="521.7" y2="21.9" stroke="#222" stroke-width="0.9"/>
<line x1="550" y1="234.8" x2="550" y2="237" stroke="#222" stroke-width="0.9"/>
<line x1="550" y1="19.7" x2="550" y2="21.9" stroke="#222" stroke-width="0.9"/>
<line x1="578.3" y1="234.8" x2="578.3" y2="237" stroke="#222" stroke-width="0.9"/>
<line x1="578.3" y1="19.7" x2="578.3" y2="21.9" stroke="#222" stroke-width="0.9"/>
<line x1="606.6" y1="234.8" x2="606.6" y2="237" stroke="#222" stroke-width="0.9"/>
<line x1="606.6" y1="19.7" x2="606.6" y2="21.9" stroke="#222" stroke-width="0.9"/>
<line x1="634.9" y1="234.8" x2="634.9" y2="237" stroke="#222" stroke-width="0.9"/>
<line x1="634.9" y1="19.7" x2="634.9" y2="21.9" stroke="#222" stroke-width="0.9"/>
<line x1="379" y1="42.39" x2="381.2" y2="42.39" stroke="#222" stroke-width="0.9"/>
<line x1="662.2" y1="42.39" x2="664.4" y2="42.39" stroke="#222" stroke-width="0.9"/>
<line x1="379" y1="63.88" x2="381.2" y2="63.88" stroke="#222" stroke-width="0.9"/>
<line x1="662.2" y1="63.88" x2="664.4" y2="63.88" stroke="#222" stroke-width="0.9"/>
<line x1="379" y1="85.37" x2="381.2" y2="85.37" stroke="#222" stroke-width="0.9"/>
<line x1="662.2" y1="85.37" x2="664.4" y2="85.37" stroke="#222" stroke-width="0.9"/>
<line x1="379" y1="106.86" x2="381.2" y2="106.86" stroke="#222" stroke-width="0.9"/>
<line x1="662.2" y1="106.86" x2="664.4" y2="106.86" stroke="#222" stroke-width="0.9"/>
<line x1="379" y1="128.35" x2="381.2" y2="128.35" stroke="#222" stroke-width="0.9"/>
<line x1="662.2" y1="128.35" x2="664.4" y2="128.35" stroke="#222" stroke-width="0.9"/>
<line x1="379" y1="149.84" x2="381.2" y2="149.84" stroke="#222" stroke-width="0.9"/>
<line x1="662.2" y1="149.84" x2="664.4" y2="149.84" stroke="#222" stroke-width="0.9"/>
<line x1="379" y1="171.33" x2="381.2" y2="171.33" stroke="#222" stroke-width="0.9"/>
<line x1="662.2" y1="171.33" x2="664.4" y2="171.33" stroke="#222" stroke-width="0.9"/>
<line x1="379" y1="192.82" x2="381.2" y2="192.82" stroke="#222" stroke-width="0.9"/>
<line x1="662.2" y1="192.82" x2="664.4" y2="192.82" stroke="#222" stroke-width="0.9"/>
<line x1="379" y1="214.31" x2="381.2" y2="214.31" stroke="#222" stroke-width="0.9"/>
<line x1="662.2" y1="214.31" x2="664.4" y2="214.31" stroke="#222" stroke-width="0.9"/>
<line x1="379" y1="235.8" x2="381.2" y2="235.8" stroke="#222" stroke-width="0.9"/>
<line x1="662.2" y1="235.8" x2="664.4" y2="235.8" stroke="#222" stroke-width="0.9"/>
<path d="M40.4 260.3H323.4M40.4 415.4H323.4" fill="none" stroke="#7c7c7c" stroke-width="1.0"/>
<path d="M40.4 259.8V415.9M323.4 259.8V415.9" fill="none" stroke="#7a7a7a" stroke-width="1.0"/>
<line x1="68.7" y1="414.4" x2="68.7" y2="416.6" stroke="#222" stroke-width="0.9"/>
<line x1="68.7" y1="259.1" x2="68.7" y2="261.3" stroke="#222" stroke-width="0.9"/>
<line x1="97" y1="414.4" x2="97" y2="416.6" stroke="#222" stroke-width="0.9"/>
<line x1="97" y1="259.1" x2="97" y2="261.3" stroke="#222" stroke-width="0.9"/>
<line x1="125.3" y1="414.4" x2="125.3" y2="416.6" stroke="#222" stroke-width="0.9"/>
<line x1="125.3" y1="259.1" x2="125.3" y2="261.3" stroke="#222" stroke-width="0.9"/>
<line x1="153.6" y1="414.4" x2="153.6" y2="416.6" stroke="#222" stroke-width="0.9"/>
<line x1="153.6" y1="259.1" x2="153.6" y2="261.3" stroke="#222" stroke-width="0.9"/>
<line x1="181.9" y1="414.4" x2="181.9" y2="416.6" stroke="#222" stroke-width="0.9"/>
<line x1="181.9" y1="259.1" x2="181.9" y2="261.3" stroke="#222" stroke-width="0.9"/>
<line x1="210.2" y1="414.4" x2="210.2" y2="416.6" stroke="#222" stroke-width="0.9"/>
<line x1="210.2" y1="259.1" x2="210.2" y2="261.3" stroke="#222" stroke-width="0.9"/>
<line x1="238.5" y1="414.4" x2="238.5" y2="416.6" stroke="#222" stroke-width="0.9"/>
<line x1="238.5" y1="259.1" x2="238.5" y2="261.3" stroke="#222" stroke-width="0.9"/>
<line x1="266.8" y1="414.4" x2="266.8" y2="416.6" stroke="#222" stroke-width="0.9"/>
<line x1="266.8" y1="259.1" x2="266.8" y2="261.3" stroke="#222" stroke-width="0.9"/>
<line x1="295.1" y1="414.4" x2="295.1" y2="416.6" stroke="#222" stroke-width="0.9"/>
<line x1="295.1" y1="259.1" x2="295.1" y2="261.3" stroke="#222" stroke-width="0.9"/>
<line x1="39.2" y1="260.3" x2="41.4" y2="260.3" stroke="#222" stroke-width="0.9"/>
<line x1="322.4" y1="260.3" x2="324.6" y2="260.3" stroke="#222" stroke-width="0.9"/>
<line x1="39.2" y1="286.15" x2="41.4" y2="286.15" stroke="#222" stroke-width="0.9"/>
<line x1="322.4" y1="286.15" x2="324.6" y2="286.15" stroke="#222" stroke-width="0.9"/>
<line x1="39.2" y1="312" x2="41.4" y2="312" stroke="#222" stroke-width="0.9"/>
<line x1="322.4" y1="312" x2="324.6" y2="312" stroke="#222" stroke-width="0.9"/>
<line x1="39.2" y1="337.85" x2="41.4" y2="337.85" stroke="#222" stroke-width="0.9"/>
<line x1="322.4" y1="337.85" x2="324.6" y2="337.85" stroke="#222" stroke-width="0.9"/>
<line x1="39.2" y1="363.7" x2="41.4" y2="363.7" stroke="#222" stroke-width="0.9"/>
<line x1="322.4" y1="363.7" x2="324.6" y2="363.7" stroke="#222" stroke-width="0.9"/>
<line x1="39.2" y1="389.55" x2="41.4" y2="389.55" stroke="#222" stroke-width="0.9"/>
<line x1="322.4" y1="389.55" x2="324.6" y2="389.55" stroke="#222" stroke-width="0.9"/>
<line x1="39.2" y1="415.4" x2="41.4" y2="415.4" stroke="#222" stroke-width="0.9"/>
<line x1="322.4" y1="415.4" x2="324.6" y2="415.4" stroke="#222" stroke-width="0.9"/>
<path d="M380.3 260.3H663.2M380.3 415.4H663.2" fill="none" stroke="#7c7c7c" stroke-width="1.0"/>
<path d="M380.3 259.8V415.9M663.2 259.8V415.9" fill="none" stroke="#7a7a7a" stroke-width="1.0"/>
<line x1="408.59" y1="414.4" x2="408.59" y2="416.6" stroke="#222" stroke-width="0.9"/>
<line x1="408.59" y1="259.1" x2="408.59" y2="261.3" stroke="#222" stroke-width="0.9"/>
<line x1="436.88" y1="414.4" x2="436.88" y2="416.6" stroke="#222" stroke-width="0.9"/>
<line x1="436.88" y1="259.1" x2="436.88" y2="261.3" stroke="#222" stroke-width="0.9"/>
<line x1="465.17" y1="414.4" x2="465.17" y2="416.6" stroke="#222" stroke-width="0.9"/>
<line x1="465.17" y1="259.1" x2="465.17" y2="261.3" stroke="#222" stroke-width="0.9"/>
<line x1="493.46" y1="414.4" x2="493.46" y2="416.6" stroke="#222" stroke-width="0.9"/>
<line x1="493.46" y1="259.1" x2="493.46" y2="261.3" stroke="#222" stroke-width="0.9"/>
<line x1="521.75" y1="414.4" x2="521.75" y2="416.6" stroke="#222" stroke-width="0.9"/>
<line x1="521.75" y1="259.1" x2="521.75" y2="261.3" stroke="#222" stroke-width="0.9"/>
<line x1="550.04" y1="414.4" x2="550.04" y2="416.6" stroke="#222" stroke-width="0.9"/>
<line x1="550.04" y1="259.1" x2="550.04" y2="261.3" stroke="#222" stroke-width="0.9"/>
<line x1="578.33" y1="414.4" x2="578.33" y2="416.6" stroke="#222" stroke-width="0.9"/>
<line x1="578.33" y1="259.1" x2="578.33" y2="261.3" stroke="#222" stroke-width="0.9"/>
<line x1="606.62" y1="414.4" x2="606.62" y2="416.6" stroke="#222" stroke-width="0.9"/>
<line x1="606.62" y1="259.1" x2="606.62" y2="261.3" stroke="#222" stroke-width="0.9"/>
<line x1="634.91" y1="414.4" x2="634.91" y2="416.6" stroke="#222" stroke-width="0.9"/>
<line x1="634.91" y1="259.1" x2="634.91" y2="261.3" stroke="#222" stroke-width="0.9"/>
<line x1="379.1" y1="260.3" x2="381.3" y2="260.3" stroke="#222" stroke-width="0.9"/>
<line x1="662.2" y1="260.3" x2="664.4" y2="260.3" stroke="#222" stroke-width="0.9"/>
<line x1="379.1" y1="286.15" x2="381.3" y2="286.15" stroke="#222" stroke-width="0.9"/>
<line x1="662.2" y1="286.15" x2="664.4" y2="286.15" stroke="#222" stroke-width="0.9"/>
<line x1="379.1" y1="312" x2="381.3" y2="312" stroke="#222" stroke-width="0.9"/>
<line x1="662.2" y1="312" x2="664.4" y2="312" stroke="#222" stroke-width="0.9"/>
<line x1="379.1" y1="337.85" x2="381.3" y2="337.85" stroke="#222" stroke-width="0.9"/>
<line x1="662.2" y1="337.85" x2="664.4" y2="337.85" stroke="#222" stroke-width="0.9"/>
<line x1="379.1" y1="363.7" x2="381.3" y2="363.7" stroke="#222" stroke-width="0.9"/>
<line x1="662.2" y1="363.7" x2="664.4" y2="363.7" stroke="#222" stroke-width="0.9"/>
<line x1="379.1" y1="389.55" x2="381.3" y2="389.55" stroke="#222" stroke-width="0.9"/>
<line x1="662.2" y1="389.55" x2="664.4" y2="389.55" stroke="#222" stroke-width="0.9"/>
<line x1="379.1" y1="415.4" x2="381.3" y2="415.4" stroke="#222" stroke-width="0.9"/>
<line x1="662.2" y1="415.4" x2="664.4" y2="415.4" stroke="#222" stroke-width="0.9"/>
<text x="175.1" y="437.4" font-size="15.5" font-style="italic">x</text>
<text x="182.9" y="439.3" font-size="12.3">0</text>
<text x="514.9" y="437.4" font-size="15.5" font-style="italic">x</text>
<text x="522.7" y="439.3" font-size="12.3">0</text>
<text transform="translate(13.3,366.2) rotate(-90)" font-size="15.2" font-style="italic">δ</text>
<text transform="translate(15.1,358.4) rotate(-90)" font-size="10.7">obs</text>
<path d="M12.3 334.4V340.0" stroke="#111" stroke-width="0.8"/>
<text transform="translate(15.1,331.6) rotate(-90)" font-size="10.9">newt</text>
<g fill="none" stroke="#111" stroke-linejoin="miter"><path d="M1.3 116.4 L8.7 112.7 L16.1 116.4" stroke-width="0.85"/><path d="M7.6 122.4 H14.3 M14.3 119.2 V125.7" stroke-width="0.85"/><path d="M12.3 127.9 L2.1 132.5 L12.3 137.1" stroke-width="0.75"/><path d="M12.4 127.6 V137.4" stroke-width="1.7"/><path d="M1.3 139.2 L8.7 142.9 L16.1 139.2" stroke-width="0.85"/></g>
<text x="124.4" y="12.9" font-size="17.4" textLength="118.2" lengthAdjust="spacing">with values from</text>
<text x="247" y="12.9" font-size="17.4" font-style="italic">p</text>
<text x="256.6" y="12.9" font-size="17.4">(</text>
<text x="262.6" y="12.9" font-size="17.4" font-style="italic">e</text>
<text x="270.2" y="12.9" font-size="17.4">)</text>
<path d="M279.9 6.7H290.2M279.9 10.1H290.2" stroke="#111" stroke-width="1.0"/>
<text x="293.6" y="12.9" font-size="17.4">(</text>
<text x="300.4" y="12.9" font-size="17.4">1</text>
<path d="M312 8.7H321.9M316.95 3.8V13.6" stroke="#111" stroke-width="1.0"/>
<text x="324.6" y="12.9" font-size="17.4" font-style="italic">γ</text>
<text x="332.9" y="16.1" font-size="12" font-style="italic">e</text>
<text x="338.8" y="12.9" font-size="17.4">)</text>
<text x="344.8" y="12.9" font-size="17.4" font-style="italic">e</text>
<text x="352.2" y="6.7" font-size="9.6" font-style="italic" textLength="6.0" lengthAdjust="spacingAndGlyphs">γ</text>
<text x="358.5" y="8.3" font-size="8.5" font-style="italic">e</text>
<text x="370.2" y="12.9" font-size="17.4" textLength="35.8" lengthAdjust="spacing">when</text>
<text x="410.6" y="12.9" font-size="17.4" font-style="italic">e</text>
<text x="422.3" y="12.9" font-size="17.4" textLength="11.3" lengthAdjust="spacingAndGlyphs">≥</text>
<text x="436.4" y="12.9" font-size="17.4">0.99</text>
<text x="472.4" y="12.9" font-size="17.4">:</text>
<text x="481.6" y="12.9" font-size="17.4" textLength="97.6" lengthAdjust="spacing">clean samples</text>
</svg>
</body></html>
